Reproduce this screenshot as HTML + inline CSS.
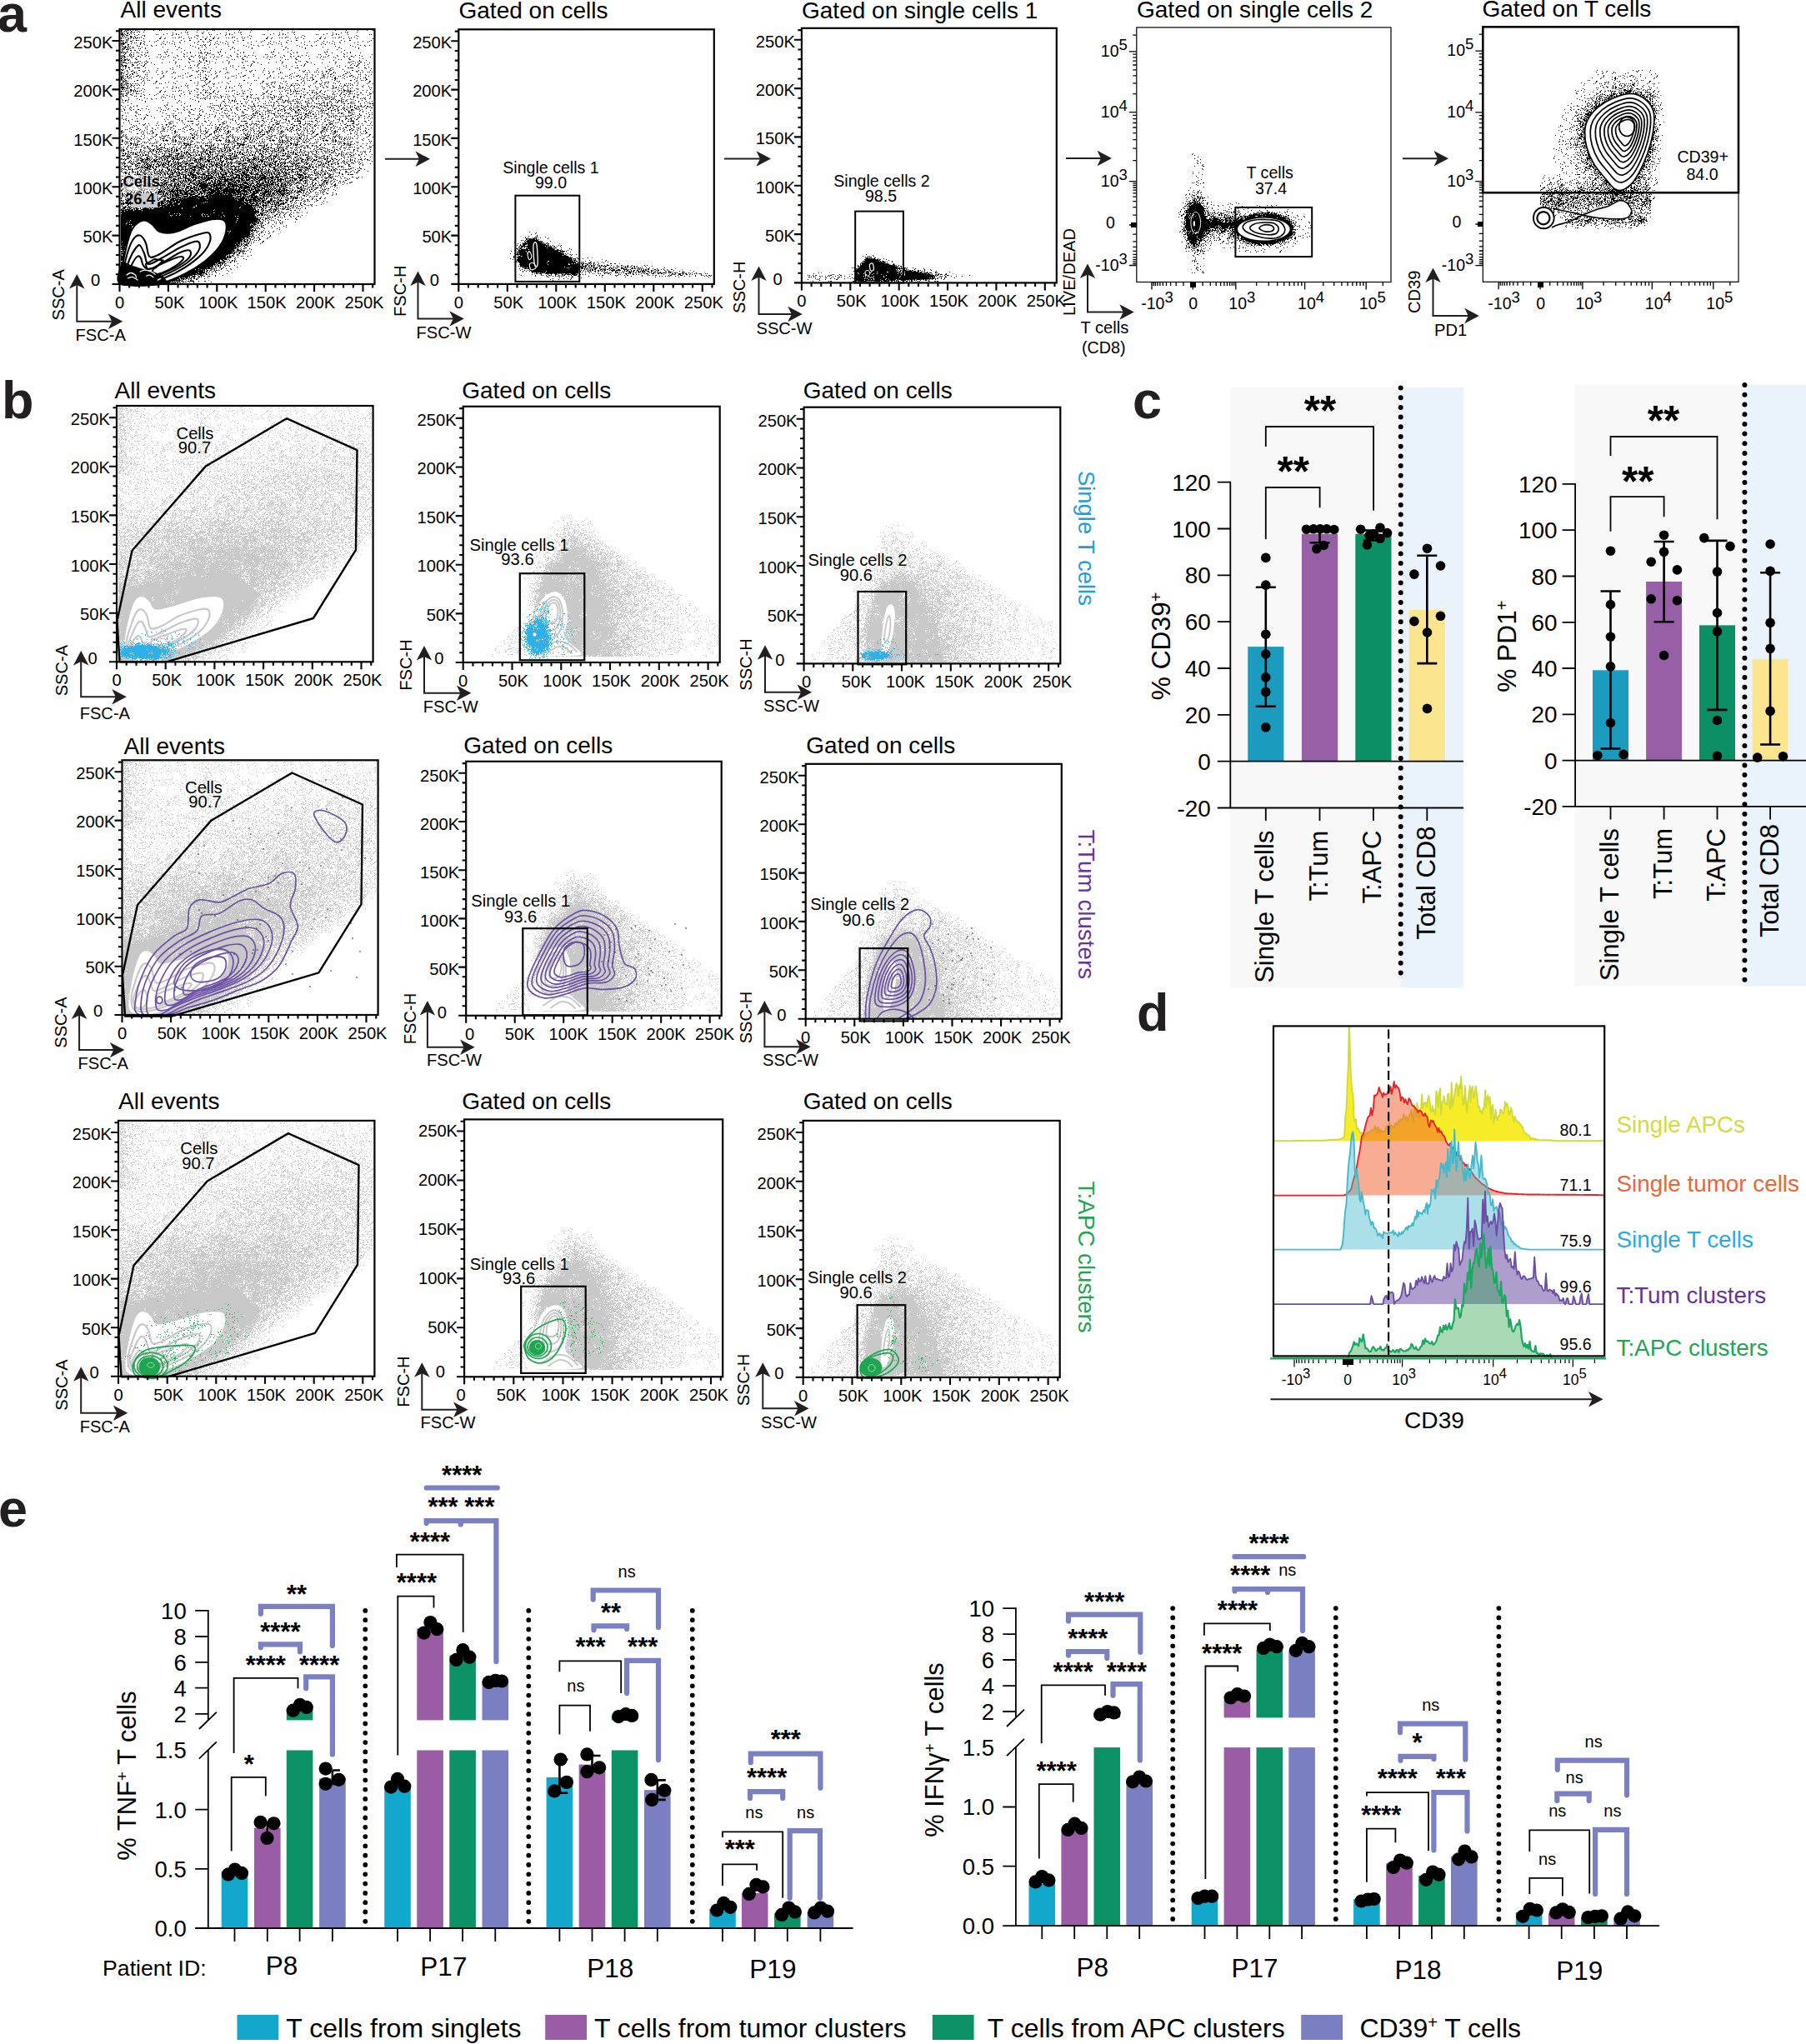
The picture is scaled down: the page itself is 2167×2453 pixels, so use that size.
<!DOCTYPE html><html><head><meta charset="utf-8"><title>Figure</title><style>html,body{margin:0;padding:0;background:#fff}svg{display:block}text{font-family:"Liberation Sans",sans-serif}</style></head><body><svg width="2167" height="2453" viewBox="0 0 2167 2453"><rect width="2167" height="2453" fill="#fff"/><defs><path id="t0" d="M28 0h1m-29 1h1m6 0h1m21 0h1m32 0h1m-53 1h1m9 0h1m21 0h1m4 0h1m-47 1h1m7 0h1m11 0h1m6 0h1m3 0h1m4 0h2m11 0h1m-47 1h1m1 0h1m9 0h1m12 0h1m10 0h1m19 0h1m-61 1h1m17 0h1m16 0h1m-2 1h1m16 0h1m-49 1h1m18 0h1m2 0h1m9 0h2m-21 1h1m21 1h1m1 0h1m6 0h1m-37 1h1m6 0h2m14 0h1m13 0h2m-48 1h1m32 0h1m17 0h1m-36 1h1m27 0h1m-2 1h1m11 0h1m-35 1h1m12 0h1m4 0h1m3 0h1m-26 1h1m9 0h1m13 0h1m-22 1h1m-9 1h1m18 0h1m1 0h2m-26 1h1m48 0h1m-47 1h1m11 0h1m11 1h1m6 0h1m3 0h1m9 0h1m-59 1h1m5 0h1m34 0h1m1 0h1m-39 1h1m8 0h1m27 0h1m14 0h1m-57 1h1m12 0h1m1 0h1m14 0h1m-32 1h1m11 0h1m15 0h1m17 1h1m12 0h1m-58 1h1m22 0h1m9 0h2m-35 1h1m17 0h1m1 0h1m10 0h2m11 0h1m-46 1h1m10 0h1m17 0h1m-32 1h1m16 0h1m8 0h1m14 0h1m11 0h1m-55 1h1m16 0h1m18 2h2m11 0h1m1 0h1m-32 1h1m38 0h2m-51 1h1m48 0h1m-54 1h1m9 0h1m24 0h1m16 0h1m-58 1h1m16 0h1m12 0h1m13 0h1m10 0h1m6 0h1m-34 2h1m2 0h1m10 0h1m-30 1h1m9 0h1m6 0h1m-25 1h1m10 0h1m-16 1h1m10 0h1m3 0h1m2 0h1m10 0h1m25 0h1m1 0h1m-48 1h1m28 0h1m1 1h1m-45 1h1m21 0h1m1 0h1m8 0h1m6 0h1m-42 1h1m5 0h1m8 0h1m2 0h1m3 0h1m14 0h1m-38 1h1m4 0h1m22 0h1m6 0h1m8 0h1m18 0h1m-39 2h1m9 0h2m24 0h1m-58 1h1m10 0h1m13 0h1m21 0h1m7 0h1m-52 1h1m14 0h1m21 0h1m11 0h1m-56 1h1m8 0h1m5 0h1m6 0h1m16 0h1m-38 1h1m9 0h1m-14 1h1m4 0h1m10 0h1m27 0h1m-10 1h1m11 0h1m4 0h1m5 0h1m-42 1h1m20 0h1m14 0h1m-52 1h1m19 0h1m18 0h1m-21 1h1m23 0h1m-22 1h1m20 0h1m-38 1h1m10 0h1m8 1h1m-22 1h1m-4 1h1m2 0h1m16 0h1m10 0h1m-31 1h1m7 0h1m17 0h1m3 0h1m11 0h1" stroke-width="1" fill="none" transform="translate(0 .5)"/><path id="t1" d="M22 0h1m27 0h1m6 0h1m1 0h1m-49 1h1m15 0h1m13 0h1m3 0h1m15 0h1m-53 1h1m5 0h1m11 0h1m-27 1h1m44 0h1m-34 1h2m6 0h1m26 0h1m-2 1h1m3 0h1m-42 1h1m2 1h1m-7 1h1m6 0h1m11 0h1m20 0h1m7 0h1m-28 1h1m30 0h1m2 0h1m-61 1h1m6 0h1m5 0h1m20 0h2m7 0h1m-30 1h1m6 0h1m2 0h1m3 0h1m2 0h1m8 0h1m16 0h1m-59 1h1m9 0h1m4 0h1m22 0h1m7 0h1m-41 1h1m22 0h2m5 0h1m-20 1h1m34 0h1m-49 1h1m3 0h1m12 0h1m20 0h1m-18 1h1m31 0h1m-53 1h1m6 0h1m12 0h1m6 0h1m4 0h2m6 0h1m6 0h2m0 1h1m-46 1h2m3 0h1m4 0h1m-9 1h2m24 0h1m7 0h1m-40 1h1m3 0h1m17 0h1m2 1h1m2 0h1m15 0h1m5 0h1m4 0h1m-53 1h1m22 0h1m14 0h1m-40 1h1m21 0h1m4 0h1m-33 1h1m1 0h1m5 0h2m14 0h1m17 0h1m7 0h1m6 0h1m-60 1h1m13 0h1m38 0h1m-51 1h1m3 0h1m2 0h1m16 0h1m10 0h1m17 0h1m-41 1h1m20 0h1m5 0h1m8 0h1m-52 1h1m1 0h1m2 0h1m8 0h1m9 0h1m24 0h1m-35 1h1m1 0h1m8 0h1m14 0h1m3 0h1m6 0h1m-42 1h1m3 0h1m22 0h1m13 0h2m-56 1h1m15 0h1m19 0h1m6 0h1m9 0h1m-32 1h1m19 0h1m-42 1h1m4 0h1m1 0h1m12 0h1m22 0h1m-41 1h1m-5 1h1m7 0h1m14 0h1m9 0h1m1 0h1m-37 1h1m4 0h1m23 0h1m8 0h1m-37 1h1m12 0h1m7 0h1m5 0h1m6 0h1m2 0h1m12 0h1m-53 1h1m6 0h1m20 0h1m21 0h1m7 0h1m-56 1h1m5 0h1m6 0h1m34 0h1m-34 1h1m8 0h1m10 0h1m-23 1h1m8 0h1m10 0h1m8 0h1m-25 1h1m6 0h1m4 0h1m26 0h1m-52 1h1m18 0h1m22 0h1m4 0h1m-28 1h1m2 0h1m1 0h1m1 0h1m2 0h1m-8 1h1m22 0h1m-40 1h1m8 0h1m22 0h2m9 0h1m-58 1h1m28 0h1m6 0h1m2 0h1m18 0h1m-56 1h1m11 0h1m10 0h1m15 0h1m1 0h1m-47 2h1m8 0h1m9 0h1m13 0h1m1 0h1m4 0h1m19 0h1m-57 1h1m4 0h1m30 0h1m3 0h1m-40 1h1m1 0h1m1 0h1m16 0h1m13 0h1m11 0h1m1 0h1m5 0h1m-11 1h1m-38 1h1m12 0h1m10 0h1m-19 1h1m2 0h1m2 0h1m24 0h1m-40 1h2m9 0h1m2 0h1m1 0h1m4 0h1m22 0h1m6 0h1m-58 1h1m7 0h1m4 0h1m19 0h1m1 0h1m-39 1h1m50 0h1m-40 1h1m13 0h1m4 0h2m4 0h1m8 0h1m11 0h1m1 0h1m-62 2h1m1 0h1m9 0h1m1 0h1m1 0h1m24 0h1m6 0h1m4 0h1m8 0h1m-56 1h1m10 0h1m18 0h1m7 0h1m2 0h1m3 0h1m2 0h2m2 0h1" stroke-width="1" fill="none" transform="translate(0 .5)"/><path id="t2" d="M2 0h1m9 0h1m3 0h1m11 0h1m7 0h1m1 0h1m2 0h1m4 0h1m5 0h1m-41 1h1m2 0h1m5 0h1m10 0h1m1 0h1m1 0h1m4 0h1m1 0h1m11 0h1m-53 1h1m25 0h1m13 0h1m3 0h1m7 0h1m7 0h1m-54 1h1m6 0h2m2 0h1m3 0h1m5 0h1m7 0h1m4 0h1m-44 1h1m1 0h1m3 0h1m8 0h1m4 0h2m10 0h1m3 0h2m6 0h1m7 0h1m-52 1h1m10 0h1m7 0h1m8 0h1m3 0h1m20 0h1m6 0h1m-61 1h1m2 0h1m31 0h1m1 0h1m13 0h1m-31 1h1m3 0h1m6 0h1m6 0h1m2 0h1m5 0h1m1 0h1m5 0h1m3 0h1m-62 1h1m3 0h1m2 0h2m6 0h1m4 0h1m3 0h1m12 0h1m7 0h1m1 0h1m1 0h1m1 0h1m-44 1h1m31 0h1m4 0h1m8 0h2m2 0h1m-42 1h1m26 0h1m4 0h1m-49 1h1m10 0h1m6 0h1m7 0h1m2 0h1m14 0h1m10 0h3m-50 1h2m1 0h1m10 0h1m16 0h1m7 0h1m-19 1h1m9 0h1m20 0h1m-57 1h1m24 0h2m4 0h1m2 0h1m18 0h2m-60 1h1m21 0h1m10 0h1m2 0h1m-29 1h1m1 0h1m4 0h1m20 0h1m1 0h1m19 0h1m-55 1h1m21 0h1m6 0h1m5 0h1m10 0h1m8 0h1m2 0h1m-42 1h1m17 0h1m-38 1h1m14 0h1m21 0h1m5 0h1m-33 1h1m9 0h1m6 0h1m8 0h1m7 0h1m2 0h1m-40 1h1m1 0h1m15 0h1m12 0h1m5 0h1m2 0h1m1 0h1m3 0h1m-52 1h1m17 0h1m7 0h1m2 0h1m2 0h1m19 0h1m-20 1h1m11 0h1m4 0h2m-54 1h2m13 0h1m19 0h2m13 0h1m-52 1h2m7 0h1m3 0h1m5 0h2m6 0h1m12 0h1m1 0h1m7 0h1m-47 1h1m37 0h1m4 0h1m-45 1h1m21 0h1m14 0h1m-43 1h1m4 0h1m20 0h1m6 0h1m2 0h1m9 0h1m-36 1h1m6 0h1m28 0h1m7 0h1m-57 1h1m1 0h1m12 0h1m19 0h1m18 0h2m-56 1h1m4 0h1m5 1h1m3 0h1m23 0h1m20 0h1m-57 1h1m9 0h1m17 0h1m4 0h1m2 0h1m11 0h1m7 0h1m-43 1h1m18 0h2m3 0h1m4 0h1m-46 1h1m14 0h1m1 0h1m2 0h1m24 0h1m5 0h1m2 0h1m-54 1h1m10 0h1m1 0h1m4 0h1m3 0h1m1 0h1m10 0h1m1 0h1m-37 1h1m5 0h1m5 0h1m5 0h1m15 0h2m7 0h1m6 0h1m-54 1h3m7 0h1m12 0h1m14 0h1m12 0h1m-39 1h1m2 0h1m6 0h1m9 0h1m5 0h1m19 0h1m-58 1h1m1 0h2m6 0h1m3 0h1m10 0h1m7 0h1m-30 1h1m30 0h1m-22 1h1m4 0h2m12 0h1m11 0h1m-21 1h1m17 0h1m4 0h1m4 0h1m1 0h1m-55 1h1m6 0h1m15 0h3m1 0h1m3 0h1m17 0h1m-49 1h1m3 0h1m6 0h1m8 1h1m7 0h1m1 0h1m5 0h1m1 0h1m9 0h1m4 0h1m-18 1h1m11 0h1m2 0h1m1 0h1m-45 1h1m4 0h1m24 0h1m3 0h1m-50 1h1m1 0h1m2 0h1m11 0h1m6 0h1m9 0h1m14 0h1m-44 1h1m23 0h1m21 0h1m4 0h1m5 0h1m-63 1h1m18 0h1m35 0h1m5 0h1m-50 1h1m3 0h1m3 0h1m7 0h1m-19 1h1m4 0h1m29 0h1m9 0h1m2 0h1m-58 1h1m8 0h1m3 0h1m9 0h1m15 0h2m16 0h1m2 0h1m-57 1h2m1 0h1m4 0h1m1 0h1m11 0h1m3 0h1m1 0h1m9 0h1m14 0h1m-29 1h1m23 0h1m-31 1h1m4 0h1m4 0h2m3 0h1m2 0h1m5 0h1m-46 1h1m15 0h2m6 0h1m8 0h1m5 0h1m2 0h2m11 0h1m-56 1h1m3 0h1m2 0h1m14 0h1m9 0h1m12 0h2m6 0h1m-57 1h1m3 0h1m2 0h1m25 0h1m2 0h1m3 0h1m9 0h1m7 0h2m2 0h1m-64 1h1m12 0h1m34 0h1m-40 1h1m8 0h1m10 0h1m11 0h1m-37 1h1m14 0h1m2 0h1m20 0h1m15 0h1" stroke-width="1" fill="none" transform="translate(0 .5)"/><path id="t3" d="M8 0h1m33 0h1m5 0h1m7 0h1m1 0h1m-51 1h1m1 0h1m10 0h1m10 0h1m12 0h1m2 0h1m5 0h1m2 0h1m-57 1h1m24 0h1m8 0h1m5 0h1m12 0h1m2 0h2m2 0h1m-56 1h2m10 0h1m1 0h1m16 0h1m9 0h2m-35 1h1m4 0h1m2 0h1m6 0h2m5 0h1m12 0h1m7 0h1m-54 1h1m4 0h2m2 0h2m6 0h1m9 0h1m2 0h1m10 0h1m2 0h1m4 0h1m5 0h1m-60 1h1m19 0h1m3 0h1m9 0h1m1 0h2m5 0h1m18 0h2m-60 1h1m6 0h1m1 0h1m2 0h1m1 0h1m2 0h1m6 0h2m4 0h1m6 0h2m8 0h1m3 0h1m3 0h1m-57 1h1m5 0h1m4 0h2m6 0h1m15 0h2m2 0h1m4 0h2m5 0h1m5 0h1m-44 1h1m8 0h1m8 0h1m1 0h1m4 0h1m5 0h1m2 0h1m7 0h1m2 0h1m-42 1h1m4 0h1m3 0h1m20 0h1m-50 1h1m10 0h1m3 0h1m4 0h1m4 0h1m12 0h1m8 0h1m2 0h2m-52 1h1m3 0h1m6 0h2m15 0h1m18 0h1m6 0h1m1 0h1m-57 1h1m1 0h1m7 0h1m4 0h1m32 0h1m-51 1h1m2 0h1m11 0h1m5 0h2m4 0h1m6 0h1m8 0h1m2 0h1m8 0h1m1 0h1m-50 1h1m16 0h1m1 0h1m29 0h1m3 0h1m-61 1h1m3 0h2m4 0h1m10 0h1m13 0h1m20 0h1m1 0h1m1 0h2m-63 1h1m2 0h1m6 0h1m1 0h1m2 0h1m26 0h1m6 0h1m10 0h1m-61 1h1m2 0h1m7 0h1m16 0h1m6 0h1m2 0h1m2 0h1m1 0h1m8 0h1m5 0h2m-43 1h1m22 0h1m1 0h1m1 0h1m5 0h1m-50 1h1m4 0h1m3 0h1m19 0h2m7 0h1m3 0h1m7 0h1m9 0h2m-58 1h1m3 0h1m6 0h1m7 0h1m3 0h1m2 0h1m1 0h1m6 0h1m1 0h1m9 0h2m4 0h1m1 0h1m-55 1h1m6 0h1m3 0h1m3 0h1m4 0h1m4 0h1m10 0h2m13 0h2m-44 1h1m3 0h1m8 0h1m1 0h1m2 0h2m6 0h2m5 0h1m4 0h1m1 0h1m-55 1h2m3 0h2m9 0h1m7 0h1m2 0h1m7 0h1m9 0h1m9 0h1m2 0h1m-51 1h1m4 0h1m9 0h1m15 0h1m2 0h1m17 0h1m-55 1h1m2 0h1m9 0h1m10 0h1m4 0h1m18 0h1m-52 1h1m3 0h1m8 0h1m7 0h1m4 0h1m23 0h2m6 0h1m-56 1h1m9 0h1m1 0h1m5 0h1m15 0h1m4 0h1m11 0h2m-59 1h1m10 0h2m10 0h1m2 0h1m1 0h1m12 0h1m20 0h1m-54 1h1m2 0h1m8 0h1m3 0h1m9 0h2m6 0h1m13 0h1m2 0h1m1 0h1m-60 1h1m12 0h1m3 0h1m6 0h1m12 0h1m2 0h1m1 0h2m4 0h1m-38 1h2m5 0h2m7 0h1m5 0h1m2 0h2m2 0h1m-45 1h1m3 0h1m5 0h1m10 0h1m3 0h1m14 0h2m8 0h1m2 0h1m2 0h1m1 0h2m-53 1h1m7 0h1m29 0h2m7 0h1m-32 1h2m6 0h1m8 0h1m1 0h1m8 0h1m1 0h1m-52 1h1m1 0h1m6 0h1m10 0h1m2 0h1m5 0h1m2 0h1m1 0h1m5 0h1m1 0h2m5 0h1m-38 1h1m6 0h1m5 0h1m5 0h1m3 0h1m6 0h1m7 0h1m-49 1h1m9 0h3m1 0h1m1 0h1m4 0h1m12 0h1m2 0h1m6 0h1m10 0h1m-58 1h1m1 0h1m32 0h1m6 0h1m2 0h1m14 0h1m-51 1h1m4 0h1m3 0h1m2 0h2m17 0h1m2 0h1m13 0h1m-57 1h1m1 0h1m19 0h1m20 0h1m1 0h1m5 0h1m2 0h1m4 0h1m-50 1h1m5 0h1m15 0h1m6 0h2m10 0h1m-41 1h2m1 0h2m8 0h1m4 0h1m2 0h1m24 0h1m-34 1h1m2 0h1m-20 1h1m1 0h2m17 0h1m1 0h1m25 0h1m-57 1h1m7 0h1m3 0h1m7 0h1m4 0h3m3 0h1m10 0h1m1 0h1m6 0h2m3 0h1m-49 1h1m2 0h1m6 0h1m7 0h1m8 0h1m20 0h1m1 0h1m-59 1h1m7 0h1m1 0h1m2 0h1m4 0h1m6 0h1m4 0h1m-36 1h2m9 0h1m1 0h1m2 0h1m2 0h1m4 0h1m9 0h1m4 0h1m3 0h1m14 0h1m1 0h1m-52 1h1m3 0h2m4 0h1m2 0h1m5 0h1m7 0h1m13 0h1m6 0h1m2 0h1m1 0h1m-49 1h1m9 0h1m15 0h1m10 0h1m1 0h1m1 0h1m4 0h2m-55 1h1m11 0h2m13 0h1m1 0h1m7 0h1m7 0h1m2 0h2m1 0h1m4 0h1m-54 1h1m2 0h1m3 0h1m1 0h2m4 0h1m6 0h1m18 0h1m11 0h1m-64 1h1m14 0h1m13 0h1m1 0h2m6 0h1m-34 1h1m15 0h1m6 0h1m1 0h1m2 0h1m10 0h1m4 0h1m11 0h1m-61 1h1m2 0h1m5 0h1m8 0h1m13 0h2m24 0h1m-56 1h1m5 0h1m2 0h1m7 0h1m7 0h1m1 0h1m1 0h1m12 0h1m9 0h2m4 0h1m-57 1h1m1 0h1m1 0h1m4 0h1m1 0h2m24 0h1m4 0h1m-47 1h1m4 0h1m1 0h1m2 0h1m4 0h1m1 0h1m2 0h3m1 0h1m30 0h1m1 0h1m-58 1h1m4 0h1m1 0h2m3 0h1m9 0h1m1 0h2m6 0h1m24 0h1m-57 1h1m5 0h1m13 0h1m1 0h1m13 0h1m6 0h1m1 0h1m2 0h1m1 0h1m4 0h1m-59 1h1m3 0h2m8 0h1m5 0h1m2 0h1m1 0h1m9 0h1m1 0h1m1 0h1m9 0h2m10 0h1m-48 1h1m1 0h1m4 0h1m19 0h2m5 0h1m9 0h1" stroke-width="1" fill="none" transform="translate(0 .5)"/><path id="t4" d="M3 0h1m1 0h1m3 0h1m23 0h1m1 0h1m4 0h1m2 0h1m2 0h1m10 0h1m-58 1h1m10 0h1m4 0h1m10 0h1m3 0h1m14 0h1m4 0h1m2 0h1m3 0h2m-55 1h1m4 0h2m6 0h1m3 0h1m4 0h1m2 0h1m13 0h1m2 0h1m5 0h1m5 0h1m-56 1h1m11 0h3m3 0h1m1 0h1m7 0h2m3 0h1m7 0h1m6 0h1m8 0h1m1 0h1m-63 1h1m8 0h1m16 0h1m2 0h3m2 0h1m3 0h1m21 0h1m-59 1h1m1 0h1m2 0h1m1 0h1m6 0h2m24 0h1m3 0h1m2 0h1m4 0h2m4 0h1m-59 1h1m2 0h1m3 0h1m1 0h2m2 0h2m14 0h1m13 0h1m1 0h2m2 0h1m3 0h1m5 0h2m-54 1h1m10 0h1m2 0h1m2 0h1m1 0h3m6 0h1m5 0h2m3 0h2m2 0h1m7 0h1m1 0h1m-63 1h1m2 0h1m2 0h1m10 0h1m1 0h1m4 0h1m4 0h1m11 0h1m2 0h1m2 0h2m9 0h1m-54 1h1m1 0h1m4 0h1m20 0h2m7 0h2m2 0h1m1 0h1m1 0h2m-45 1h1m2 0h1m6 0h1m1 0h3m14 0h1m18 0h1m1 0h1m-56 1h1m5 0h3m1 0h1m11 0h1m2 0h1m2 0h2m2 0h1m2 0h2m1 0h1m5 0h1m3 0h1m1 0h1m9 0h1m-53 1h1m2 0h1m7 0h1m2 0h1m3 0h1m10 0h1m3 0h1m18 0h1m-63 1h2m6 0h2m2 0h1m4 0h1m2 0h1m13 0h1m3 0h1m1 0h1m9 0h1m9 0h1m1 0h1m-56 1h1m5 0h2m3 0h1m6 0h1m2 0h1m1 0h2m3 0h2m19 0h1m-58 1h3m1 0h1m7 0h4m1 0h1m1 0h1m10 0h1m6 0h1m5 0h1m4 0h1m1 0h1m1 0h1m10 0h1m-56 1h1m11 0h1m3 0h1m19 0h4m5 0h1m3 0h1m3 0h1m-53 1h2m3 0h1m4 0h1m17 0h1m3 0h1m3 0h1m8 0h1m-52 1h1m2 0h1m8 0h1m7 0h1m6 0h2m3 0h1m3 0h2m1 0h1m7 0h1m4 0h1m1 0h1m3 0h1m-49 1h1m10 0h1m6 0h1m5 0h1m2 0h1m6 0h1m5 0h1m2 0h1m5 0h1m-59 1h1m6 0h2m5 0h2m1 0h1m6 0h1m8 0h1m3 0h1m2 0h1m2 0h3m3 0h1m2 0h2m-58 1h2m6 0h1m7 0h1m5 0h3m2 0h1m10 0h2m2 0h1m3 0h1m7 0h1m2 0h1m1 0h3m-52 1h1m13 0h2m8 0h1m11 0h2m3 0h1m5 0h2m1 0h3m-63 1h1m3 0h1m7 0h1m4 0h1m2 0h1m1 0h1m5 0h1m6 0h1m12 0h1m3 0h1m6 0h1m-59 1h2m10 0h2m7 0h1m2 0h1m1 0h1m2 0h2m1 0h2m4 0h1m2 0h1m2 0h1m1 0h1m1 0h1m5 0h1m6 0h1m-49 1h1m1 0h1m6 0h1m4 0h2m10 0h1m3 0h1m-27 1h1m2 0h1m5 0h1m4 0h2m5 0h1m7 0h1m2 0h1m-51 1h3m3 0h1m12 0h1m9 0h1m7 0h1m8 0h1m1 0h1m3 0h1m7 0h1m1 0h1m-61 1h1m2 0h2m12 0h1m1 0h2m4 0h1m6 0h1m10 0h1m6 0h2m3 0h3m-56 1h1m2 0h1m2 0h3m5 0h1m2 0h2m7 0h1m2 0h1m8 0h1m8 0h2m3 0h1m-55 1h1m2 0h1m1 0h1m6 0h1m1 0h1m11 0h1m8 0h1m5 0h1m7 0h2m2 0h3m-58 1h1m2 0h1m4 0h2m3 0h1m3 0h1m4 0h1m12 0h1m12 0h1m4 0h2m1 0h1m4 0h1m-61 1h1m1 0h1m1 0h1m6 0h1m6 0h1m4 0h1m2 0h1m23 0h2m8 0h1m-60 1h1m2 0h1m2 0h4m3 0h1m3 0h1m16 0h2m17 0h1m2 0h1m2 0h1m-62 1h1m5 0h1m9 0h1m2 0h1m1 0h1m5 0h2m1 0h1m6 0h1m3 0h1m18 0h2m-54 1h1m3 0h1m8 0h1m1 0h1m21 0h1m1 0h1m5 0h1m1 0h1m2 0h1m3 0h2m-60 1h1m2 0h1m1 0h2m10 0h1m1 0h1m6 0h1m12 0h2m11 0h2m5 0h1m-55 1h1m2 0h1m1 0h1m4 0h1m3 0h1m9 0h2m13 0h1m-47 1h1m8 0h1m5 0h1m5 0h1m3 0h1m1 0h1m3 0h1m2 0h2m1 0h1m9 0h1m12 0h1m-56 1h1m2 0h1m1 0h1m3 0h1m5 0h1m1 0h1m1 0h1m1 0h1m1 0h1m22 0h1m-46 1h1m11 0h1m2 0h2m2 0h1m9 0h1m1 0h1m9 0h2m10 0h1m-62 1h2m12 0h1m2 0h1m2 0h1m5 0h1m-24 1h1m2 0h1m5 0h1m19 0h1m18 0h1m-51 1h1m3 0h3m8 0h1m13 0h1m7 0h1m2 0h2m7 0h1m-43 1h1m4 0h1m10 0h1m12 0h1m5 0h1m2 0h1m12 0h1m-58 1h1m3 0h1m1 0h1m1 0h1m9 0h1m8 0h1m5 0h2m3 0h1m5 0h1m5 0h1m3 0h1m6 0h1m-60 1h1m1 0h1m2 0h1m1 0h1m12 0h1m1 0h1m17 0h2m1 0h2m-45 1h3m7 0h1m7 0h1m4 0h1m3 0h2m6 0h1m3 0h1m6 0h1m2 0h3m-50 1h1m1 0h1m1 0h1m5 0h2m5 0h3m9 0h1m8 0h1m11 0h1m5 0h1m-59 1h1m3 0h1m7 0h1m36 0h1m2 0h1m2 0h1m-59 1h2m3 0h1m5 0h1m6 0h1m7 0h1m3 0h1m1 0h1m3 0h2m12 0h1m11 0h1m-62 1h1m3 0h1m5 0h2m8 0h2m1 0h1m5 0h1m6 0h1m1 0h1m14 0h2m2 0h1m-59 1h1m7 0h1m1 0h1m4 0h1m1 0h1m7 0h1m5 0h1m5 0h1m8 0h1m1 0h1m3 0h1m8 0h1m-62 1h1m13 0h1m12 0h2m15 0h1m4 0h1m3 0h1m-45 1h1m2 0h2m3 0h1m5 0h1m8 0h1m15 0h1m4 0h1m4 0h3m1 0h1m-59 1h1m3 0h2m4 0h1m13 0h1m1 0h1m7 0h1m12 0h1m3 0h1m3 0h1m2 0h1m-64 1h1m1 0h1m7 0h1m5 0h1m4 0h2m6 0h1m1 0h1m3 0h1m13 0h1m6 0h2m2 0h1m-48 1h1m7 0h1m8 0h1m21 0h1m7 0h1m-43 1h1m1 0h1m6 0h1m4 0h1m3 0h1m9 0h1m11 0h1m3 0h1m-57 1h1m2 0h1m2 0h1m12 0h1m1 0h1m3 0h1m1 0h1m8 0h1m11 0h1m2 0h1m-52 1h2m2 0h1m3 0h1m1 0h1m1 0h1m1 0h2m11 0h1m23 0h1m-57 1h1m13 0h2m2 0h2m1 0h2m6 0h1m3 0h1m2 0h1m12 0h1m2 0h2m3 0h1m-50 1h1m6 0h1m1 0h1m1 0h1m6 0h1m4 0h1m12 0h1m2 0h2m8 0h1m-57 1h1m18 0h1m25 0h1m3 0h1m2 0h1m6 0h1m1 0h1" stroke-width="1" fill="none" transform="translate(0 .5)"/><path id="t5" d="M11 0h1m4 0h1m1 0h2m2 0h1m2 0h2m3 0h1m1 0h1m1 0h1m4 0h1m5 0h2m9 0h1m1 0h1m3 0h1m-59 1h1m13 0h1m3 0h2m7 0h1m1 0h1m9 0h2m6 0h1m7 0h1m1 0h1m-62 1h2m5 0h1m2 0h1m6 0h1m24 0h1m9 0h1m1 0h1m5 0h1m-56 1h1m1 0h2m2 0h1m2 0h1m3 0h1m1 0h1m2 0h1m3 0h1m2 0h1m1 0h1m7 0h1m2 0h2m10 0h1m5 0h1m-62 1h1m4 0h1m2 0h1m1 0h4m1 0h1m1 0h1m6 0h1m1 0h3m11 0h1m2 0h2m11 0h1m2 0h1m3 0h1m-63 1h1m1 0h1m4 0h1m2 0h1m5 0h1m1 0h1m2 0h1m2 0h2m2 0h2m6 0h2m4 0h1m5 0h1m13 0h1m-62 1h1m4 0h1m1 0h1m4 0h1m3 0h1m4 0h1m1 0h1m18 0h1m4 0h2m-48 1h1m4 0h1m15 0h1m5 0h2m1 0h1m1 0h1m1 0h1m2 0h1m2 0h1m1 0h1m2 0h1m3 0h1m1 0h2m1 0h1m3 0h1m-61 1h1m9 0h1m5 0h1m4 0h1m2 0h1m7 0h1m1 0h1m4 0h2m3 0h1m1 0h1m6 0h1m2 0h1m1 0h1m2 0h1m-55 1h1m1 0h1m5 0h1m1 0h1m2 0h1m5 0h1m2 0h1m5 0h2m8 0h1m1 0h1m1 0h1m1 0h1m6 0h1m-57 1h1m7 0h1m1 0h1m2 0h1m1 0h1m1 0h1m4 0h1m6 0h1m5 0h1m2 0h1m7 0h1m4 0h1m1 0h1m1 0h1m3 0h1m-61 1h2m4 0h1m2 0h1m3 0h1m5 0h1m5 0h2m1 0h2m3 0h1m15 0h1m2 0h1m2 0h1m3 0h1m-60 1h1m1 0h1m1 0h1m11 0h1m3 0h1m2 0h1m2 0h1m4 0h1m1 0h1m1 0h1m4 0h1m7 0h1m2 0h2m-53 1h1m10 0h1m8 0h1m3 0h1m1 0h1m2 0h2m2 0h1m3 0h1m9 0h1m4 0h1m1 0h1m1 0h1m2 0h2m-61 1h1m8 0h1m3 0h1m1 0h3m1 0h1m4 0h3m5 0h1m2 0h2m8 0h1m11 0h1m-59 1h1m17 0h1m15 0h2m2 0h2m3 0h2m4 0h1m3 0h1m2 0h2m3 0h1m-60 1h1m7 0h1m2 0h2m15 0h1m1 0h1m4 0h1m6 0h1m5 0h2m8 0h2m-60 1h1m2 0h1m2 0h2m10 0h1m1 0h1m1 0h1m2 0h3m17 0h1m1 0h1m1 0h1m5 0h1m-57 1h1m3 0h1m13 0h2m11 0h2m1 0h1m21 0h3m-55 1h3m7 0h3m1 0h1m1 0h1m4 0h2m1 0h2m3 0h1m3 0h2m1 0h1m1 0h1m10 0h1m2 0h1m2 0h1m1 0h1m-58 1h2m5 0h1m4 0h1m5 0h1m10 0h1m3 0h1m2 0h1m1 0h1m5 0h1m5 0h1m1 0h1m3 0h2m-63 1h2m1 0h1m2 0h2m4 0h1m8 0h1m1 0h1m18 0h1m1 0h1m4 0h1m8 0h2m1 0h1m-61 1h1m3 0h1m11 0h1m3 0h1m2 0h1m4 0h1m8 0h1m10 0h1m2 0h1m6 0h1m1 0h2m-62 1h1m3 0h1m1 0h2m3 0h3m1 0h1m4 0h1m14 0h1m3 0h1m9 0h1m3 0h2m-41 1h2m12 0h1m2 0h1m1 0h1m1 0h1m3 0h1m3 0h1m1 0h1m2 0h1m5 0h2m3 0h1m-61 1h2m4 0h1m4 0h1m2 0h1m1 0h1m4 0h1m3 0h1m3 0h1m3 0h1m1 0h1m1 0h1m7 0h1m5 0h1m2 0h1m6 0h2m-63 1h1m8 0h1m1 0h1m11 0h1m1 0h1m15 0h1m3 0h1m11 0h1m1 0h1m1 0h1m-58 1h1m4 0h1m3 0h1m2 0h1m4 0h1m3 0h1m2 0h1m7 0h1m3 0h1m1 0h2m7 0h1m1 0h1m4 0h2m2 0h1m-64 1h1m1 0h1m2 0h1m4 0h1m2 0h1m3 0h1m9 0h1m10 0h3m2 0h1m3 0h2m-49 1h2m4 0h1m10 0h1m4 0h1m1 0h1m2 0h1m6 0h2m4 0h2m2 0h2m5 0h1m2 0h1m4 0h1m1 0h1m-57 1h1m4 0h1m1 0h1m10 0h2m17 0h1m2 0h1m2 0h1m1 0h1m1 0h1m2 0h1m1 0h1m2 0h1m2 0h1m-60 1h1m1 0h1m1 0h1m2 0h1m2 0h1m2 0h4m5 0h1m5 0h1m4 0h1m2 0h1m8 0h1m2 0h1m2 0h1m1 0h1m3 0h2m-62 1h1m6 0h1m3 0h1m4 0h1m5 0h1m5 0h1m3 0h2m2 0h1m3 0h1m2 0h1m6 0h3m4 0h1m3 0h1m-61 1h1m2 0h1m2 0h1m8 0h1m1 0h1m3 0h1m7 0h2m5 0h2m2 0h1m3 0h1m4 0h1m5 0h1m1 0h1m-60 1h1m3 0h1m8 0h1m2 0h1m3 0h1m1 0h1m3 0h1m4 0h1m6 0h1m9 0h1m9 0h1m-59 1h1m5 0h1m4 0h1m2 0h2m7 0h1m2 0h1m9 0h1m5 0h1m3 0h1m3 0h1m3 0h2m5 0h2m-50 1h2m4 0h2m1 0h1m2 0h1m1 0h1m5 0h2m1 0h3m3 0h1m1 0h1m1 0h1m3 0h2m1 0h1m1 0h2m3 0h1m-60 1h2m1 0h1m7 0h6m1 0h2m3 0h2m2 0h1m2 0h1m2 0h1m12 0h1m6 0h2m3 0h1m1 0h3m-64 1h2m3 0h1m1 0h1m1 0h1m3 0h1m4 0h1m2 0h1m1 0h2m4 0h1m6 0h1m1 0h1m2 0h1m3 0h1m15 0h1m1 0h1m-56 1h1m3 0h1m2 0h1m4 0h2m2 0h1m1 0h1m1 0h2m1 0h1m16 0h2m9 0h1m2 0h2m-63 1h1m11 0h1m2 0h2m3 0h1m5 0h1m8 0h2m19 0h1m1 0h1m2 0h1m-60 1h1m5 0h1m1 0h1m2 0h2m5 0h2m6 0h2m5 0h1m2 0h1m6 0h1m12 0h1m-57 1h1m1 0h1m2 0h1m1 0h1m8 0h1m3 0h1m4 0h1m15 0h1m10 0h2m-56 1h4m2 0h1m4 0h1m1 0h1m3 0h3m10 0h2m2 0h1m4 0h1m2 0h1m3 0h1m2 0h2m1 0h1m7 0h1m-49 1h1m1 0h1m9 0h1m2 0h1m6 0h1m2 0h1m2 0h1m7 0h1m1 0h1m3 0h2m-49 1h2m2 0h1m3 0h2m2 0h2m2 0h1m2 0h1m1 0h1m3 0h2m4 0h1m8 0h2m6 0h2m-53 1h1m4 0h1m3 0h4m8 0h1m9 0h1m8 0h1m2 0h3m1 0h1m4 0h1m5 0h1m-51 1h1m1 0h1m4 0h1m4 0h1m6 0h1m6 0h1m6 0h1m1 0h1m2 0h1m1 0h1m3 0h1m-56 1h1m1 0h1m1 0h1m2 0h1m9 0h2m2 0h1m3 0h1m3 0h1m1 0h1m6 0h3m4 0h1m1 0h1m5 0h1m2 0h2m2 0h1m-63 1h1m2 0h1m3 0h1m9 0h1m6 0h2m9 0h1m12 0h1m5 0h3m-54 1h1m5 0h2m4 0h1m6 0h1m2 0h2m4 0h1m5 0h1m10 0h1m1 0h1m2 0h1m4 0h2m3 0h1m-61 1h2m4 0h1m11 0h2m2 0h1m5 0h1m2 0h1m2 0h1m1 0h1m6 0h1m12 0h2m-59 1h1m4 0h1m1 0h1m20 0h2m3 0h2m2 0h1m6 0h1m1 0h1m2 0h1m1 0h1m1 0h1m6 0h1m-51 1h1m1 0h1m2 0h1m1 0h1m40 0h1m1 0h2m-63 1h1m1 0h1m1 0h1m2 0h2m1 0h2m1 0h1m3 0h1m3 0h1m1 0h1m15 0h2m10 0h1m5 0h1m-57 1h2m12 0h1m4 0h1m1 0h1m7 0h1m3 0h1m12 0h1m3 0h1m6 0h2m-56 1h1m1 0h1m4 0h1m4 0h1m2 0h1m4 0h3m2 0h1m2 0h1m3 0h1m6 0h2m6 0h1m1 0h1m-50 1h2m6 0h1m6 0h1m1 0h1m5 0h2m13 0h1m2 0h1m2 0h1m2 0h1m5 0h2m-54 1h1m1 0h2m1 0h1m1 0h3m4 0h2m6 0h1m3 0h2m1 0h3m7 0h1m2 0h1m11 0h2m-55 1h1m3 0h2m4 0h1m2 0h1m1 0h1m2 0h1m10 0h1m4 0h1m3 0h1m1 0h1m1 0h1m3 0h1m6 0h1m2 0h1m-61 1h1m1 0h1m3 0h2m6 0h1m4 0h2m1 0h1m2 0h3m4 0h1m2 0h1m1 0h2m1 0h1m1 0h1m1 0h1m2 0h1m2 0h1m2 0h1m5 0h1m-62 1h1m3 0h1m5 0h2m11 0h1m2 0h2m1 0h1m1 0h1m18 0h1m1 0h1m5 0h1m-53 1h1m3 0h2m3 0h1m4 0h1m2 0h1m1 0h1m2 0h1m10 0h1m5 0h2m2 0h4m5 0h1m-54 1h1m2 0h1m3 0h1m2 0h1m2 0h1m3 0h2m1 0h2m3 0h1m11 0h1m1 0h1m3 0h3m1 0h1m5 0h1m2 0h1" stroke-width="1" fill="none" transform="translate(0 .5)"/><path id="t6" d="M0 0h1m7 0h1m4 0h1m5 0h1m4 0h1m6 0h1m1 0h2m3 0h1m2 0h1m4 0h1m2 0h2m1 0h1m1 0h1m3 0h1m4 0h1m-60 1h1m2 0h1m6 0h2m1 0h3m3 0h1m3 0h1m4 0h1m2 0h1m1 0h3m3 0h1m11 0h1m1 0h1m1 0h1m-60 1h1m1 0h1m6 0h1m1 0h1m1 0h1m4 0h1m1 0h2m4 0h4m3 0h1m1 0h1m5 0h1m3 0h1m2 0h1m6 0h2m1 0h1m3 0h1m-56 1h1m2 0h1m4 0h1m3 0h1m1 0h1m1 0h3m12 0h3m2 0h1m3 0h1m12 0h1m-53 1h1m8 0h1m1 0h1m1 0h1m3 0h1m3 0h1m3 0h1m1 0h1m5 0h1m1 0h3m1 0h4m2 0h1m5 0h1m-59 1h1m1 0h1m2 0h1m2 0h1m1 0h1m2 0h1m6 0h2m1 0h1m2 0h3m2 0h3m7 0h1m2 0h1m3 0h1m3 0h1m4 0h1m-55 1h2m2 0h1m1 0h2m4 0h1m7 0h1m2 0h1m3 0h2m3 0h1m1 0h2m3 0h1m3 0h2m6 0h1m3 0h1m2 0h1m-62 1h1m4 0h1m3 0h3m2 0h1m1 0h2m3 0h1m12 0h2m2 0h1m1 0h2m4 0h2m1 0h2m1 0h1m1 0h1m1 0h1m1 0h1m1 0h1m-62 1h1m3 0h1m2 0h1m1 0h1m1 0h1m1 0h1m3 0h1m1 0h1m6 0h2m1 0h2m5 0h1m2 0h1m2 0h1m1 0h2m1 0h1m8 0h1m2 0h1m3 0h1m-64 1h2m1 0h4m4 0h3m6 0h1m4 0h6m1 0h1m5 0h2m6 0h2m4 0h2m1 0h1m3 0h1m2 0h1m-57 1h2m3 0h2m5 0h1m1 0h1m2 0h1m1 0h2m1 0h4m1 0h1m1 0h1m4 0h1m5 0h1m1 0h4m1 0h1m1 0h1m6 0h1m-63 1h1m12 0h1m5 0h1m2 0h1m4 0h3m2 0h1m1 0h1m9 0h2m9 0h1m4 0h1m1 0h1m-63 1h1m3 0h1m1 0h3m4 0h1m4 0h1m3 0h1m2 0h2m1 0h2m1 0h1m6 0h2m1 0h1m2 0h1m3 0h1m5 0h1m8 0h1m-64 1h1m3 0h1m1 0h1m2 0h1m1 0h1m6 0h1m7 0h1m3 0h2m1 0h1m4 0h1m9 0h3m-49 1h2m1 0h3m1 0h2m1 0h1m1 0h1m5 0h3m2 0h2m2 0h1m4 0h2m1 0h1m5 0h1m2 0h2m1 0h1m2 0h2m1 0h1m1 0h1m2 0h1m-55 1h1m2 0h1m4 0h2m1 0h1m5 0h1m3 0h2m7 0h1m2 0h3m2 0h2m1 0h1m2 0h1m1 0h1m2 0h1m1 0h1m2 0h1m1 0h1m-58 1h1m2 0h1m5 0h1m4 0h1m1 0h1m1 0h1m1 0h2m2 0h1m2 0h1m2 0h1m5 0h2m1 0h1m1 0h1m2 0h1m6 0h1m1 0h3m1 0h1m-62 1h1m2 0h2m1 0h2m1 0h5m2 0h1m7 0h1m7 0h2m3 0h1m2 0h1m2 0h1m2 0h2m1 0h1m3 0h3m2 0h1m1 0h3m-62 1h1m1 0h1m5 0h1m7 0h1m1 0h1m1 0h1m1 0h1m2 0h1m1 0h1m3 0h2m2 0h1m5 0h1m5 0h1m1 0h1m2 0h1m1 0h1m5 0h1m-57 1h2m14 0h2m4 0h1m1 0h2m2 0h4m8 0h1m3 0h2m3 0h2m3 0h2m1 0h1m-64 1h1m1 0h1m2 0h1m3 0h2m1 0h1m1 0h1m4 0h1m1 0h1m1 0h1m2 0h2m5 0h5m4 0h1m2 0h2m1 0h1m1 0h1m2 0h1m1 0h1m3 0h1m3 0h1m-64 1h1m2 0h1m1 0h3m1 0h4m3 0h1m1 0h2m1 0h1m1 0h5m3 0h1m3 0h1m3 0h1m1 0h2m3 0h1m1 0h1m1 0h1m3 0h2m-56 1h1m1 0h1m2 0h2m1 0h1m1 0h1m2 0h2m1 0h2m2 0h2m9 0h1m3 0h1m6 0h1m5 0h1m5 0h1m1 0h1m2 0h2m2 0h1m-60 1h1m6 0h1m1 0h1m6 0h2m1 0h1m1 0h1m2 0h1m1 0h1m3 0h1m4 0h2m2 0h1m4 0h2m9 0h1m1 0h2m-61 1h2m1 0h1m1 0h1m5 0h1m1 0h2m2 0h1m1 0h2m1 0h1m2 0h4m2 0h3m1 0h1m2 0h1m1 0h2m10 0h1m4 0h1m1 0h2m-59 1h2m2 0h1m1 0h1m1 0h1m3 0h3m21 0h1m1 0h1m1 0h1m1 0h2m3 0h1m1 0h2m4 0h1m-52 1h1m4 0h2m1 0h1m2 0h1m2 0h1m2 0h1m4 0h1m3 0h1m2 0h1m2 0h2m1 0h2m4 0h1m2 0h1m2 0h1m6 0h2m-63 1h2m5 0h2m8 0h1m1 0h1m1 0h1m2 0h3m1 0h1m5 0h1m2 0h3m1 0h1m1 0h1m1 0h2m1 0h2m1 0h3m5 0h1m-60 1h1m5 0h4m1 0h1m4 0h1m1 0h2m1 0h2m11 0h1m1 0h1m7 0h1m4 0h1m1 0h1m3 0h2m2 0h1m-55 1h1m1 0h1m2 0h1m3 0h1m1 0h5m1 0h1m1 0h3m1 0h4m3 0h1m3 0h1m2 0h2m1 0h1m1 0h1m1 0h2m1 0h3m1 0h1m4 0h1m-63 1h1m2 0h2m1 0h1m1 0h2m1 0h1m1 0h2m2 0h2m3 0h3m2 0h1m3 0h1m3 0h1m1 0h1m1 0h1m2 0h1m4 0h1m2 0h1m2 0h1m5 0h2m2 0h1m-56 1h1m2 0h1m10 0h1m1 0h1m4 0h1m3 0h3m1 0h6m10 0h1m3 0h1m2 0h1m1 0h1m-63 1h1m6 0h2m2 0h1m6 0h2m3 0h1m8 0h2m2 0h2m1 0h1m2 0h3m2 0h2m1 0h1m1 0h1m2 0h1m7 0h1m-64 1h1m2 0h2m1 0h2m1 0h1m1 0h1m5 0h3m4 0h1m2 0h1m12 0h1m1 0h2m1 0h1m3 0h2m2 0h1m3 0h1m2 0h1m-55 1h1m5 0h1m2 0h1m8 0h1m5 0h1m2 0h2m1 0h1m2 0h1m8 0h3m1 0h2m6 0h1m-61 1h1m1 0h2m5 0h1m2 0h1m1 0h2m1 0h1m4 0h1m7 0h1m4 0h1m6 0h2m6 0h1m4 0h1m5 0h1m-58 1h1m1 0h1m5 0h1m1 0h1m2 0h1m5 0h1m2 0h1m4 0h1m3 0h1m5 0h4m7 0h1m3 0h1m1 0h1m1 0h1m1 0h1m-63 1h3m5 0h1m2 0h1m1 0h2m2 0h1m4 0h2m1 0h1m2 0h1m4 0h2m4 0h1m3 0h1m3 0h1m1 0h1m1 0h1m2 0h2m1 0h1m1 0h1m-56 1h2m1 0h1m1 0h1m1 0h1m1 0h2m5 0h1m1 0h2m3 0h1m3 0h1m4 0h1m1 0h2m1 0h2m2 0h1m5 0h1m9 0h1m-57 1h1m1 0h1m1 0h2m10 0h2m2 0h2m8 0h1m3 0h1m4 0h2m7 0h2m1 0h3m1 0h2m-61 1h3m1 0h1m8 0h1m5 0h1m4 0h2m3 0h1m1 0h2m3 0h1m1 0h2m1 0h1m4 0h1m8 0h1m-57 1h1m1 0h1m1 0h1m5 0h3m1 0h1m2 0h1m2 0h1m6 0h2m1 0h1m1 0h2m2 0h6m3 0h1m9 0h1m2 0h4m-61 1h1m4 0h2m1 0h2m4 0h1m2 0h2m1 0h2m3 0h1m5 0h1m5 0h1m18 0h2m1 0h2m1 0h1m-64 1h1m5 0h2m1 0h1m4 0h1m2 0h2m9 0h1m1 0h1m2 0h1m2 0h1m1 0h2m3 0h1m1 0h1m4 0h1m10 0h3m-58 1h1m4 0h3m1 0h1m3 0h2m4 0h1m5 0h2m2 0h1m2 0h1m4 0h2m5 0h3m6 0h2m-60 1h3m1 0h1m12 0h1m3 0h1m3 0h1m9 0h1m4 0h2m3 0h2m2 0h2m1 0h1m3 0h1m1 0h2m-55 1h2m1 0h1m3 0h1m8 0h1m6 0h1m3 0h3m3 0h1m8 0h2m3 0h1m2 0h1m1 0h1m2 0h1m1 0h1m-63 1h1m5 0h4m1 0h1m2 0h1m2 0h4m1 0h1m5 0h2m1 0h1m1 0h3m3 0h1m1 0h1m2 0h1m1 0h1m6 0h1m6 0h3m-64 1h1m4 0h1m1 0h1m1 0h1m2 0h1m1 0h1m5 0h2m3 0h1m2 0h1m7 0h1m3 0h1m2 0h1m3 0h1m2 0h4m3 0h2m-57 1h1m1 0h1m4 0h2m1 0h1m6 0h1m1 0h2m2 0h2m3 0h4m1 0h1m4 0h2m5 0h2m1 0h1m3 0h2m-54 1h1m7 0h6m1 0h1m2 0h1m2 0h1m1 0h3m1 0h1m2 0h1m4 0h1m5 0h1m8 0h1m10 0h1m-64 1h1m3 0h2m5 0h1m4 0h1m2 0h1m2 0h2m2 0h1m5 0h1m2 0h1m3 0h1m7 0h1m3 0h1m2 0h1m1 0h2m1 0h2m2 0h1m-61 1h1m4 0h1m3 0h2m2 0h3m1 0h2m3 0h2m4 0h1m1 0h4m4 0h1m3 0h1m10 0h3m2 0h2m-61 1h1m2 0h2m3 0h1m2 0h1m2 0h3m4 0h1m3 0h1m2 0h2m18 0h1m1 0h1m1 0h2m3 0h1m1 0h3m-64 1h1m1 0h2m1 0h1m9 0h1m3 0h1m1 0h2m7 0h2m5 0h1m8 0h1m1 0h4m4 0h2m3 0h2m-57 1h1m4 0h1m2 0h3m1 0h2m7 0h1m3 0h3m1 0h2m3 0h1m1 0h1m3 0h1m7 0h2m2 0h1m1 0h1m-58 1h1m6 0h1m2 0h2m2 0h3m1 0h1m2 0h1m2 0h2m14 0h1m1 0h2m1 0h1m1 0h3m9 0h1m-58 1h3m3 0h1m4 0h1m2 0h1m1 0h1m6 0h1m1 0h1m12 0h1m1 0h1m1 0h1m3 0h1m3 0h1m-55 1h1m1 0h2m7 0h1m2 0h3m26 0h1m1 0h1m3 0h1m1 0h1m3 0h2m2 0h1m2 0h1m-62 1h2m2 0h5m7 0h1m5 0h1m1 0h1m2 0h2m4 0h3m3 0h1m7 0h2m3 0h1m2 0h1m4 0h1m-62 1h1m5 0h1m7 0h1m2 0h2m3 0h1m6 0h2m3 0h2m7 0h1m2 0h1m7 0h2m-55 1h1m3 0h1m4 0h1m1 0h1m4 0h2m2 0h1m2 0h5m2 0h1m4 0h1m1 0h1m1 0h1m2 0h1m4 0h1m1 0h1m2 0h1m2 0h1m1 0h1m2 0h2m-62 1h2m2 0h1m4 0h1m4 0h1m3 0h1m2 0h1m10 0h2m3 0h1m5 0h1m2 0h1m2 0h1m2 0h1m4 0h1m1 0h2m-60 1h1m1 0h2m7 0h2m3 0h3m8 0h1m2 0h1m2 0h1m1 0h2m1 0h1m6 0h1m2 0h2m2 0h2m5 0h1" stroke-width="1" fill="none" transform="translate(0 .5)"/><path id="t7" d="M1 0h3m3 0h10m2 0h1m1 0h1m2 0h2m3 0h3m3 0h1m2 0h1m1 0h3m4 0h1m1 0h2m1 0h4m1 0h1m2 0h4m-62 1h1m3 0h4m1 0h4m1 0h1m3 0h1m2 0h1m2 0h1m1 0h1m1 0h4m1 0h5m1 0h1m1 0h1m2 0h2m1 0h1m2 0h1m1 0h1m4 0h1m-60 1h1m3 0h1m2 0h2m1 0h2m1 0h1m1 0h2m7 0h2m2 0h1m2 0h2m1 0h1m1 0h5m2 0h1m1 0h1m1 0h3m1 0h1m4 0h1m4 0h1m1 0h1m-64 1h2m2 0h1m1 0h3m2 0h2m1 0h1m1 0h1m2 0h2m1 0h1m2 0h1m1 0h2m3 0h1m6 0h1m1 0h1m2 0h2m1 0h2m4 0h1m2 0h1m2 0h2m1 0h2m-62 1h2m1 0h1m1 0h1m2 0h3m1 0h2m1 0h1m4 0h1m1 0h1m2 0h1m1 0h1m1 0h1m1 0h1m1 0h1m3 0h1m2 0h3m6 0h2m1 0h2m1 0h3m1 0h3m-63 1h2m1 0h1m1 0h4m2 0h1m1 0h1m1 0h2m2 0h1m2 0h4m2 0h5m2 0h1m2 0h3m3 0h4m1 0h3m3 0h4m1 0h1m-61 1h1m1 0h2m1 0h3m1 0h1m1 0h1m2 0h1m1 0h1m2 0h1m1 0h2m2 0h2m2 0h2m2 0h2m6 0h2m1 0h1m1 0h4m1 0h3m1 0h2m1 0h1m2 0h1m-63 1h5m1 0h1m2 0h2m1 0h1m2 0h1m3 0h1m6 0h2m2 0h2m1 0h1m1 0h1m2 0h1m1 0h1m1 0h3m1 0h2m3 0h1m1 0h1m2 0h2m3 0h3m-64 1h1m1 0h2m5 0h3m1 0h4m1 0h4m1 0h1m3 0h1m2 0h5m1 0h5m1 0h1m2 0h1m2 0h1m1 0h3m2 0h3m1 0h2m-61 1h2m2 0h1m4 0h2m1 0h2m9 0h3m2 0h1m2 0h1m4 0h4m1 0h1m1 0h2m1 0h4m4 0h3m1 0h1m4 0h1m-62 1h3m1 0h2m1 0h1m3 0h1m1 0h1m1 0h1m5 0h2m1 0h1m3 0h1m2 0h1m3 0h2m3 0h2m2 0h2m1 0h4m2 0h3m4 0h2m-63 1h1m1 0h1m1 0h2m1 0h1m4 0h1m2 0h1m3 0h2m1 0h1m2 0h1m1 0h5m1 0h2m1 0h5m1 0h5m2 0h1m2 0h3m4 0h3m-63 1h2m2 0h1m1 0h1m5 0h2m1 0h1m2 0h1m1 0h1m1 0h1m3 0h2m1 0h1m2 0h4m1 0h4m1 0h2m5 0h1m1 0h2m1 0h1m2 0h2m2 0h1m1 0h1m-63 1h1m4 0h2m2 0h3m2 0h3m1 0h1m1 0h1m2 0h2m5 0h2m1 0h1m1 0h1m1 0h4m1 0h1m3 0h1m1 0h1m2 0h3m1 0h2m2 0h4m-61 1h1m2 0h2m2 0h1m4 0h1m1 0h1m3 0h2m3 0h2m2 0h1m2 0h6m3 0h2m3 0h5m3 0h2m1 0h1m1 0h4m-64 1h2m3 0h2m1 0h1m1 0h4m2 0h2m1 0h2m1 0h2m2 0h1m1 0h2m3 0h1m1 0h2m1 0h1m4 0h8m1 0h1m1 0h1m4 0h2m1 0h1m-63 1h2m2 0h1m2 0h3m2 0h1m3 0h4m2 0h2m1 0h1m1 0h3m1 0h1m4 0h1m2 0h4m3 0h4m1 0h1m5 0h1m1 0h1m3 0h1m-61 1h1m1 0h2m1 0h1m1 0h1m1 0h3m2 0h1m3 0h1m3 0h4m1 0h2m2 0h1m4 0h2m1 0h2m3 0h3m1 0h1m1 0h2m1 0h2m3 0h3m-64 1h1m2 0h4m2 0h3m5 0h3m1 0h1m2 0h3m1 0h2m1 0h1m1 0h6m2 0h2m2 0h3m3 0h5m1 0h3m1 0h2m-61 1h3m2 0h1m1 0h1m1 0h1m2 0h2m2 0h4m1 0h7m2 0h3m4 0h1m1 0h1m3 0h2m1 0h1m2 0h1m1 0h4m1 0h4m-62 1h3m4 0h1m1 0h3m4 0h2m6 0h1m3 0h1m1 0h1m1 0h1m1 0h1m1 0h1m2 0h4m1 0h1m1 0h2m2 0h1m1 0h1m2 0h1m1 0h4m1 0h1m-63 1h2m1 0h1m1 0h2m1 0h1m1 0h1m2 0h2m1 0h1m4 0h1m2 0h1m2 0h1m2 0h1m2 0h4m1 0h3m7 0h1m2 0h1m2 0h1m1 0h1m2 0h1m1 0h3m-64 1h4m1 0h1m1 0h1m1 0h8m5 0h1m1 0h3m1 0h1m1 0h1m1 0h3m1 0h4m2 0h3m8 0h1m3 0h6m-61 1h1m1 0h4m1 0h1m1 0h1m1 0h1m1 0h4m1 0h2m2 0h1m9 0h2m1 0h1m1 0h2m1 0h2m1 0h6m1 0h8m-59 1h4m1 0h1m1 0h2m2 0h1m1 0h1m2 0h1m1 0h1m2 0h1m1 0h1m2 0h2m1 0h3m1 0h1m1 0h1m1 0h4m1 0h1m1 0h1m5 0h1m1 0h1m2 0h2m1 0h1m1 0h1m-62 1h1m3 0h1m1 0h1m1 0h2m4 0h1m1 0h1m2 0h1m1 0h2m2 0h3m1 0h3m1 0h1m2 0h4m1 0h1m3 0h1m3 0h1m1 0h1m2 0h3m1 0h6m-63 1h1m9 0h2m1 0h1m1 0h3m1 0h2m1 0h1m4 0h2m1 0h1m2 0h3m2 0h2m2 0h3m2 0h3m1 0h1m4 0h1m1 0h2m-61 1h1m6 0h1m1 0h5m1 0h1m1 0h2m1 0h2m4 0h1m2 0h2m8 0h3m1 0h1m3 0h1m2 0h1m2 0h1m1 0h7m1 0h1m-62 1h1m2 0h2m2 0h1m4 0h1m1 0h3m2 0h1m4 0h5m1 0h1m2 0h1m1 0h2m1 0h1m1 0h4m1 0h3m1 0h1m2 0h1m2 0h1m3 0h1m-62 1h3m1 0h1m2 0h1m2 0h3m1 0h1m1 0h6m3 0h1m1 0h1m2 0h1m1 0h5m10 0h2m1 0h1m1 0h1m2 0h2m4 0h1m1 0h1m-64 1h1m3 0h1m2 0h5m4 0h1m2 0h4m1 0h2m3 0h1m1 0h3m1 0h2m1 0h1m1 0h1m1 0h3m1 0h1m2 0h6m1 0h1m1 0h4m-61 1h4m4 0h3m1 0h1m2 0h2m2 0h4m1 0h1m1 0h4m1 0h2m1 0h1m1 0h1m1 0h1m2 0h1m1 0h2m2 0h1m1 0h4m3 0h5m-58 1h1m2 0h3m1 0h1m1 0h1m1 0h2m1 0h1m2 0h1m8 0h1m1 0h1m1 0h1m1 0h1m1 0h1m2 0h1m1 0h3m2 0h1m3 0h2m1 0h2m3 0h2m1 0h1m-61 1h3m1 0h5m2 0h1m1 0h1m2 0h1m5 0h1m5 0h5m3 0h2m1 0h3m1 0h1m2 0h2m1 0h1m1 0h1m3 0h1m1 0h2m-62 1h7m1 0h3m1 0h6m1 0h1m3 0h1m2 0h3m1 0h1m2 0h2m1 0h1m2 0h1m2 0h2m5 0h4m1 0h1m1 0h1m2 0h1m1 0h1m-62 1h1m1 0h1m1 0h1m1 0h1m1 0h2m2 0h3m1 0h4m3 0h1m1 0h1m1 0h1m1 0h1m2 0h1m2 0h3m1 0h3m1 0h2m3 0h1m1 0h1m3 0h2m3 0h2m1 0h2m-64 1h4m1 0h1m3 0h4m1 0h3m4 0h10m2 0h2m4 0h1m4 0h5m1 0h3m1 0h4m3 0h1m-60 1h1m1 0h1m1 0h3m1 0h3m1 0h1m2 0h3m1 0h1m5 0h1m2 0h4m1 0h2m2 0h2m1 0h1m1 0h1m1 0h3m1 0h6m1 0h1m4 0h1m-62 1h1m4 0h2m1 0h1m2 0h2m3 0h1m1 0h1m1 0h1m4 0h8m2 0h1m3 0h1m1 0h3m1 0h3m4 0h1m3 0h4m2 0h1m-62 1h2m2 0h2m1 0h1m1 0h1m1 0h1m1 0h1m2 0h2m3 0h3m8 0h1m2 0h1m1 0h4m5 0h2m1 0h3m1 0h1m4 0h1m2 0h1m-63 1h3m1 0h2m1 0h1m1 0h1m1 0h1m2 0h2m2 0h1m1 0h1m1 0h1m1 0h1m1 0h1m1 0h1m1 0h1m1 0h3m1 0h1m3 0h1m3 0h2m1 0h2m1 0h1m1 0h1m6 0h4m-61 1h1m1 0h2m4 0h2m1 0h2m2 0h2m4 0h1m1 0h1m2 0h1m1 0h2m2 0h1m1 0h1m1 0h3m4 0h4m3 0h1m1 0h1m1 0h3m1 0h1m-62 1h4m4 0h3m2 0h1m1 0h1m1 0h3m4 0h1m3 0h1m3 0h2m3 0h1m4 0h7m2 0h1m3 0h1m2 0h3m1 0h1m-63 1h2m3 0h4m3 0h1m1 0h4m2 0h3m3 0h1m1 0h1m1 0h2m1 0h1m2 0h1m1 0h1m1 0h2m1 0h2m1 0h1m2 0h1m1 0h1m1 0h4m4 0h3m-63 1h2m1 0h1m2 0h1m2 0h1m2 0h1m6 0h1m1 0h1m1 0h1m2 0h1m1 0h2m1 0h1m1 0h1m1 0h2m1 0h1m1 0h2m1 0h6m1 0h1m3 0h6m1 0h2m-63 1h1m1 0h1m1 0h3m1 0h3m2 0h2m3 0h6m2 0h1m1 0h1m3 0h1m2 0h2m5 0h1m1 0h3m8 0h2m1 0h1m1 0h3m-64 1h1m1 0h1m5 0h3m1 0h2m3 0h2m1 0h1m1 0h1m1 0h1m2 0h2m1 0h2m4 0h4m1 0h1m3 0h1m1 0h2m1 0h2m1 0h1m1 0h1m1 0h6m-63 1h2m1 0h3m3 0h1m2 0h4m5 0h1m1 0h3m1 0h1m1 0h3m1 0h2m1 0h1m1 0h2m2 0h9m1 0h1m1 0h2m2 0h1m2 0h1m-62 1h2m5 0h1m1 0h1m3 0h1m2 0h1m1 0h3m4 0h2m4 0h4m1 0h1m2 0h2m1 0h4m1 0h5m2 0h3m2 0h2m-57 1h1m4 0h1m1 0h1m2 0h2m3 0h5m3 0h1m1 0h1m5 0h2m2 0h1m3 0h3m1 0h2m1 0h1m1 0h1m1 0h1m1 0h2m1 0h3m-61 1h1m2 0h1m3 0h1m1 0h1m1 0h1m1 0h1m1 0h1m3 0h2m1 0h1m1 0h2m1 0h3m3 0h1m1 0h1m3 0h1m3 0h1m4 0h2m1 0h2m1 0h1m2 0h1m1 0h1m1 0h2m-62 1h2m1 0h3m1 0h3m1 0h1m4 0h1m1 0h2m2 0h2m2 0h2m1 0h4m1 0h4m1 0h4m3 0h1m2 0h1m2 0h1m1 0h1m2 0h1m1 0h2m-51 1h1m1 0h5m2 0h1m2 0h3m1 0h2m1 0h1m2 0h3m1 0h1m2 0h1m3 0h2m4 0h2m2 0h3m1 0h5m-64 1h1m1 0h5m3 0h1m1 0h6m1 0h1m1 0h1m2 0h1m1 0h2m2 0h1m1 0h6m1 0h3m1 0h1m1 0h1m3 0h1m1 0h3m1 0h3m1 0h1m2 0h1m-63 1h1m3 0h3m1 0h1m1 0h2m5 0h2m3 0h1m2 0h1m2 0h5m2 0h3m1 0h2m3 0h2m1 0h2m4 0h2m7 0h2m-61 1h2m1 0h2m3 0h1m2 0h4m2 0h1m1 0h1m1 0h3m2 0h3m1 0h1m1 0h3m1 0h1m1 0h1m3 0h1m2 0h1m1 0h1m1 0h1m3 0h2m1 0h1m1 0h2m-62 1h1m1 0h1m2 0h1m4 0h1m2 0h1m2 0h1m1 0h1m1 0h5m2 0h3m2 0h1m4 0h2m5 0h2m2 0h2m1 0h1m2 0h1m1 0h1m1 0h1m2 0h1m-63 1h1m3 0h1m1 0h3m1 0h1m4 0h1m3 0h1m2 0h4m3 0h1m2 0h2m1 0h1m1 0h2m2 0h1m3 0h2m2 0h1m4 0h2m1 0h1m1 0h3m1 0h1m-64 1h4m1 0h2m1 0h1m1 0h1m1 0h1m2 0h6m1 0h1m1 0h2m1 0h1m1 0h7m1 0h1m1 0h2m2 0h4m2 0h1m3 0h1m3 0h4m1 0h1m-63 1h1m3 0h1m1 0h1m2 0h1m4 0h1m2 0h1m2 0h3m1 0h2m1 0h2m4 0h1m1 0h3m2 0h1m2 0h4m1 0h1m1 0h1m3 0h3m1 0h3m2 0h1m-63 1h1m1 0h1m1 0h4m2 0h1m10 0h2m2 0h1m1 0h1m2 0h1m3 0h1m3 0h3m1 0h2m2 0h1m4 0h3m3 0h2m1 0h3m-64 1h2m1 0h3m1 0h3m3 0h1m1 0h2m2 0h1m2 0h2m1 0h1m1 0h1m2 0h1m4 0h6m4 0h2m3 0h1m5 0h1m1 0h3m2 0h1m-64 1h1m1 0h1m1 0h1m3 0h2m1 0h1m4 0h1m2 0h4m1 0h1m2 0h1m1 0h1m2 0h2m2 0h5m2 0h2m3 0h4m4 0h1m1 0h1m1 0h1m1 0h2m-59 1h1m2 0h1m3 0h3m1 0h4m1 0h1m6 0h2m1 0h2m2 0h4m1 0h4m1 0h1m1 0h1m1 0h1m1 0h3m1 0h2m1 0h2m1 0h1m1 0h1" stroke-width="1" fill="none" transform="translate(0 .5)"/><pattern id="pk0" width="64" height="64" patternUnits="userSpaceOnUse"><use href="#t0" stroke="#000"/></pattern><pattern id="pk1" width="64" height="64" patternUnits="userSpaceOnUse"><use href="#t1" stroke="#000"/></pattern><pattern id="pk2" width="64" height="64" patternUnits="userSpaceOnUse"><use href="#t2" stroke="#000"/></pattern><pattern id="pk3" width="64" height="64" patternUnits="userSpaceOnUse"><use href="#t3" stroke="#000"/></pattern><pattern id="pk4" width="64" height="64" patternUnits="userSpaceOnUse"><use href="#t4" stroke="#000"/></pattern><pattern id="pk5" width="64" height="64" patternUnits="userSpaceOnUse"><use href="#t5" stroke="#000"/></pattern><pattern id="pk6" width="64" height="64" patternUnits="userSpaceOnUse"><use href="#t6" stroke="#000"/></pattern><pattern id="pk7" width="64" height="64" patternUnits="userSpaceOnUse"><use href="#t7" stroke="#000"/></pattern><pattern id="pg0" width="64" height="64" patternUnits="userSpaceOnUse"><use href="#t0" stroke="#c8c8c8"/></pattern><pattern id="pg1" width="64" height="64" patternUnits="userSpaceOnUse"><use href="#t1" stroke="#c8c8c8"/></pattern><pattern id="pg2" width="64" height="64" patternUnits="userSpaceOnUse"><use href="#t2" stroke="#c8c8c8"/></pattern><pattern id="pg3" width="64" height="64" patternUnits="userSpaceOnUse"><use href="#t3" stroke="#c8c8c8"/></pattern><pattern id="pg4" width="64" height="64" patternUnits="userSpaceOnUse"><use href="#t4" stroke="#c8c8c8"/></pattern><pattern id="pg5" width="64" height="64" patternUnits="userSpaceOnUse"><use href="#t5" stroke="#c8c8c8"/></pattern><pattern id="pg6" width="64" height="64" patternUnits="userSpaceOnUse"><use href="#t6" stroke="#c8c8c8"/></pattern><pattern id="pg7" width="64" height="64" patternUnits="userSpaceOnUse"><use href="#t7" stroke="#c8c8c8"/></pattern><pattern id="pc0" width="64" height="64" patternUnits="userSpaceOnUse"><use href="#t0" stroke="#2fb0e8"/></pattern><pattern id="pc1" width="64" height="64" patternUnits="userSpaceOnUse"><use href="#t1" stroke="#2fb0e8"/></pattern><pattern id="pc2" width="64" height="64" patternUnits="userSpaceOnUse"><use href="#t2" stroke="#2fb0e8"/></pattern><pattern id="pc3" width="64" height="64" patternUnits="userSpaceOnUse"><use href="#t3" stroke="#2fb0e8"/></pattern><pattern id="pc4" width="64" height="64" patternUnits="userSpaceOnUse"><use href="#t4" stroke="#2fb0e8"/></pattern><pattern id="pc5" width="64" height="64" patternUnits="userSpaceOnUse"><use href="#t5" stroke="#2fb0e8"/></pattern><pattern id="pc6" width="64" height="64" patternUnits="userSpaceOnUse"><use href="#t6" stroke="#2fb0e8"/></pattern><pattern id="pc7" width="64" height="64" patternUnits="userSpaceOnUse"><use href="#t7" stroke="#2fb0e8"/></pattern><pattern id="pn0" width="64" height="64" patternUnits="userSpaceOnUse"><use href="#t0" stroke="#1fa650"/></pattern><pattern id="pn1" width="64" height="64" patternUnits="userSpaceOnUse"><use href="#t1" stroke="#1fa650"/></pattern><pattern id="pn2" width="64" height="64" patternUnits="userSpaceOnUse"><use href="#t2" stroke="#1fa650"/></pattern><pattern id="pn3" width="64" height="64" patternUnits="userSpaceOnUse"><use href="#t3" stroke="#1fa650"/></pattern><pattern id="pn4" width="64" height="64" patternUnits="userSpaceOnUse"><use href="#t4" stroke="#1fa650"/></pattern><pattern id="pn5" width="64" height="64" patternUnits="userSpaceOnUse"><use href="#t5" stroke="#1fa650"/></pattern><pattern id="pn6" width="64" height="64" patternUnits="userSpaceOnUse"><use href="#t6" stroke="#1fa650"/></pattern><pattern id="pn7" width="64" height="64" patternUnits="userSpaceOnUse"><use href="#t7" stroke="#1fa650"/></pattern></defs><g id="panel-a"><text x="-3" y="38" font-size="63" font-weight="bold" fill="#231f20">a</text><g><path d="M145 36l0 304l111 0l4-3l18-9l9-8l5-2l13-14l6-4l14-14l8-4l4-4l6-3l7-6l12-6l7-6l11-6l4-4l10-5l4-4l13-8l7-7l10-5l20-16l0-166l-51 0l-2 2l-4 0l-2-2l-3 1l-6-1l-5 3l-5 1l-4 3l-6-4l-7-1l-2-2l-30 0l0 2l-2 2l-1 0l-3-4l-4 3l-2 0l-2-3zM348 46l2 2l-3 2l-1-2zM327 42l1-1l2 1l-1 1z" fill="url(#pk0)" fill-rule="evenodd"/><path d="M230 129l1 3l2 0l-1-3zM145 36l0 304l99 0l6-3l6-5l6-2l7-6l7-3l7-6l5-2l13-15l4-2l14-15l3-1l8-7l4-1l5-4l21-11l6-6l5-3l4-1l12-9l8-4l7-6l8-4l7-7l13-9l13-12l1-4l4-6l0-111l-5 0l-3-3l-9-3l-4 2l-4 4l-5-1l-2 5l-8 6l-3 0l-6-6l-7 0l-1 1l-8-1l-2 2l0 2l-3 2l-9 1l-2-2l-3 0l-1 3l-6 1l-2 2l-2 0l-5-3l-5 0l-2 2l-1 6l-4 3l-2 0l-4-6l-3 1l-5 7l-2 0l-4-3l-3 1l-3 6l3 4l0 3l-2 2l-9-1l-4 2l-1-1l-12-2l-6 4l-3 0l-5-3l-4 0l-2 2l0 8l1 3l-1 1l-5 0l-6-2l-3-3l1-1l4 0l0-2l6-6l-5-7l0-7l-4-8l1-8l1-1l0-7l-2-4l0-34l-16 0l0 8l1 1l0 11l-1 1l0 3l1 1l0 13l-1 1l0 10l1 1l0 4l-1 1l0 8l-2 4l1 8l-2 3l0 2l2 4l12 0l2 6l-1 4l-1 1l-6 0l-6 2l0 7l-2 2l-23-1l-5-5l-5-1l-3 1l0 6l-3 3l-5 1l-2 5l-14-1l-4 2l-2-1l-3-4l-6-2l-7-7l0-3l4-4l-4-9l1-1l8 0l0-2l-2-2l1-1l14 0l0-6l1-2l-3-2l0-2l6-5l1-2l0-7l2-3l-6-3l0-4l1-1l-1-11l3-6l-4-7l-1-4l3-4l0-5l-4-6z" fill="url(#pk1)" fill-rule="evenodd"/><path d="M427 185l5 2l3-1l-1-3l-4 0zM432 141l1 1l2-1l0-1zM145 127l0 5l1-1zM448 121l-4 0l-5 2l0 1l3 2l4 0l2-1zM448 135l-2 0l-9-10l-8 1l-4-4l-4 0l-4 4l-1-1l0-4l5-3l2-3l0-4l-4-5l-8 3l-6-2l-4 3l-4 0l-2 1l-5 6l-4 0l-2-2l0-2l-2-3l-4-2l-5 0l-1 6l2 4l-2 2l-2-1l-8 5l-3 0l-3-5l-3 0l-3 2l-8-3l-3-4l-3 0l-2 2l-2 5l-5-2l-3 0l-1 3l5 2l3 0l2-4l6 0l1 1l-3 9l-6 5l-7-4l-9 1l-3-2l-4 0l-1-1l0-4l-8-1l0 3l6 5l0 2l-2 2l1 6l-4 5l-4 0l-5-4l-4 6l-5 3l-3 0l-3-2l-2 0l-5 3l-1-1l-13 1l-4 4l-13-1l-7 2l-3 4l-3 0l-3-3l0-2l-2 1l-2 4l-3 0l-1-1l-12 1l-1 1l-1-1l-7 0l-2 3l0 4l-2 3l-4-3l-2-6l-4 0l-5 5l-2 0l-3-2l-15 0l-9-10l0 184l88 0l14-6l9-6l4-1l20-14l6-3l0-1l21-20l4-6l6-6l2-4l4-4l4-2l5-8l2-1l10 1l8-4l7-6l7-2l7-6l6-2l5-5l6-4l7-2l5-7l5-1l6-4l3-5l2-1l4-5l0-6l-1 0l-2-3l1-1l2 1l3 0l1-1l-1-10l-3-5l0-3l3-4l-1-2l-4-3l0-3l2-3l0-2l2-2l9 5l-4-18l-1-1l-4 0l-1-3l3-6l3-3l9 0l3 3l1 5l3 3l3 1zM411 163l2-1l2 3l-2 1zM377 122l3-2l2 0l2 3l-2 2zM402 112l4 3l0 2l-3 3l-2-1l0-6zM245 65l-2 5l1 1l-1 1l0 12l2 3l0 3l-3 4l0 3l1 1l0 10l-1 1l0 3l3 5l0 3l6 0l0-6l-2-7l0-13l-2-3l0-3l3-5l0-6l-1-1l0-8l-1-3zM247 46l-2 0l-2 2l0 6l2 1l3-4zM145 36l0 80l17 0l-1-2l0-8l3-6l-1-1l0-10l-2-5l1-1l0-4l-3-4l0-6l2-3l-1-10l2-4l0-3l-2-3l1-9l-1-1z" fill="url(#pk2)" fill-rule="evenodd"/><path d="M344 156l2 2l3 0l1 1l5 0l1-3l-5-4l-5 1zM375 151l-1 0l-1 2l1 0zM401 191l-1-1l-5 0l-2-2l-10 1l-3-9l-2 0l-5 4l-3-1l-3-3l0-2l4-4l2 0l3-2l-2-1l-5-6l-3 0l-1 2l-3 2l-2 0l-2-2l-3 0l-1 1l1 6l-4 5l-3 0l-2-2l0-3l3-4l0-2l-4-3l-3 1l-5 4l-8 1l-4 5l-2 0l-8-7l1-3l6-6l1-3l4-4l-2-3l-4-1l-10 11l-4 1l-3 5l-2 0l-4-5l-4 1l-2 2l-1 5l-3 3l-2 0l-3-4l-3 0l-13 6l-6 1l-5-5l-7 0l-1 1l-3 0l-10 7l-3 0l-10-8l-1 1l0 3l-4 3l-11 1l-2-2l-10-1l-4 3l-4 0l-3-3l-3-1l-2 1l-2 3l-6 1l-8 4l-10-2l-3-3l-3 0l-1-1l0 32l3 1l0 3l-3 2l0 12l2 0l2 3l-1 3l-3 2l0 105l81 0l6-4l11-3l7-5l10-4l11-7l5-5l8-4l6-7l9-8l6-7l4-8l6-6l3-6l6-4l2-5l2-2l7-3l11 0l9-8l3-5l12-2l1-1l0-4l3-2l6 1l5-2l6-8l9-7l4-10l-5-4l0-4l2-2zM376 194l1-1l2 1l-1 1zM362 177l2 0l2 2l0 2l-2 3l-3 0l-1-1l0-4zM374 139l-3 0l-1 3l-3 3l1 1l5-1l3-3zM359 134l-1-1l-1 2zM145 36l0 80l9 0l0-4l1-1l-1-9l2-4l0-3l-1-1l0-6l-2-4l0-14l-2-4l4-10l-1-19l-1-1z" fill="url(#pk3)" fill-rule="evenodd"/><path d="M369 202l-6-4l-6-2l-2-2l1-1l0-3l-1-1l-3 0l-1 1l0 3l2 3l-3 2l-3 0l-2-3l-4-3l-4 3l-3 0l-6-3l-4-5l-3 0l-3 5l-2-6l-3-3l-2 0l-2 3l-4 3l-6-3l-4 0l-4 2l-4 0l-3-2l-4 0l-6 4l-3-1l-11 1l-3-3l-1-3l-6-4l-3 0l-10 4l-5 0l-6-3l-4 3l-8-2l-3 3l-3 1l-3-2l-4 0l-4 5l-7-1l-6 4l-2 0l-4-2l-1-2l-5-2l-4 1l-1 2l0 9l5 6l1 8l5 4l0 2l-2 2l-5 2l-3 3l2 3l0 4l-6 3l-7 0l-4 2l-3 0l-5 3l0 100l76 0l12-7l9-2l6-4l10-4l4-4l7-3l8-8l5-1l5-5l1-3l14-13l4-8l0-2l7-7l2-4l0-4l3-3l3-1l4-5l7-2l4-4l6 0l3-5l5-5l6-4l3 0l4-2l3-3l0-5l1-2l6-5l0-3l-4-6zM145 36l0 80l4 0l0-9l1-1l-1-2l0-5l-1-1l0-22l1-1l0-5l-2-6l1-1l0-3l3-5l0-4l-1-1l0-6l-3-5l0-3z" fill="url(#pk4)" fill-rule="evenodd"/><path d="M249 195l0 2l2 2l1-3zM348 209l-4-2l-3 0l-4 3l-3-3l0-5l-1-1l-5 1l-4 3l-3 0l-2-3l-3-2l-4 1l-5-2l-4 6l-7-4l-8 0l-5-2l-4 3l-3 5l-2 0l-8-7l0-2l-2-1l-4 1l-5 4l-3 0l-9 5l-2 0l-3-4l0-5l-2-1l-5 2l-2 2l-6 0l-6-5l-5-3l-2 0l1 8l-5 7l3 5l0 2l-5 6l-3 1l-5 5l-6 0l-2 1l-4 5l-8-1l-3 5l-5 3l-3 4l-4-2l-3 0l-7 6l-6 2l0 90l67 0l3-2l8-1l2-2l11-5l6-1l14-7l6-5l6-2l7-8l6-2l4-4l1-3l14-13l5-11l6-6l2-4l-3-6l0-6l4-5l2 0l4-3l4 0l1 1l4-1l3-3l0-1l-3-2l3-4l2 0l3 3l3-1l2-4l-1-3l4-4l0-2l3-3zM218 201l3 2l0 3l-2 2l-2 0l-3-2l0-2zM145 103l0 7l1-3zM145 82l0 9l0-3l1-1zM145 45l0 30l1-2l0-3l-1-1l0-12l1-1z" fill="url(#pk5)" fill-rule="evenodd"/><path d="M328 211l-2 0l-6 3l-6-6l-7 6l-2 0l-2-2l-3 0l-4 3l-4-3l0-2l3-3l0-1l-3-1l-3 1l-4 4l-4 1l-4 3l-3 0l-3-4l-4-3l-6 10l-7 3l-3 0l-2-2l0-3l2-5l-4 0l-2 1l-3 4l-4 0l-2 3l0 5l-3 4l-3 0l-4-5l-4 0l-3 5l-4 4l-11 1l-1 1l0 7l-2 2l-2-1l-8 0l-1-1l-8 1l-4 2l-3 0l-3 5l-3 2l-4 0l-5-2l-8 3l-7 1l0 88l64 0l6-4l6 0l9-5l13-4l12-6l7-6l6-2l6-7l6-2l6-9l5-3l0-1l8-7l4-10l7-8l1-3l-4-6l0-9l3-6l3-3l5 0l9-10l0-1l-4-1l-2-2l-1-8l1-1l6 1zM296 217l1-1l9 1l4 5l-1 1l-10-1l-3-3z" fill="url(#pk6)" fill-rule="evenodd"/><path d="M312 229l-1-1l-5 0l-2 1l-4 9l-2 2l-2 0l-3-4l0-6l4-5l-5-6l-2 0l-3 3l-6 0l-4 3l-7 0l-2 5l-3 0l-1-1l3-4l-1-2l-8 0l-4 2l-4 0l-5-5l-5 0l0 4l5 7l-4 5l-2 0l-6-4l-3 0l-2-2l-4-1l-4 4l-12 4l1 7l-2 2l-9-1l-4 2l-3-1l-5 3l-9-1l-7 4l-12-1l-1 1l-5 0l-7 3l0 39l3 2l0 1l-3 2l0 41l61 0l3-1l5-4l4 0l5-3l1 1l15-7l3 0l12-6l6-5l7-3l6-7l5-1l8-11l4-2l0-1l8-7l3-6l-1-1l2-1l-1-1l2-1l-1-1l2-1l-1-1l5-4l1-3l-4-7l0-15l2-5zM286 230l2 2l-1 2l-3-1z" fill="url(#pk7)" fill-rule="evenodd"/><path d="M303 247l-4-2l-3 0l-1 1l-2-1l-3-4l-3 1l-4-2l-5-6l0-5l-3-1l-1 1l0 4l-2 2l-12-2l-3 3l-6 1l-1 1l1 3l-3 3l-5 0l-4-5l-6-3l-4 0l-1 1l-9 1l-3 8l-5 0l-5 3l-6-2l-4 2l-7 0l-5 3l-1-1l-1 1l-1-1l-5 0l-7 3l-1-1l-1 1l-1-1l-2 1l-1-1l-13 1l-3 3l-2 0l0 33l6 1l3 4l-7 11l5-2l4 0l1 1l0 3l-2 6l0 11l-2 2l-3 0l-5-5l0 18l16 0l0-3l-4 2l-2-2l0-2l10-9l5-3l2 1l0 5l-4 4l0 3l2 4l9 0l1-2l5-3l1 1l0 4l15 0l1-1l1 1l2-1l1-2l2 1l3-2l-1-9l2-2l10 3l2 2l0 2l9-5l2 0l7-4l1 1l14-7l2-3l1 1l1-2l5-2l5-6l2 0l6-3l3-4l-3-4l1-3l8 0l2-5l3 0l4-3l4-9l-1-5l3-3l2 2l3-4l-5-10l1-1l-1-1l1-1zM183 325l3 4l-2 2l-3 0l-1-1l0-3zM217 322l1-2l2 1l-2 2zM239 311l2 4l1 7l-2 2l-6 2l-2-2l0-4l3-3l1-4zM202 310l1 1l0 4l-2 5l8 0l2 3l-2 2l-2 0l-5 5l-9 0l-7 6l-1-1l1-5l5-4l0-6l5-4l0-3l3-3zM206 306l1-1l3 1l-1 1zM255 305l1-1l2 1l-1 1zM224 300l2 2l0 3l-4 3l-1-3zM190 297l2 0l2 2l-1 2l0 5l3 3l0 3l-1 1l-4 0l-3-3l-2-6l0-3zM265 295l1-1l1 2l-1 1zM219 292l-3 4l-5 2l-4 0l-5-3l0-2l2-2l5 0l3-3l4 0zM182 277l4 0l2 2l1 9l-3 3l-8-11zM273 277l3-1l2 3l-3 2l-2-2zM222 281l1-1l3 2l4-5l2-1l4 4l1 4l4 5l-1 1l-3 0l-2-2l-7 1l-2-3l-4-3zM157 271l1-1l2 1l6-1l2 4l-1 4l-3 2l-3-1l-3-3zM254 270l1-1l1 2l-1 1zM240 269l3-1l4 2l1 2l-2 2l-3 0l-3-3zM155 263l3 1l0 6l-1 1l-3 0l-3-2l1-4zM284 257l4 3l0 4l-3 4l-2 0l-2-2l0-6zM230 257l1 2l-2 2l-1-2zM267 255l2 2l2 5l-3 3l-4 1l-3-3l1-4zM240 255l1-1l3 0l3 2l7 2l-3 3l-7 0l-4-4zM217 255l0 4l-1 1l-7 0l-1-1l-4 1l-2-2l1-3l4 2l8-4zM257 251l1 1l0 3l-4 3l-1-3l1-2zM217 250l2-1l1 2l-2 1zM236 246l1 1l-5 4l-1-3l2-2zM284 247l3-2l3 1l2 3l-3 2l-2 0zM270 242l2 3l-3 2l-1-3z" fill="#000" fill-rule="evenodd"/><path d="M146.5 325.9C146.8 319.4 149 307.5 151 299C153 290.5 155 280.8 158.5 275.1C162 269.4 167.9 265.6 171.9 264.6C175.9 263.6 179.2 266.9 182.4 269.1C185.6 271.3 186.9 276.5 191.4 278.1C195.8 279.7 202.3 280.2 209.3 278.7C216.3 277.2 225.8 271.7 233.2 269.1C240.7 266.5 248.2 263.9 254.2 263.1C260.1 262.4 266.3 262.1 269.1 264.6C271.9 267.1 272.2 272.8 271.2 278.1C270.2 283.3 267.5 290 263.1 296C258.8 302 252.2 308.5 245.2 314C238.2 319.4 229.7 324.7 221.3 328.9C212.8 333.1 203.3 337.3 194.4 339.4C185.4 341.5 174.9 341.7 167.4 341.5C160 341.2 153 340.5 149.5 337.9C146 335.3 146.3 332.4 146.5 325.9Z" fill="#fff" stroke="#000" stroke-width="2.1"/><path d="M148.6 327.4C148.4 322 150.6 311.7 152.5 305C154.4 298.3 157.4 290.8 160 287C162.6 283.3 165.6 281.8 168 282.6C170.5 283.3 173 287.3 174.9 291.5C176.8 295.8 176.7 305.7 179.4 308C182.1 310.2 185.4 308 191.4 305C197.3 302 207.3 294 215.3 290C223.3 286.1 233.3 282.8 239.2 281.1C245.1 279.3 248.5 278.1 250.6 279.6C252.7 281.1 253.2 285.8 251.8 290C250.4 294.3 247.3 299.8 242.2 305C237.1 310.2 228.7 316.7 221.3 321.4C213.8 326.2 205.3 330.4 197.3 333.4C189.4 336.4 180.7 338.7 173.4 339.4C166.2 340 158.1 339.3 154 337.3C149.9 335.3 148.9 332.8 148.6 327.4Z" fill="none" stroke="#000" stroke-width="2.1"/><path d="M151 328.9C150.5 324.7 153.5 316.2 155.5 311C157.5 305.7 160.9 300.3 163 297.5C165.1 294.8 166.3 293.3 168 294.5C169.8 295.8 171.8 301.2 173.4 305C175.1 308.7 174.4 316.2 177.9 316.9C181.4 317.7 188.1 312.7 194.4 309.5C200.6 306.2 208.8 300.8 215.3 297.5C221.8 294.3 229.2 291 233.2 290C237.2 289 238.5 289.5 239.2 291.5C240 293.5 240.2 298 237.7 302C235.2 306 230 311.2 224.3 315.5C218.5 319.7 210.8 323.9 203.3 327.4C195.8 330.9 186.9 334.9 179.4 336.4C171.9 337.9 163.2 337.6 158.5 336.4C153.7 335.1 151.5 333.1 151 328.9Z" fill="none" stroke="#000" stroke-width="2.1"/><path d="M153.1 330.4C152.6 327.4 156.6 320.7 158.5 316.9C160.4 313.2 162.7 309.2 164.5 308C166.2 306.7 167.7 307.7 168.9 309.5C170.2 311.2 170.2 316.2 171.9 318.4C173.7 320.7 175.2 323.7 179.4 322.9C183.6 322.2 191.4 317.2 197.3 314C203.3 310.7 210.3 305.7 215.3 303.5C220.3 301.2 225.2 299.8 227.2 300.5C229.3 301.2 229.8 305 227.8 308C225.9 311 220.4 315.2 215.3 318.4C210.2 321.7 203.3 324.8 197.3 327.4C191.4 330.1 185.4 333 179.4 334.3C173.4 335.5 165.8 335.5 161.5 334.9C157.1 334.2 153.6 333.4 153.1 330.4Z" fill="none" stroke="#000" stroke-width="2.1"/><path d="M185.4 321.4C188.6 318.7 198.1 314.7 203.3 312.5C208.6 310.2 214 308.2 216.8 308C219.5 307.7 221 309 219.8 311C218.5 313 213.5 317.2 209.3 319.9C205.1 322.7 198.6 325.9 194.4 327.4C190.1 328.9 185.4 329.9 183.9 328.9C182.4 327.9 182.1 324.2 185.4 321.4Z" fill="none" stroke="#000" stroke-width="2.1"/><path d="M151 331.9C151.4 330.3 153.5 328.2 155.5 327.4C157.5 326.7 161.4 326.6 163 327.4C164.6 328.3 165.6 330.9 165.1 332.5C164.6 334.1 162 336.5 160 337.3C158 338.1 154.6 338.2 153.1 337.3C151.6 336.4 150.6 333.5 151 331.9Z" fill="none" stroke="#000" stroke-width="2.1"/><path d="M171.9 330.4C173 328.8 177.1 326.8 179.4 326.5C181.7 326.3 185 327.5 186 328.9C187 330.3 186.6 333.3 185.4 334.9C184.2 336.5 180.9 338.2 178.8 338.5C176.7 338.7 174 337.7 172.8 336.4C171.7 335 170.8 332 171.9 330.4Z" fill="none" stroke="#000" stroke-width="2.1"/><path d="M144.4 341.8C136 338 143.7 323 144.7 318.6C145.6 314.2 147.8 315.3 150 315.3C152.1 315.3 154.6 317.5 157.7 318.6C160.9 319.7 164.4 320.6 168.8 321.9C173.2 323.2 179.5 324.4 184.3 326.3C189.1 328.3 195.7 331 197.6 333.5C199.4 336.1 204.2 340.5 195.4 341.8C186.5 343.2 152.9 345.7 144.4 341.8Z" fill="#000"/><path d="M151.6 330.2C152.5 329.8 154.9 327.5 156.6 327.5C158.4 327.4 160.9 328.7 162.1 329.7C163.3 330.7 163.5 332.9 163.8 333.5" fill="none" stroke="#fff" stroke-width="1.3"/><path d="M153.3 334.1C154.2 333.8 156.8 332.1 158.8 332.4C160.9 332.8 164.4 335.7 165.5 336.3" fill="none" stroke="#fff" stroke-width="1.3"/><path d="M167.7 326.3C168.6 326 170.8 324.1 173.2 324.1C175.6 324.1 179.9 325.4 182.1 326.3C184.3 327.3 185.8 329.1 186.5 329.7" fill="none" stroke="#fff" stroke-width="1.3"/><path d="M175.4 331.3C176.2 331.1 178.4 329.9 179.9 330.2C181.3 330.5 183.6 332.5 184.3 333" fill="none" stroke="#fff" stroke-width="1.3"/><path d="M188.7 336.3L193.2 334.1" fill="none" stroke="#fff" stroke-width="1.3"/><path d="M174.9 316.9L185.4 311L195.8 312.5L186.9 321.4L176.4 322.9Z" fill="none" stroke="#000" stroke-width="2" stroke-linejoin="round"/></g><rect x="157" y="232" width="32" height="17" fill="#c9c9c9"/><rect x="148" y="210" width="42" height="20" fill="#fff" opacity=".55"/><text x="147.5" y="224" font-size="18.5" font-weight="bold">Cells</text><text x="150" y="244.5" font-size="18.5" font-weight="bold">26.4</text><path d="M143.5 341h-9M143.5 341v9M143.5 329.3h-4.5M155.2 341v4.5M143.5 317.6h-4.5M166.9 341v4.5M143.5 306h-4.5M178.5 341v4.5M143.5 294.3h-4.5M190.2 341v4.5M143.5 282.6h-9M201.9 341v9M143.5 270.9h-4.5M213.6 341v4.5M143.5 259.2h-4.5M225.3 341v4.5M143.5 247.6h-4.5M236.9 341v4.5M143.5 235.9h-4.5M248.6 341v4.5M143.5 224.2h-9M260.3 341v9M143.5 212.5h-4.5M272 341v4.5M143.5 200.8h-4.5M283.7 341v4.5M143.5 189.2h-4.5M295.3 341v4.5M143.5 177.5h-4.5M307 341v4.5M143.5 165.8h-9M318.7 341v9M143.5 154.1h-4.5M330.4 341v4.5M143.5 142.5h-4.5M342 341v4.5M143.5 130.8h-4.5M353.7 341v4.5M143.5 119.1h-4.5M365.4 341v4.5M143.5 107.4h-9M377.1 341v9M143.5 95.7h-4.5M388.8 341v4.5M143.5 84.1h-4.5M400.4 341v4.5M143.5 72.4h-4.5M412.1 341v4.5M143.5 60.7h-4.5M423.8 341v4.5M143.5 49h-9M435.5 341v9M143.5 37.3h-4.5M447.2 341v4.5" stroke="#000" stroke-width="2.1" fill="none"/><rect x="143.5" y="35" width="306" height="306" fill="none" stroke="#000" stroke-width="2.2"/><g font-size="20.2"><text x="120.3" y="343.2" text-anchor="end">0</text><text x="143.5" y="370" text-anchor="middle">0</text><text x="135.5" y="291.3" text-anchor="end">50K</text><text x="203.4" y="370" text-anchor="middle">50K</text><text x="135.5" y="232.9" text-anchor="end">100K</text><text x="261.8" y="370" text-anchor="middle">100K</text><text x="135.5" y="174.5" text-anchor="end">150K</text><text x="320.2" y="370" text-anchor="middle">150K</text><text x="135.5" y="116.1" text-anchor="end">200K</text><text x="378.6" y="370" text-anchor="middle">200K</text><text x="135.5" y="57.7" text-anchor="end">250K</text><text x="437" y="370" text-anchor="middle">250K</text></g><text x="144.5" y="21.3" font-size="28">All events</text><path d="M92.3 340.5L92.3 385.7L136.5 385.7" stroke="#231f20" stroke-width="2" fill="none"/><path d="M92.3 329l-9.2 17.5l9.2 -4.5l9.2 4.5z" fill="#231f20"/><path d="M147.3 385.7l-17.5 -9.2l4.5 9.2l-4.5 9.2z" fill="#231f20"/><text font-size="20.1" transform="translate(77 384.5) rotate(-90)">SSC-A</text><text x="90.5" y="408.5" font-size="20.1">FSC-A</text><path d="M462 190.8L506 190.8" stroke="#231f20" stroke-width="2"/><path d="M516 190.8l-17.5 -9.2l4.5 9.2l-4.5 9.2z" fill="#231f20"/><path d="M612 298l0 16l5 5l4 9l5 3l3 0l16 6l11 0l1 1l25-1l6 2l1-1l5 0l0-2l2-2l3 0l1-1l134 0l1 1l20-1l0-5l-3 0l-1-1l-16-1l-1-1l-23-2l-1-1l-9 0l-7-2l-16-1l-1-1l-12-1l-1-1l-19-1l-1-1l-5 0l-7-2l-17-1l-1-1l-19-3l-2-5l-17-8l-2 0l-9-6l-6-2l-2-2l-11-5l-6 0l-1-1l-7 0l-12 9z" fill="url(#pk0)" fill-rule="evenodd"/><path d="M616 300l1 3l-1 1l0 10l3 2l5 9l14 5l3 2l1-1l1 1l11 0l1 1l6 0l1 1l1-1l1 1l5 0l1-1l1 1l2-1l21 1l1-2l4-2l16 0l1 1l25 0l1-1l3 0l1 1l40 0l1 1l68 0l0-3l-3 0l-1-1l-17-1l-1-1l-7 0l-1-1l-10 0l-1-1l-35-3l-1-1l-12-1l-1-1l-12 0l-1-1l-8 0l-1-1l-6 0l-7-2l-14 0l-5-2l-6 0l-1-1l-7-1l-2-1l-1-2l-2 0l-40-20l-4-3l-8-1l-1-1l-1 1l-4-1l-9 6z" fill="url(#pk1)" fill-rule="evenodd"/><path d="M618 299l0 8l-1 1l1 2l-1 3l5 5l2 4l6 4l8 2l2 2l5 0l1 1l12 0l1 1l1-1l1 1l14 0l1-1l1 1l2-1l2 1l1-1l1 1l6 0l2 1l3-1l5-4l14 0l1 1l39 0l1 1l13 0l3-1l1 1l17 0l1 1l25-1l1 1l18 0l1 1l21 0l0-2l-2-1l-18-1l-1-1l-8 0l-1-1l-11 0l-1-1l-8 0l-1-1l-8 0l-1-1l-14 0l-4-2l-5 0l-1-1l-23-1l-1-1l-7 0l-7-2l-17 0l-4-2l-11-1l-6-2l-2-2l-21-10l-2-2l-2 0l-4-3l-5-1l-15-9l-11 0l0 1l-5 3l-6 6l-2 4z" fill="url(#pk2)" fill-rule="evenodd"/><path d="M618 308l1 2l-1 3l3 2l5 8l12 4l2 2l6 0l1 1l1-1l1 1l9 0l1 1l1-1l1 1l14 0l1-1l1 1l2-1l1 1l2-1l2 1l1-1l1 1l8 0l5-5l7 0l1 1l17 0l1 1l22-1l1 1l29 0l1 1l18 0l1 1l18-1l1 1l16 0l1 1l22 0l-1-1l-9 0l-1-1l-6 0l-1-1l-25-1l-1-1l-16-1l-1-1l-15 0l-3-2l-17-1l-1-1l-14 0l-1-1l-6 0l-1-1l-6 0l-1-1l-13 1l-7-3l-11-1l-9-6l-4-1l-2-2l-8-4l-2 0l-7-5l-7-2l-2-2l-4-1l-1-2l-4-1l-5-3l-2 1l-1-1l-3 1l-3-1l-6 4l-9 11l0 7z" fill="url(#pk3)" fill-rule="evenodd"/><path d="M820 328l0 1l3 0zM619 301l1 2l-1 2l1 1l-1 2l1 2l-1 3l3 1l-1 1l3 2l0 2l2 1l0 2l2 0l2 2l2-1l1 2l2 0l2 2l2-1l1 2l3 0l1 1l1-1l1 1l11 0l1 1l6 0l1 1l1-1l9 0l1-1l1 1l2-1l2 1l1-1l1 1l6 0l1 1l1-1l3 0l5-6l22 1l1 1l24-1l1 1l6 0l1 1l10 0l1-1l13 1l2-1l6 2l17 0l1-1l-15-1l-1-1l-2 1l-7 0l-6-3l-19-1l-1-1l-15 0l-6-2l-16 1l-6-3l-11-1l-5-4l-4-1l-1-2l-2 0l-10-6l-1 1l-1-2l-2 0l-5-4l-1 1l-1-2l-2 0l-2-2l-1 1l-2-2l-1 1l-1-2l-2 1l-3-4l-2 0l-2-2l-5-2l-2 1l-3-1l-1 1l-2-2l-2 3l-2 0l-1 2l-2 0l-2 4l-3 2l1 1z" fill="url(#pk4)" fill-rule="evenodd"/><path d="M752 324l9 1l0-1zM726 322l0 1l7 0l0-1zM620 301l1 2l-1 1l1 3l-1 2l1 1l-2 2l6 5l-1 1l3 2l0 2l2-1l1 2l2-1l2 3l2-1l1 2l2 0l2 2l1-1l1 1l6 0l1 1l1-1l2 1l1-1l2 1l1-1l5 2l1-1l1 1l2-1l2 1l2-1l1 1l2-2l1 2l2-2l1 1l2-1l2 1l1-1l5 2l1-1l2 1l2-1l1 1l3-6l3-2l8 0l1 1l5-1l0-1l-3-2l-12-1l-4-3l0-2l-2 0l-1-2l-2 1l-3-4l-2 1l-1-2l-2 0l-1-2l-2 1l-1-2l-2 0l-1-2l-2 1l-1-2l-5-3l-2 0l-1-2l-3-1l-2 1l-1-2l-2 0l-1-2l-2 1l-1-3l-1 1l-1-2l-6-2l-2 1l-2-2l-2 1l-2-1l-2 3l-1-1l-2 3l-1-1l-1 1l1 1l-3 1l0 2l-2 1l0 1l-2 1l0 2z" fill="url(#pk5)" fill-rule="evenodd"/><path d="M621 301l0 3l-1 1l1 1l-1 2l1 3l-1 1l2 3l3 2l2 4l2 0l2 2l1-1l2 2l2 0l2 2l6 2l1-1l2 1l1-1l2 1l2-1l7 2l1-1l2 1l1-1l1 1l2-1l2 1l1-1l2 1l2-1l1 1l2-1l1 1l2-1l2 1l1-1l2 1l1-1l2 1l4 0l1-1l2 1l-1-2l2-2l-1-2l3-2l-3-2l1-2l-2-2l0-2l-4-1l-1-2l-1 1l-7-5l-2 0l-1-2l-1 1l-2-2l-2 0l-1-2l-1 1l-2-3l-2 1l-1-2l-5-1l-1-2l-1 1l-2-2l-4-1l-1-2l-2 0l-1-2l-1 1l-1-2l-3-1l-2 1l-6-2l-2 3l-4 2z" fill="url(#pk6)" fill-rule="evenodd"/><path d="M621 302l0 9l-1 1l5 5l2 4l5 1l9 5l8 0l1 1l2-1l1 1l8 0l1 1l1-1l2 1l1-1l2 1l1-1l2 1l1-1l2 1l1-1l11 0l1 1l1-1l2 1l2-1l1 1l0-3l2-4l-2-8l-2 0l-1-2l-14-7l-2-2l-2 0l-4-3l-2 0l-1-2l-1 1l-2-2l-2 0l-8-4l-1-2l-2 0l-5-3l-9-1l-6 4z" fill="url(#pk7)" fill-rule="evenodd"/><path d="M620 312l8 9l3 1l0-2l3-1l3 3l-1 2l5 3l11 0l3-4l2 0l1 1l0 4l6 0l1 1l1-1l2 1l1-1l11 0l1-1l2 1l10 0l2-6l-1-4l-7-1l-5 7l-6-1l-1-3l2-3l8-3l1-4l-8-4l-3 4l-2 0l-2-2l0-4l1-1l-13-7l-2 2l-2 0l-2-2l0-3l-9-5l-3 0l-1-1l-5 0l-3 2l2 9l2 2l0 3l-1 1l-3 0l-2-4l-3-1l-1 2l1 6l-3 2l-3-1l0 3zM657 311l2 1l0 6l-1 1l-3-5z" fill="#000" fill-rule="evenodd"/><path d="M640 294.5C640.4 290.4 643 289.3 643.9 293C644.7 296.8 645.5 312.9 645.1 316.9C644.7 321 642.3 321.3 641.5 317.5C640.6 313.8 639.6 298.6 640 294.5Z" fill="none" stroke="#fff" stroke-width="1.3"/><path d="M633.1 305C633.2 303.4 634.7 301.5 635.5 302C636.3 302.5 638 306.4 637.9 308C637.8 309.6 635.7 312.1 634.9 311.6C634.1 311.1 633 306.6 633.1 305Z" fill="none" stroke="#fff" stroke-width="1.1"/><path d="M635.5 316.9C636 315.6 638.7 314.7 640 315.5C641.2 316.2 643.5 320.1 643 321.4C642.5 322.8 638.2 324.3 637 323.5C635.7 322.8 635 318.3 635.5 316.9Z" fill="none" stroke="#fff" stroke-width="1.1"/><rect x="618.4" y="234.7" width="76.9" height="103.2" fill="none" stroke="#000" stroke-width="2"/><text x="661" y="207.8" font-size="19.6" text-anchor="middle">Single cells 1</text><text x="661" y="225.8" font-size="19.6" text-anchor="middle">99.0</text><path d="M550.3 340.9h-9M550.3 340.9v9M550.3 329.2h-4.5M562 340.9v4.5M550.3 317.6h-4.5M573.7 340.9v4.5M550.3 305.9h-4.5M585.4 340.9v4.5M550.3 294.2h-4.5M597.1 340.9v4.5M550.3 282.6h-9M608.8 340.9v9M550.3 270.9h-4.5M620.5 340.9v4.5M550.3 259.3h-4.5M632.2 340.9v4.5M550.3 247.6h-4.5M643.9 340.9v4.5M550.3 235.9h-4.5M655.6 340.9v4.5M550.3 224.3h-9M667.3 340.9v9M550.3 212.6h-4.5M679 340.9v4.5M550.3 200.9h-4.5M690.7 340.9v4.5M550.3 189.3h-4.5M702.4 340.9v4.5M550.3 177.6h-4.5M714.1 340.9v4.5M550.3 165.9h-9M725.8 340.9v9M550.3 154.3h-4.5M737.5 340.9v4.5M550.3 142.6h-4.5M749.2 340.9v4.5M550.3 130.9h-4.5M760.9 340.9v4.5M550.3 119.3h-4.5M772.6 340.9v4.5M550.3 107.6h-9M784.3 340.9v9M550.3 96h-4.5M796 340.9v4.5M550.3 84.3h-4.5M807.7 340.9v4.5M550.3 72.6h-4.5M819.4 340.9v4.5M550.3 61h-4.5M831.1 340.9v4.5M550.3 49.3h-9M842.8 340.9v9M550.3 37.6h-4.5M854.5 340.9v4.5" stroke="#000" stroke-width="2.1" fill="none"/><rect x="550.3" y="35.3" width="306.5" height="305.6" fill="none" stroke="#000" stroke-width="2.2"/><g font-size="20.2"><text x="527.1" y="343.1" text-anchor="end">0</text><text x="550.3" y="369.9" text-anchor="middle">0</text><text x="542.3" y="291.3" text-anchor="end">50K</text><text x="610.3" y="369.9" text-anchor="middle">50K</text><text x="542.3" y="233" text-anchor="end">100K</text><text x="668.8" y="369.9" text-anchor="middle">100K</text><text x="542.3" y="174.6" text-anchor="end">150K</text><text x="727.3" y="369.9" text-anchor="middle">150K</text><text x="542.3" y="116.3" text-anchor="end">200K</text><text x="785.8" y="369.9" text-anchor="middle">200K</text><text x="542.3" y="58" text-anchor="end">250K</text><text x="844.3" y="369.9" text-anchor="middle">250K</text></g><text x="550.5" y="22.3" font-size="28">Gated on cells</text><path d="M501.5 337L501.5 382.5L546 382.5" stroke="#231f20" stroke-width="2" fill="none"/><path d="M501.5 325.5l-9.2 17.5l9.2 -4.5l9.2 4.5z" fill="#231f20"/><path d="M556.8 382.5l-17.5 -9.2l4.5 9.2l-4.5 9.2z" fill="#231f20"/><text font-size="20.1" transform="translate(486.8 380) rotate(-90)">FSC-H</text><text x="499.5" y="406" font-size="20.1">FSC-W</text><path d="M869 190.5L915 190.5" stroke="#231f20" stroke-width="2"/><path d="M925 190.5l-17.5 -9.2l4.5 9.2l-4.5 9.2z" fill="#231f20"/><path d="M969 338l158 0l5-2l35-3l3-2l-9-3l-8 0l-1-1l-24-2l-1-1l-9 0l-1-1l-5 0l-7-2l-14-1l-3-2l-3 0l-9-4l-18-5l-3-2l-2 0l-2-2l-8-1l-1 1l-5 0l-3 3l-1 3l-11 10l-1 4l-2 2l-15 0l-1 1l-7 0l-1-1l-9 0l-1 1l-3-1l-9 0l-3 1l-1-1z" fill="url(#pk0)" fill-rule="evenodd"/><path d="M969 336l24 0l3-1l1 1l22 0l3 2l101 0l4-3l5 0l7-2l7 0l2-1l1-2l-7-2l-5 0l-1-1l-7 0l-1-1l-7 0l-1-1l-7 0l-1-1l-21-2l-36-12l-7-4l-3 0l-1 1l-2-1l-1 1l-4 0l-3 6l-11 10l0 4l-4 3l-50 0z" fill="url(#pk1)" fill-rule="evenodd"/><path d="M983 334l5 1l5-2l-1-1l-8 0zM969 335l9-2l-1-1l-8 0zM1009 333l2 1l2-1l7 1l3 4l91 0l1-1l1 1l1-1l6 0l3-3l9-1l5-2l-7-3l-5 0l-1-1l-6 0l-1-1l-6 0l-1-1l-8 0l-1-1l-6 0l-1-1l-1 1l-1-1l-5 0l-15-5l-3-2l-9-2l-16-7l-3 1l-2-1l-1 1l-3 0l-3 4l0 2l-10 8l-1 2l1 1l-1 1l0 3l-4 3l-11 0z" fill="url(#pk2)" fill-rule="evenodd"/><path d="M1023 334l1 1l0 3l33 0l1-1l1 1l2-1l1 1l27 0l1-1l1 1l2-1l1 1l2-1l1 1l2-1l10 0l1 1l1-1l12-1l3-3l7-2l-3-2l-9-1l-1-1l-6 0l-1-1l-6 0l-1-1l-1 1l-5-2l-1 1l-1-1l-6 0l-1-1l-1 1l-2-2l-1 1l-2-2l-1 1l-6-2l-2-2l-1 1l-2-2l-6-2l-1 1l-5-3l-1 1l-4-3l-9-3l-3 1l-1-1l-2 1l-2-1l-1 3l-2 1l0 2l-4 3l-5 6l-2 0l0 6z" fill="url(#pk3)" fill-rule="evenodd"/><path d="M1025 338l2-1l1 1l3-1l1 1l25 0l1-1l1 1l2-1l1 1l2-1l2 1l2-1l1 1l2-1l1 1l2-1l1 1l2-1l6 1l1-1l1 1l5-2l1 1l2-1l1 1l2-1l1 1l2-1l1 1l2-1l1 1l2-1l1 1l2-1l1 1l3-1l1 1l5-2l1 1l2-1l1 1l1-3l4-2l0-1l-10-2l-1-1l-5 0l-1-1l-3 1l-1-1l-11-1l-1-1l-2 1l-7-3l-2 1l-1-2l-2 1l-1-2l-1 1l-4-3l-23-7l-2-2l-1 1l-2-2l-2 2l-1-1l-2 1l-2-1l-1 1l1 1l-2 1l0 3l-2 1l-1 2l-2 0l-3 2l-1 3l-2 0z" fill="url(#pk4)" fill-rule="evenodd"/><path d="M1025 337l2-1l2 2l2-1l1 1l2-1l1 1l21 0l1-1l8 0l1 1l2-1l1 1l1-1l6 0l1-1l1 1l5 0l1-1l1 1l2-1l1 1l1-1l2 1l2-1l1 1l2-1l2 1l1-2l1 1l2-1l1 1l2-1l1 1l7 0l1-1l2 1l1-1l5 0l0-2l2-3l-3 0l-9-3l-1 1l-1-1l-12-1l-1-1l-1 1l-2-1l-2 1l-15-5l-1-2l-2 1l-1-2l-1 1l-2-2l-2 1l-1-2l-2 1l-1-2l-2 1l-1-2l-1 1l-2-2l-1 1l-2-2l-2 1l-1-2l-1 1l-2-2l-3-1l-2 1l-1-1l-1 1l-3 0l0 2l-2 1l0 2l-2 1l-1 2l-2 0l0 2l-3 1l0 1l-3 2l1 1l-1 2l1 1l-1 2l1 2l-2 1l1 2z" fill="url(#pk5)" fill-rule="evenodd"/><path d="M1026 327l1 1l-1 2l1 1l-1 6l1-1l6 2l1-1l1 1l21 0l1-1l17 0l1-1l1 1l1-1l2 1l1-1l2 1l2-1l1 1l1-1l12 0l1-1l1 1l2-1l1 1l2-1l2 1l1-1l1 1l3-1l1 1l1-1l7 0l1-1l0-3l-9-3l-3 0l-1-1l-1 1l-2-1l-2 1l-1-2l-1 1l-2-1l-2 1l-4-2l-2 1l-39-13l-1-2l-1 1l-5-3l-1 1l-6 0l0 2l-2 1l0 2l-10 9z" fill="url(#pk6)" fill-rule="evenodd"/><path d="M1026 336l7 2l1-1l1 1l21 0l4-4l2 0l3 3l9 0l1-1l3 0l1 1l2-1l1 1l1-1l14 0l1-1l5 0l1 1l1-1l2 1l2-1l1 1l1-1l10 0l-2-3l1-1l2 1l0-1l-3 0l-7-3l-2 1l-4-2l-2 1l-4-2l-1 1l-2-1l-5 0l-8-3l1 2l-2 2l-5 2l-2-2l0-2l3-4l-26-8l-7-4l-1 1l-5 0l-3 5l-10 9z" fill="url(#pk7)" fill-rule="evenodd"/><path d="M1077 336l38-1l1-5l-7-2l-17-2l-1 2l-4 3l-5-1zM1027 324l2 0l2 2l0 3l-5 4l0 3l2 1l9 1l0-5l-3-4l3-3l6 0l2-2l5 0l5 4l-5 3l-1 2l1 5l5 0l3-5l-1-5l2-2l5-2l3 1l-2 9l3 3l6 0l-2-3l2-3l0-7l2-4l-23-7l-5-3l-1 1l-7-1l-3 5z" fill="#000" fill-rule="evenodd"/><path d="M1043.5 317.5C1043.9 316.2 1046.3 315.4 1047.1 316.3C1047.9 317.3 1048.7 322.1 1048.3 323.5C1047.9 324.9 1045.5 325.7 1044.7 324.7C1043.9 323.7 1043.1 318.9 1043.5 317.5Z" fill="none" stroke="#fff" stroke-width="1.2"/><path d="M1038.1 325.9C1038.6 324.9 1041.4 324.1 1042.3 324.7C1043.2 325.3 1044 328.5 1043.5 329.5C1043 330.5 1040.2 331.3 1039.3 330.7C1038.4 330.1 1037.6 326.9 1038.1 325.9Z" fill="none" stroke="#fff" stroke-width="1"/><rect x="1026.2" y="253.6" width="57.7" height="85.8" fill="none" stroke="#000" stroke-width="2"/><text x="1058" y="224.3" font-size="19.6" text-anchor="middle">Single cells 2</text><text x="1057" y="242.2" font-size="19.6" text-anchor="middle">98.5</text><path d="M961.9 339.4h-9M961.9 339.4v9M961.9 327.7h-4.5M973.6 339.4v4.5M961.9 316.1h-4.5M985.3 339.4v4.5M961.9 304.4h-4.5M996.9 339.4v4.5M961.9 292.7h-4.5M1008.6 339.4v4.5M961.9 281.1h-9M1020.3 339.4v9M961.9 269.4h-4.5M1032 339.4v4.5M961.9 257.8h-4.5M1043.6 339.4v4.5M961.9 246.1h-4.5M1055.3 339.4v4.5M961.9 234.4h-4.5M1067 339.4v4.5M961.9 222.8h-9M1078.7 339.4v9M961.9 211.1h-4.5M1090.3 339.4v4.5M961.9 199.4h-4.5M1102 339.4v4.5M961.9 187.8h-4.5M1113.7 339.4v4.5M961.9 176.1h-4.5M1125.4 339.4v4.5M961.9 164.4h-9M1137 339.4v9M961.9 152.8h-4.5M1148.7 339.4v4.5M961.9 141.1h-4.5M1160.4 339.4v4.5M961.9 129.4h-4.5M1172.1 339.4v4.5M961.9 117.8h-4.5M1183.7 339.4v4.5M961.9 106.1h-9M1195.4 339.4v9M961.9 94.5h-4.5M1207.1 339.4v4.5M961.9 82.8h-4.5M1218.8 339.4v4.5M961.9 71.1h-4.5M1230.4 339.4v4.5M961.9 59.5h-4.5M1242.1 339.4v4.5M961.9 47.8h-9M1253.8 339.4v9M961.9 36.1h-4.5M1265.5 339.4v4.5" stroke="#000" stroke-width="2.1" fill="none"/><rect x="961.9" y="33.8" width="305.9" height="305.6" fill="none" stroke="#000" stroke-width="2.2"/><g font-size="20.2"><text x="938.7" y="341.6" text-anchor="end">0</text><text x="961.9" y="368.4" text-anchor="middle">0</text><text x="953.9" y="289.8" text-anchor="end">50K</text><text x="1021.8" y="368.4" text-anchor="middle">50K</text><text x="953.9" y="231.5" text-anchor="end">100K</text><text x="1080.2" y="368.4" text-anchor="middle">100K</text><text x="953.9" y="173.1" text-anchor="end">150K</text><text x="1138.5" y="368.4" text-anchor="middle">150K</text><text x="953.9" y="114.8" text-anchor="end">200K</text><text x="1196.9" y="368.4" text-anchor="middle">200K</text><text x="953.9" y="56.5" text-anchor="end">250K</text><text x="1255.3" y="368.4" text-anchor="middle">250K</text></g><text x="962" y="21.5" font-size="28">Gated on single cells 1</text><path d="M910.5 331L910.5 377L952 377" stroke="#231f20" stroke-width="2" fill="none"/><path d="M910.5 319.5l-9.2 17.5l9.2 -4.5l9.2 4.5z" fill="#231f20"/><path d="M962.8 377l-17.5 -9.2l4.5 9.2l-4.5 9.2z" fill="#231f20"/><text font-size="20.1" transform="translate(894 376) rotate(-90)">SSC-H</text><text x="907.5" y="400.5" font-size="20.1">SSC-W</text><path d="M1279 190L1324 190" stroke="#231f20" stroke-width="2"/><path d="M1334 190l-17.5 -9.2l4.5 9.2l-4.5 9.2z" fill="#231f20"/></g>
<g id="panel-a2"><path d="M1430 183l1 16l-2 6l0 15l-1 1l0 4l-9 15l0 3l-5 11l0 24l1 1l0 7l7 16l5 7l2 6l1 15l5 0l2 2l1-2l6 0l1-1l0-5l-1-1l1-13l5-10l4-3l19 1l1 1l9 1l5 2l3-1l10 3l24 0l1-1l11 1l14-7l9-3l2-2l5-2l3-3l3-5l0-6l1-1l-2-9l-8-10l-10-5l-9-3l-4 0l-7-3l-13 0l-1 1l-13-1l-1 1l-6 0l-1 1l-9 0l-1-1l0-4l-2 1l-8 0l-1 1l-3 0l-1-1l-3 0l-1 1l-10 0l-5-2l-6-7l-4-10l0-12l-2-6l2-7l-1-3l0-15l-13 0z" fill="url(#pk0)" fill-rule="evenodd"/><path d="M1436 208l-3 10l0 7l-3 6l-7 9l0 2l-3 5l-3 9l0 22l1 1l0 6l3 7l2 2l0 2l9 13l2 13l2 5l3-6l2-13l4-6l3-8l3-2l10-2l1 1l15 1l7 3l2-1l3 1l0-1l2-1l4 2l4 0l6 2l21 1l5-2l7 0l5-3l8-2l5-5l6-14l-8-9l-7-4l-3-3l-4 0l-6-3l-4 0l-1-1l-21 0l-1 1l-8 0l-9 4l-1-1l0-8l-35 3l-2-2l-12-22l0-7l-2-5l0-5z" fill="url(#pk1)" fill-rule="evenodd"/><path d="M1419 255l-1 12l1 1l1 17l5 10l7 8l4 7l6-9l4-9l3-3l6-3l11-1l4 2l8 1l9 3l4 0l6 3l10 1l1 1l19 0l1-1l4 0l10-3l8-4l4-4l4-9l-1-5l-6-7l-8-5l-12-4l-7 0l-1-1l-20 1l-1 1l-4 0l-8 4l-1-1l0-5l-4 0l-1 1l-5 0l-1-1l-26 1l-2-2l-7-15l-5-7l-3 0l-3 2l-5 6l-6 11z" fill="url(#pk2)" fill-rule="evenodd"/><path d="M1420 257l0 21l1 1l1 7l5 9l8 7l2 0l5-5l3-7l9-8l17 0l23 10l7 2l4 0l1 1l22 0l14-4l6-3l6-6l2-5l0-6l-7-8l-6-4l-17-5l-17 0l-1 1l-6 0l-7 2l-5 3l-1-3l-5 0l-1 1l-4 0l-3-2l-24 1l-3-3l-4-9l-7-11l-4 0l-7 7l-4 7z" fill="url(#pk3)" fill-rule="evenodd"/><path d="M1420 265l1 1l0 11l1 1l2 10l4 6l5 4l5 0l3-3l5-9l7-7l3-1l2 1l16 0l7 6l18 8l13 1l1 1l11 0l1-1l9-1l14-6l4-4l3-7l0-4l-2-4l-5-5l-7-4l-12-4l-8 0l-2-1l-1 1l-18 1l-10 5l-1-2l-4 0l-5 2l-3-2l-9 0l-1 1l-16-1l-3-3l0-2l-4-8l-7-9l-5 1l-6 7l-4 9l-1 10z" fill="url(#pk4)" fill-rule="evenodd"/><path d="M1421 263l0 10l1 1l0 4l2 4l1 6l2 3l5 4l6 0l4-4l4-8l5-5l4-2l21 1l4 5l5 4l2 0l8 5l7 2l4 0l1 1l20 0l14-4l7-4l3-3l3-7l0-4l-2-4l-4-4l-9-5l-14-4l-21 1l-1 1l-7 1l-4 3l-4-1l-5 2l-6 0l-1-1l-6 0l-1 1l-3 0l-1-1l-14 0l-4-4l-3-9l-7-8l-4 0l-5 4l-4 7l-2 6l0 5z" fill="url(#pk5)" fill-rule="evenodd"/><path d="M1422 261l0 14l2 4l2 9l5 5l7 0l5-6l2-5l6-6l2-1l6 0l1-1l17 1l7 9l4 1l3 3l9 4l3 0l1 1l10 0l1 1l8 0l1-1l5 0l10-3l8-4l4-4l2-6l0-4l-2-4l-4-4l-7-4l-12-4l-20 0l-1 1l-6 0l-7 3l-2 2l-7 0l-5 2l-3-1l-16 0l-1-1l-10 1l-3-3l-1-6l-4-7l-7-6l-3 1l-5 5l-3 6l0 3z" fill="url(#pk6)" fill-rule="evenodd"/><path d="M1423 259l0 17l1 1l0 3l3 8l5 4l6-1l5-6l2-5l5-5l5-2l5 0l1-1l4 0l1 1l12 0l6 9l2 0l0-1l5-4l2 2l0 3l-2 4l7 5l8 1l1 1l20 0l1-1l7-1l11-5l4-4l2-5l0-5l-5-7l-9-5l-13-4l-26 2l-7 5l-7 0l-4 2l-6 0l-1-1l-2 1l-9 0l-1-1l-9 0l-3 1l-2-1l-2-3l-2-10l-7-8l-4 0l-5 4l-3 5l0 3zM1534 284l-5 4l-5 0l-1-1l0-3l2-2l6-1z" fill="url(#pk7)" fill-rule="evenodd"/><path d="M1428 280l-2 3l2 5l4 3l5-1l-2-2l-1-4l-4-4zM1423 262l0 13l5 2l2-1l6 0l2 2l0 6l2 3l2-2l3-7l5-5l2-1l7 0l2-2l4 0l1 1l13 0l3 2l2 6l5-6l6 1l6 5l0 2l-6 5l0 2l2 2l7 2l8 0l1-1l4 2l12-1l12-4l5-3l3-3l2-5l-1-7l-4-5l-2 0l-4-3l-7-2l-5-3l-10 0l1 2l-1 3l-7 0l-8-4l-1 1l-3 0l-5 6l-8-1l-9 3l-15 0l-6-2l-4 2l-3 0l-2-1l-2-3l0-7l-2-5l-3-4l-4-3l-5 1l-3 3l-3 7l1-1l5 1l4 5l-2 2l-4 0l-1 1l-2 0l-2-3zM1511 267l2 0l4 4l-1 2l0 8l-3 4l-3 0l-2-2l0-6l1-1l-1-6zM1442 265l2 2l0 4l-3 2l-1-1l0-4zM1541 263l1 2l-2 4l-4 3l0 2l-2 3l0 2l2 3l0 3l-4 4l-9 1l-2-2l-1-4l4-5l5 0l2-5l0-3l-3-5l0-2l3-3l3 0l3 3z" fill="#000" fill-rule="evenodd"/><path d="M1440.6 267.2C1440.6 269.3 1440.3 271.7 1439.8 273.6C1439.3 275.4 1438.5 277.2 1437.6 278.3C1436.8 279.3 1435.7 280 1434.7 280C1433.7 280 1432.6 279.3 1431.8 278.3C1431 277.2 1430.1 275.4 1429.7 273.6C1429.2 271.7 1428.9 269.3 1428.9 267.2C1428.9 265.1 1429.2 262.7 1429.7 260.8C1430.1 259 1431 257.2 1431.8 256.1C1432.6 255.1 1433.7 254.4 1434.7 254.4C1435.7 254.4 1436.8 255.1 1437.6 256.1C1438.5 257.2 1439.3 259 1439.8 260.8C1440.3 262.7 1440.6 265.1 1440.6 267.2Z" fill="none" stroke="#fff" stroke-width="0.9"/><path d="M1434.1 268.4C1434.1 269.2 1434 270.3 1433.8 270.8C1433.5 271.4 1433.2 271.8 1432.9 271.8C1432.6 271.8 1432.2 271.4 1432 270.8C1431.8 270.3 1431.7 269.2 1431.7 268.4C1431.7 267.6 1431.8 266.6 1432 266C1432.2 265.4 1432.6 265 1432.9 265C1433.2 265 1433.5 265.4 1433.8 266C1434 266.6 1434.1 267.6 1434.1 268.4Z" fill="#fff"/><path d="M1548.6 275.1C1548.6 277 1547.7 278.9 1546.2 280.6C1544.6 282.3 1542.1 284 1539.2 285.3C1536.3 286.6 1532.5 287.7 1528.7 288.4C1524.9 289.1 1520.5 289.5 1516.3 289.5C1512.2 289.5 1507.8 289.1 1504 288.4C1500.2 287.7 1496.4 286.6 1493.5 285.3C1490.6 284 1488.1 282.3 1486.5 280.6C1484.9 278.9 1484.1 277 1484.1 275.1C1484.1 273.3 1484.9 271.3 1486.5 269.6C1488.1 267.9 1490.6 266.2 1493.5 265C1496.4 263.7 1500.2 262.5 1504 261.8C1507.8 261.1 1512.2 260.7 1516.3 260.7C1520.5 260.7 1524.9 261.1 1528.7 261.8C1532.5 262.5 1536.3 263.7 1539.2 265C1542.1 266.2 1544.6 267.9 1546.2 269.6C1547.7 271.3 1548.6 273.3 1548.6 275.1Z" fill="#fff" stroke="#000" stroke-width="1.8"/><path d="M1491.4 271.5C1492 269.6 1494.4 267.3 1497.5 266C1500.5 264.7 1505.2 263.9 1509.6 263.5C1514.1 263.2 1520 263.4 1524.3 263.8C1528.5 264.2 1532.4 264.4 1535.2 266C1538.1 267.6 1540.5 270.9 1541.3 273.3C1542.1 275.7 1541.7 278.6 1540.1 280.6C1538.5 282.6 1535.4 284.7 1531.6 285.5C1527.7 286.3 1521.6 286.1 1516.9 285.5C1512.3 284.9 1507.4 283.2 1503.5 281.8C1499.7 280.4 1495.8 278.7 1493.8 276.9C1491.8 275.2 1490.8 273.3 1491.4 271.5Z" fill="none" stroke="#000" stroke-width="1.6"/><path d="M1499.9 272.7C1500.6 271.4 1503.1 269.4 1506 268.4C1508.8 267.5 1513.3 267.1 1516.9 267C1520.6 266.9 1525.1 266.8 1527.9 267.8C1530.8 268.9 1533.4 271.3 1534 273.3C1534.6 275.3 1533.6 278.6 1531.6 280C1529.5 281.4 1525.5 281.8 1521.8 281.8C1518.2 281.8 1513 280.9 1509.6 280C1506.3 279.1 1503.3 277.6 1501.7 276.3C1500.1 275.1 1499.2 274 1499.9 272.7Z" fill="none" stroke="#000" stroke-width="1.6"/><path d="M1511.1 273.3C1511.6 272.4 1513.5 270.8 1515.7 270.2C1517.9 269.7 1522.1 269.6 1524.3 270.2C1526.4 270.9 1528.3 272.7 1528.5 273.9C1528.7 275.1 1527.2 276.9 1525.5 277.6C1523.7 278.2 1520.3 278.2 1518.2 277.9C1516 277.6 1513.9 276.5 1512.7 275.7C1511.5 275 1510.6 274.2 1511.1 273.3Z" fill="none" stroke="#000" stroke-width="1.6"/><rect x="1363.8" y="32.9" width="305.2" height="305.6" fill="none" stroke="#000" stroke-width="1.2"/><path d="M1363.8 318.5h-9M1363.8 270h-9M1363.8 217.7h-9M1363.8 134.6h-9M1363.8 61.9h-9M1363.8 192.7h-4.5M1363.8 178.1h-4.5M1363.8 167.7h-4.5M1363.8 159.6h-4.5M1363.8 153h-4.5M1363.8 147.5h-4.5M1363.8 142.7h-4.5M1363.8 138.4h-4.5M1363.8 112.7h-4.5M1363.8 99.9h-4.5M1363.8 90.8h-4.5M1363.8 83.8h-4.5M1363.8 78h-4.5M1363.8 73.2h-4.5M1363.8 68.9h-4.5M1363.8 65.2h-4.5M1363.8 42.1h-4.5M1363.8 258.1h-4.5M1363.8 281.1h-4.5M1363.8 248.7h-4.5M1363.8 289.8h-4.5M1363.8 241.7h-4.5M1363.8 296.3h-4.5M1363.8 236.2h-4.5M1363.8 301.3h-4.5M1363.8 231.8h-4.5M1363.8 305.4h-4.5M1363.8 228.2h-4.5M1363.8 308.8h-4.5M1363.8 225h-4.5M1363.8 311.7h-4.5M1363.8 222.3h-4.5M1363.8 314.2h-4.5M1363.8 219.9h-4.5M1363.8 316.5h-4.5" stroke="#000" stroke-width="1.3" fill="none"/><path d="M1382 338.5v9M1431.3 338.5v9M1482.8 338.5v9M1565.6 338.5v9M1639.2 338.5v9M1507.7 338.5v4.5M1522.3 338.5v4.5M1532.7 338.5v4.5M1540.7 338.5v4.5M1547.2 338.5v4.5M1552.8 338.5v4.5M1557.6 338.5v4.5M1561.8 338.5v4.5M1587.8 338.5v4.5M1600.7 338.5v4.5M1609.9 338.5v4.5M1617 338.5v4.5M1622.9 338.5v4.5M1627.8 338.5v4.5M1632.1 338.5v4.5M1635.8 338.5v4.5M1659.3 338.5v4.5M1443.1 338.5v4.5M1420 338.5v4.5M1452.3 338.5v4.5M1411.2 338.5v4.5M1459.2 338.5v4.5M1404.6 338.5v4.5M1464.6 338.5v4.5M1399.5 338.5v4.5M1468.9 338.5v4.5M1395.3 338.5v4.5M1472.5 338.5v4.5M1391.9 338.5v4.5M1475.6 338.5v4.5M1388.9 338.5v4.5M1478.3 338.5v4.5M1386.3 338.5v4.5M1480.7 338.5v4.5M1384.1 338.5v4.5" stroke="#000" stroke-width="1.3" fill="none"/><rect x="1357" y="267" width="7" height="6" fill="#000"/><rect x="1428" y="339" width="7" height="6" fill="#000"/><text x="1352.8" y="68.1" font-size="19.5" text-anchor="end">10<tspan dy="-8.2" font-size="18.5">5</tspan></text><text x="1646.7" y="371" font-size="19.5" text-anchor="middle">10<tspan dy="-8.2" font-size="18.5">5</tspan></text><text x="1352.8" y="140.8" font-size="19.5" text-anchor="end">10<tspan dy="-8.2" font-size="18.5">4</tspan></text><text x="1573.1" y="371" font-size="19.5" text-anchor="middle">10<tspan dy="-8.2" font-size="18.5">4</tspan></text><text x="1352.8" y="223.9" font-size="19.5" text-anchor="end">10<tspan dy="-8.2" font-size="18.5">3</tspan></text><text x="1490.3" y="371" font-size="19.5" text-anchor="middle">10<tspan dy="-8.2" font-size="18.5">3</tspan></text><text x="1352.8" y="324.7" font-size="19.5" text-anchor="end">-10<tspan dy="-8.2" font-size="18.5">3</tspan></text><text x="1388.5" y="371" font-size="19.5" text-anchor="middle">-10<tspan dy="-8.2" font-size="18.5">3</tspan></text><text x="1337.8" y="274" font-size="19.5" text-anchor="end">0</text><text x="1431.8" y="371" font-size="19.5" text-anchor="middle">0</text><rect x="1482.4" y="248.9" width="91.8" height="59.2" fill="none" stroke="#000" stroke-width="2"/><text x="1523.7" y="213.8" font-size="19.6" text-anchor="middle">T cells</text><text x="1525" y="233.2" font-size="19.6" text-anchor="middle">37.4</text><text x="1364" y="21" font-size="28">Gated on single cells 2</text><path d="M1305 328L1305 374.5L1350 374.5" stroke="#231f20" stroke-width="2" fill="none"/><path d="M1305 316.5l-9.2 17.5l9.2 -4.5l9.2 4.5z" fill="#231f20"/><path d="M1360.8 374.5l-17.5 -9.2l4.5 9.2l-4.5 9.2z" fill="#231f20"/><text font-size="20.1" transform="translate(1290 379) rotate(-90)">LIVE/DEAD</text><text x="1296.5" y="399.5" font-size="20.1">T cells</text><text x="1298" y="424" font-size="19.7">(CD8)</text><path d="M1683 190.3L1728 190.3" stroke="#231f20" stroke-width="2"/><path d="M1738 190.3l-17.5 -9.2l4.5 9.2l-4.5 9.2z" fill="#231f20"/><path d="M1907 84l-1 6l-2 3l-8 6l-4 8l-6 5l-1 8l-8 12l-1 5l-3 4l-1 10l-5 4l0 4l-2 6l0 3l2 3l-2 3l-4 2l0 3l2 2l0 3l1 1l-1 7l7 7l0 2l-3 4l-5 0l-4 4l-10 3l0 50l6 2l7 0l1-1l15 1l1 1l0 10l99 0l0-7l1-1l3 0l0-14l3-2l1-3l-1-7l4-8l0-5l2-7l0-7l1-1l0-8l1-1l1-24l2-5l1-11l1-1l0-23l-1-1l1-3l0-8l-2-3l0-4l-3-8l-1-14l-1-1l-1-7l-4-7zM1957 251l0 3l-5 7l-3 0l-5 2l-5 0l-1-1l-21 0l-1-1l-14-2l-3-2l14-6l9-2l4-2l3 0l13-7l9 2zM1956 111l15 5l12 14l2 18l-1 1l-3 22l-8 23l-4 8l-2 2l-6 12l-13 11l-4 1l-1-1l-7-1l-11-12l-14-18l0-2l-8-17l-1-12l-1-1l0-10l1-1l2-10l15-17l15-9l21-5z" fill="url(#pk0)" fill-rule="evenodd"/><path d="M1984 100l-2-1l-5 0l-4-3l-5 1l-4-3l-1-3l-7 0l-3-2l-2 0l-7 4l-7-1l-4 3l-7 3l-5 4l-4 1l-5 6l-3 1l-4 4l-6 9l-8 7l-4 8l0 8l-3 4l0 5l-3 10l2 6l0 12l5 8l0 8l6 5l0 3l-2 3l0 4l-5 3l-16-2l-12 5l-5-3l-5 0l-1 1l0 39l10 0l1 1l15-1l4 2l0 13l8 0l1 1l44 0l1 1l3-1l42 0l0-14l1-1l3 0l0-37l3-4l0-3l2-5l1-22l1-1l1-10l2-5l0-13l-1-3l2-6l0-6l-1-1l1-13l-5-15zM1957 251l0 3l-5 7l-3 0l-5 2l-5 0l-1-1l-21 0l-1-1l-14-2l-3-2l14-6l9-2l4-2l3 0l13-7l9 2zM1956 111l15 5l12 14l2 18l-1 1l-3 22l-8 23l-4 8l-2 2l-6 12l-13 11l-4 1l-1-1l-7-1l-11-12l-14-18l0-2l-8-17l-1-12l-1-1l0-10l1-1l2-10l15-17l15-9l21-5z" fill="url(#pk1)" fill-rule="evenodd"/><path d="M1982 107l-4-2l-3 0l-3-2l-6-1l-8-4l-4 0l-3 2l-5 0l-1 1l-9 0l-6 3l-5 5l-9 3l-9 8l-3 6l-7 6l-4 7l0 9l-4 9l0 4l1 1l-1 1l1 20l1 2l4 3l1 5l9 16l1 3l-1 4l-4 3l-4 0l-1 1l-7 0l-1 1l-19-1l-9 4l-3 0l-4-2l-5 0l0 32l6 0l1-1l3 1l14 0l1-1l1 1l3-1l1 1l0 16l12 0l1 1l40 0l1 1l3-1l12 0l1-1l5 0l1 1l23 0l0-16l1-1l3 0l0-38l-1-1l0-5l4-7l0-3l1-1l-1-10l3-9l0-5l2-7l-1-16l1-1l0-13l1-1l-1-10l-2-3l-1-8zM1957 251l0 3l-5 7l-3 0l-5 2l-5 0l-1-1l-21 0l-1-1l-14-2l-3-2l14-6l9-2l4-2l3 0l13-7l9 2zM1956 111l15 5l12 14l2 18l-1 1l-3 22l-8 23l-4 8l-2 2l-6 12l-13 11l-4 1l-1-1l-7-1l-11-12l-14-18l0-2l-8-17l-1-12l-1-1l0-10l1-1l2-10l15-17l15-9l21-5z" fill="url(#pk2)" fill-rule="evenodd"/><path d="M1977 261l-8-3l-13 1l-12 4l-5 0l-1-1l-21 0l-1-1l-4 0l-6-2l-1 1l-11-1l-1 1l-6 0l-1 1l-8-1l0 8l51 1l1 1l15-1l1-1l29 1l2-1zM1979 110l-2-1l-6 0l-13-6l-10 1l-12 5l-4 0l-5 4l-7 1l-10 8l-6 10l-7 7l-1 10l-3 8l1 2l-1 13l2 3l0 3l5 5l0 7l7 15l4 4l1 7l-4 6l-5 2l-13-1l-3 2l-8 0l-2 2l-5-3l-6 0l-5 3l-13-1l0 24l11 0l1 1l11 0l1-1l5 0l1 1l9 0l1-1l11 1l2-1l1 1l9 0l3-2l8 0l4-2l3 0l13-7l9 2l4 7l3 3l16 0l4-2l3 0l0-27l-1 0l-5-6l-1-9l8-10l-1-7l3-6l2-16l1-1l-1-15l1-1l0-8l1-1l0-13l-4-8l0-6zM1956 111l15 5l12 14l2 18l-1 1l-3 22l-8 23l-4 8l-2 2l-6 12l-13 11l-4 1l-1-1l-7-1l-11-12l-14-18l0-2l-8-17l-1-12l-1-1l0-10l1-1l2-10l15-17l15-9l21-5z" fill="url(#pk3)" fill-rule="evenodd"/><path d="M1920 264l2 3l20 0l3-2l-1-2l-11 0l-1-1l-9 0zM1974 263l-7-2l-1 1l-10 2l0 1l3 0l1 1l4 0l1-1l2 1l6 0zM1917 264l-4-3l-3 0l-6 3l-3 0l-1-1l-5 0l-1 1l-6-1l-1 1l-9 0l0 1l13 0l1-1l4 0l9 3l5-2l7 0zM1977 113l-6-1l-5-3l-6-1l-3-2l-8 1l-11 5l-5 0l-5 4l-6 1l-8 5l-4 5l-1 3l-10 12l0 6l-3 8l0 16l2 5l4 5l0 4l2 5l2 2l1 6l6 7l2 5l11 10l0 4l-4 2l-8-3l-3 2l-7 2l-4 0l-4-2l-3 0l-5 4l-7 0l-6 4l-3-2l-3-5l-2 0l-5 3l-13-1l-1 1l0 16l1-1l0-3l2-2l3 1l8 7l21 0l5-3l2 0l3 2l15 0l3-3l3 0l11 4l1-1l3 0l13-7l9 2l4 6l20 0l6-2l0-17l-5-5l-8 1l-2-3l1-3l4-5l1-10l6-8l0-4l2-4l0-3l4-6l0-6l1-1l0-23l1-1l1-14l-3-10zM1956 111l15 5l12 14l2 18l-1 1l-3 22l-8 23l-4 8l-2 2l-6 12l-13 11l-4 1l-1-1l-7-1l-11-12l-14-18l0-2l-8-17l-1-12l-1-1l0-10l1-1l2-10l15-17l15-9l21-5z" fill="url(#pk4)" fill-rule="evenodd"/><path d="M1894 240l0 3l2 0zM1868 240l0 1l4 3l4 1l0-3l-2-3l-4-1zM1849 234l5 3l5 5l2 1l3-1l0-4l-2-4l-6-2l-5 0zM1895 230l-1 3l1 2l2 0l1-2l-1-2zM1974 115l-2 0l-7-4l-9-3l-18 6l-4 0l-5 4l-5 1l-10 6l-3 6l-10 11l0 6l-3 8l0 6l1 1l0 6l-1 2l1 1l0 3l4 5l1 5l4 6l1 7l3 3l4 7l10 9l5 7l0 2l-8 7l-4 0l-4-3l-4 0l-2 2l-5 2l-2 2l2 5l2-1l1-3l4-4l5 0l1 1l0 3l-1 1l1 3l3-1l1-4l3-3l5 0l3 3l1 4l4 2l7-2l11 4l5 0l4-3l-1-4l1-2l3-2l6 0l1 1l0 5l-1 1l0 3l1 1l2 0l5-4l0-7l-5 0l-4-3l-9 0l-4-4l0-4l8-7l2-4l1-8l6-9l2-10l3-5l2-10l1-1l0-19l-3 22l-8 23l-12 22l-15 12l-10-2l-11-12l-14-18l0-2l-8-17l-1-12l-1-1l0-10l1-1l2-10l15-17l15-9l21-5l1-1l15 5l12 14l0 3l1 1l0 11l1 1l0-17z" fill="url(#pk5)" fill-rule="evenodd"/><path d="M1969 201l-8 15l-5 4l-3 4l2-1l4-5l2 0l4-4l3-7zM1909 190l3 9l7 10l5 3l3 5l10 11l4 1l3 3l0 4l1 1l3 0l2-3l-1-6l-1-1l-4 1l-1-1l-7-1l-25-30zM1981 171l-8 23l-3 5l5-7l0-4l4-9l0-3zM1983 157l-1 9l-1 1l1 0l0-3l1-1zM1975 120l8 10l0 3l1 1l0 10l0-14zM1970 116l-7-4l-6-2l-4 0l-8 4l-4 0l-7 2l-7 5l-2 0l-8 4l-3 3l-1 3l-10 11l0 5l-3 8l0 7l1 1l-1 10l1 3l3 3l-2-7l0-7l-1-1l0-10l1-1l2-10l15-17l15-9l21-5l1-1z" fill="url(#pk6)" fill-rule="evenodd"/><path d="M1967 204l-3 7l-3 4l3-3l3-6zM1902 169l0 6l1 0zM1923 124l-5 2l-4 5l5-5z" fill="url(#pk7)" fill-rule="evenodd"/><path d="M1956.4 112.3C1962.5 112.3 1967.8 114.6 1972.3 117.8C1976.7 120.9 1981.2 126.1 1983.2 131.2C1985.3 136.2 1985.1 141.5 1984.7 148.2C1984.3 154.9 1982.9 163.4 1980.8 171.4C1978.7 179.3 1975.7 188 1972.3 195.7C1968.8 203.4 1964.4 212.3 1960.1 217.7C1955.8 223 1950.5 226.6 1946.7 228C1942.8 229.4 1940.4 228.5 1936.9 226.2C1933.5 223.8 1930 218.9 1926 214C1921.9 209.1 1916.2 203 1912.6 196.9C1908.9 190.9 1905.9 184 1904.1 177.5C1902.2 171 1901.4 163.6 1901.6 158C1901.8 152.3 1902.6 148.2 1905.3 143.3C1907.9 138.5 1912.4 133 1917.5 128.7C1922.5 124.5 1929.2 120.5 1935.7 117.8C1942.2 115 1950.3 112.3 1956.4 112.3Z" fill="#fff" stroke="#000" stroke-width="1.7"/><path d="M1955.9 117.8C1961.2 117.8 1965.8 119.9 1969.7 122.6C1973.5 125.3 1977.4 129.8 1979.2 134.3C1981 138.7 1980.8 143.3 1980.5 149.1C1980.1 154.9 1978.9 162.3 1977.1 169.2C1975.3 176.1 1972.7 183.7 1969.7 190.4C1966.7 197.1 1962.8 204.8 1959.1 209.5C1955.4 214.2 1950.8 217.3 1947.4 218.5C1944 219.7 1941.9 218.9 1938.9 216.9C1935.9 214.9 1932.9 210.6 1929.4 206.3C1925.9 202.1 1920.9 196.8 1917.7 191.5C1914.5 186.2 1911.9 180.2 1910.3 174.5C1908.7 168.9 1908 162.5 1908.2 157.6C1908.4 152.6 1909.1 149.1 1911.4 144.8C1913.7 140.6 1917.6 135.8 1922 132.1C1926.4 128.4 1932.2 125 1937.9 122.6C1943.5 120.2 1950.6 117.8 1955.9 117.8Z" fill="none" stroke="#000" stroke-width="1.7"/><path d="M1955.4 122.9C1959.9 122.9 1963.9 124.7 1967.2 127.1C1970.6 129.4 1973.9 133.3 1975.5 137.1C1977 140.9 1976.9 144.9 1976.6 149.9C1976.3 154.9 1975.2 161.3 1973.6 167.3C1972.1 173.2 1969.8 179.7 1967.2 185.5C1964.7 191.3 1961.3 197.9 1958.1 202C1954.9 206 1951 208.7 1948.1 209.7C1945.2 210.8 1943.3 210.1 1940.8 208.4C1938.2 206.6 1935.6 202.9 1932.5 199.2C1929.5 195.6 1925.2 191 1922.5 186.4C1919.7 181.9 1917.5 176.7 1916.1 171.8C1914.7 166.9 1914.1 161.5 1914.3 157.2C1914.4 152.9 1915 149.9 1917 146.2C1919 142.6 1922.3 138.5 1926.1 135.3C1929.9 132.1 1935 129.1 1939.8 127.1C1944.7 125 1950.8 122.9 1955.4 122.9Z" fill="none" stroke="#000" stroke-width="1.7"/><path d="M1954.9 127.6C1958.8 127.6 1962.2 129.1 1965 131.1C1967.9 133.2 1970.7 136.5 1972.1 139.7C1973.4 143 1973.2 146.3 1973 150.6C1972.7 154.9 1971.8 160.4 1970.5 165.4C1969.2 170.5 1967.2 176.1 1965 181C1962.8 186 1960 191.6 1957.2 195.1C1954.5 198.5 1951.1 200.8 1948.7 201.7C1946.2 202.6 1944.6 202 1942.4 200.5C1940.2 199 1938 195.8 1935.4 192.7C1932.8 189.6 1929.2 185.7 1926.8 181.8C1924.5 177.9 1922.5 173.5 1921.4 169.3C1920.2 165.2 1919.7 160.5 1919.8 156.9C1919.9 153.2 1920.5 150.6 1922.2 147.5C1923.8 144.4 1926.7 140.9 1930 138.2C1933.2 135.4 1937.5 132.9 1941.6 131.1C1945.8 129.4 1951 127.6 1954.9 127.6Z" fill="none" stroke="#000" stroke-width="1.7"/><path d="M1954.5 131.9C1957.8 131.9 1960.6 133.2 1963 134.9C1965.4 136.6 1967.8 139.3 1968.9 142.1C1970.1 144.8 1970 147.7 1969.7 151.3C1969.5 154.9 1968.7 159.5 1967.6 163.8C1966.5 168.1 1964.9 172.8 1963 177C1961.2 181.1 1958.8 185.9 1956.4 188.8C1954.1 191.7 1951.3 193.6 1949.2 194.4C1947.1 195.2 1945.8 194.7 1943.9 193.4C1942.1 192.1 1940.2 189.5 1938 186.8C1935.8 184.2 1932.8 180.9 1930.8 177.6C1928.8 174.3 1927.2 170.6 1926.2 167.1C1925.2 163.6 1924.8 159.6 1924.9 156.6C1925 153.5 1925.4 151.3 1926.8 148.7C1928.3 146 1930.7 143.1 1933.4 140.8C1936.2 138.5 1939.8 136.3 1943.3 134.9C1946.8 133.4 1951.2 131.9 1954.5 131.9Z" fill="none" stroke="#000" stroke-width="1.7"/><path d="M1954.1 135.7C1956.8 135.7 1959.2 136.8 1961.2 138.2C1963.2 139.6 1965.2 141.9 1966.2 144.2C1967.1 146.5 1967 148.9 1966.8 151.9C1966.6 154.9 1966 158.8 1965.1 162.3C1964.1 165.9 1962.8 169.8 1961.2 173.3C1959.7 176.8 1957.7 180.7 1955.7 183.1C1953.8 185.6 1951.4 187.2 1949.7 187.8C1948 188.4 1946.9 188 1945.3 187C1943.8 185.9 1942.2 183.7 1940.4 181.5C1938.6 179.3 1936 176.6 1934.4 173.8C1932.7 171.1 1931.3 168 1930.5 165.1C1929.7 162.1 1929.3 158.8 1929.4 156.3C1929.5 153.7 1929.9 151.9 1931.1 149.7C1932.3 147.5 1934.3 145.1 1936.5 143.1C1938.8 141.2 1941.8 139.4 1944.8 138.2C1947.7 137 1951.3 135.7 1954.1 135.7Z" fill="none" stroke="#000" stroke-width="1.7"/><path d="M1953.7 139.6C1955.9 139.6 1957.8 140.4 1959.4 141.5C1961 142.7 1962.6 144.5 1963.4 146.4C1964.1 148.2 1964 150.1 1963.9 152.5C1963.7 154.9 1963.2 158 1962.5 160.8C1961.7 163.7 1960.7 166.8 1959.4 169.6C1958.2 172.4 1956.6 175.6 1955 177.5C1953.5 179.4 1951.6 180.7 1950.2 181.2C1948.8 181.7 1947.9 181.4 1946.7 180.6C1945.4 179.7 1944.2 177.9 1942.7 176.2C1941.3 174.4 1939.2 172.2 1937.9 170C1936.6 167.9 1935.5 165.4 1934.8 163C1934.2 160.7 1933.9 158.1 1934 156C1934 154 1934.3 152.5 1935.3 150.8C1936.2 149 1937.8 147 1939.7 145.5C1941.5 144 1943.9 142.5 1946.3 141.5C1948.6 140.6 1951.5 139.6 1953.7 139.6Z" fill="none" stroke="#000" stroke-width="1.7"/><path d="M1953.3 143.4C1955 143.4 1956.4 144 1957.6 144.9C1958.8 145.7 1960 147.1 1960.6 148.5C1961.1 149.9 1961.1 151.3 1961 153.1C1960.8 154.9 1960.5 157.2 1959.9 159.4C1959.3 161.5 1958.5 163.9 1957.6 165.9C1956.7 168 1955.5 170.4 1954.3 171.9C1953.2 173.3 1951.7 174.3 1950.7 174.7C1949.7 175 1949 174.8 1948.1 174.2C1947.1 173.5 1946.2 172.2 1945.1 170.9C1944 169.6 1942.5 167.9 1941.5 166.3C1940.5 164.6 1939.7 162.8 1939.2 161C1938.7 159.2 1938.5 157.3 1938.5 155.7C1938.6 154.2 1938.8 153.1 1939.5 151.8C1940.2 150.5 1941.4 149 1942.8 147.8C1944.2 146.7 1946 145.6 1947.7 144.9C1949.5 144.1 1951.7 143.4 1953.3 143.4Z" fill="none" stroke="#000" stroke-width="1.7"/><path d="M1961.7 151.9C1961.7 154.1 1961 156.8 1959.9 158.7C1958.8 160.5 1956.9 162.2 1955.1 162.9C1953.3 163.6 1951 163.6 1949.2 162.9C1947.5 162.2 1945.6 160.5 1944.5 158.7C1943.4 156.8 1942.7 154.1 1942.7 151.9C1942.7 149.6 1943.4 146.9 1944.5 145.1C1945.6 143.2 1947.5 141.6 1949.2 140.9C1951 140.2 1953.3 140.2 1955.1 140.9C1956.9 141.6 1958.8 143.2 1959.9 145.1C1961 146.9 1961.7 149.6 1961.7 151.9Z" fill="none" stroke="#000" stroke-width="1.7"/><path d="M1864.7 261.5C1864.7 263.6 1864.1 266.1 1863 267.9C1862 269.7 1860.3 271.5 1858.5 272.6C1856.7 273.7 1854.4 274.3 1852.3 274.3C1850.2 274.3 1847.9 273.7 1846.1 272.6C1844.3 271.5 1842.6 269.7 1841.5 267.9C1840.5 266.1 1839.9 263.6 1839.9 261.5C1839.9 259.4 1840.5 257 1841.5 255.1C1842.6 253.3 1844.3 251.5 1846.1 250.4C1847.9 249.4 1850.2 248.7 1852.3 248.7C1854.4 248.7 1856.7 249.4 1858.5 250.4C1860.3 251.5 1862 253.3 1863 255.1C1864.1 257 1864.7 259.4 1864.7 261.5Z" fill="#fff" stroke="#000" stroke-width="1.9"/><path d="M1859.5 261.8C1859.5 263.2 1858.9 265 1858 266.2C1857.2 267.4 1855.7 268.5 1854.3 268.9C1852.8 269.4 1851 269.4 1849.6 268.9C1848.2 268.5 1846.7 267.4 1845.8 266.2C1844.9 265 1844.4 263.2 1844.4 261.8C1844.4 260.3 1844.9 258.5 1845.8 257.3C1846.7 256.1 1848.2 255 1849.6 254.6C1851 254.1 1852.8 254.1 1854.3 254.6C1855.7 255 1857.2 256.1 1858 257.3C1858.9 258.5 1859.5 260.3 1859.5 261.8Z" fill="none" stroke="#000" stroke-width="2.2"/><path d="M1863.2 249.9C1865.4 250.4 1871.9 252.1 1876 253C1880.2 253.9 1884.4 254.6 1888.2 255.4C1892.1 256.3 1894.3 257.1 1899.2 258.1C1904.1 259.1 1909.9 260.7 1917.5 261.5C1925 262.3 1938.2 262.9 1944.3 262.7C1950.3 262.5 1951.8 261.9 1954 260.3C1956.2 258.7 1958.1 255.8 1957.7 253C1957.2 250.1 1954 245.3 1951.6 243.2C1949.1 241.2 1946.7 240.1 1943 240.8C1939.4 241.5 1934.3 245.7 1929.6 247.5C1925 249.3 1920.1 250 1915 251.8C1909.9 253.5 1904.5 255.8 1899.2 258.1C1893.9 260.4 1888.4 263.8 1883.3 265.8C1878.3 267.8 1872.3 268.8 1868.7 270C1865.2 271.3 1863.1 272.6 1862 273.1" fill="none" stroke="#000" stroke-width="1.6"/><rect x="1779.3" y="32.3" width="306.7" height="306" fill="none" stroke="#000" stroke-width="1.2"/><path d="M1779.3 318.6h-9M1779.3 269h-9M1779.3 217.6h-9M1779.3 134.8h-9M1779.3 61.2h-9M1779.3 192.7h-4.5M1779.3 178.1h-4.5M1779.3 167.7h-4.5M1779.3 159.7h-4.5M1779.3 153.2h-4.5M1779.3 147.6h-4.5M1779.3 142.8h-4.5M1779.3 138.6h-4.5M1779.3 112.6h-4.5M1779.3 99.7h-4.5M1779.3 90.5h-4.5M1779.3 83.4h-4.5M1779.3 77.5h-4.5M1779.3 72.6h-4.5M1779.3 68.3h-4.5M1779.3 64.6h-4.5M1779.3 41.1h-4.5M1779.3 257.3h-4.5M1779.3 280.3h-4.5M1779.3 248h-4.5M1779.3 289.2h-4.5M1779.3 241.1h-4.5M1779.3 295.9h-4.5M1779.3 235.8h-4.5M1779.3 301h-4.5M1779.3 231.5h-4.5M1779.3 305.2h-4.5M1779.3 227.9h-4.5M1779.3 308.7h-4.5M1779.3 224.8h-4.5M1779.3 311.6h-4.5M1779.3 222.1h-4.5M1779.3 314.2h-4.5M1779.3 219.7h-4.5M1779.3 316.5h-4.5" stroke="#000" stroke-width="1.3" fill="none"/><path d="M1798.1 338.3v9M1848.1 338.3v9M1898.9 338.3v9M1982.3 338.3v9M2055.8 338.3v9M1924 338.3v4.5M1938.7 338.3v4.5M1949.1 338.3v4.5M1957.2 338.3v4.5M1963.8 338.3v4.5M1969.4 338.3v4.5M1974.2 338.3v4.5M1978.5 338.3v4.5M2004.4 338.3v4.5M2017.4 338.3v4.5M2026.6 338.3v4.5M2033.7 338.3v4.5M2039.5 338.3v4.5M2044.4 338.3v4.5M2048.7 338.3v4.5M2052.4 338.3v4.5M2075.9 338.3v4.5M1859.7 338.3v4.5M1836.7 338.3v4.5M1868.8 338.3v4.5M1827.7 338.3v4.5M1875.6 338.3v4.5M1821 338.3v4.5M1880.9 338.3v4.5M1815.8 338.3v4.5M1885.2 338.3v4.5M1811.6 338.3v4.5M1888.7 338.3v4.5M1808.1 338.3v4.5M1891.8 338.3v4.5M1805.1 338.3v4.5M1894.4 338.3v4.5M1802.5 338.3v4.5M1896.8 338.3v4.5M1800.2 338.3v4.5" stroke="#000" stroke-width="1.3" fill="none"/><rect x="1773" y="266" width="6" height="6" fill="#000"/><rect x="1845" y="339" width="7" height="6" fill="#000"/><text x="1768.3" y="67.4" font-size="19.5" text-anchor="end">10<tspan dy="-8.2" font-size="18.5">5</tspan></text><text x="2063.3" y="370.8" font-size="19.5" text-anchor="middle">10<tspan dy="-8.2" font-size="18.5">5</tspan></text><text x="1768.3" y="141" font-size="19.5" text-anchor="end">10<tspan dy="-8.2" font-size="18.5">4</tspan></text><text x="1989.8" y="370.8" font-size="19.5" text-anchor="middle">10<tspan dy="-8.2" font-size="18.5">4</tspan></text><text x="1768.3" y="223.8" font-size="19.5" text-anchor="end">10<tspan dy="-8.2" font-size="18.5">3</tspan></text><text x="1906.4" y="370.8" font-size="19.5" text-anchor="middle">10<tspan dy="-8.2" font-size="18.5">3</tspan></text><text x="1768.3" y="324.8" font-size="19.5" text-anchor="end">-10<tspan dy="-8.2" font-size="18.5">3</tspan></text><text x="1804.6" y="370.8" font-size="19.5" text-anchor="middle">-10<tspan dy="-8.2" font-size="18.5">3</tspan></text><text x="1753.3" y="273" font-size="19.5" text-anchor="end">0</text><text x="1848.6" y="370.8" font-size="19.5" text-anchor="middle">0</text><rect x="1779.3" y="32.3" width="306.7" height="198.9" fill="none" stroke="#000" stroke-width="2.6"/><text x="2043.2" y="195" font-size="19.6" text-anchor="middle">CD39+</text><text x="2042.5" y="216.2" font-size="19.6" text-anchor="middle">84.0</text><text x="1778.5" y="19.5" font-size="28">Gated on T cells</text><path d="M1719.5 333L1719.5 379L1764 379" stroke="#231f20" stroke-width="2" fill="none"/><path d="M1719.5 321.5l-9.2 17.5l9.2 -4.5l9.2 4.5z" fill="#231f20"/><path d="M1774.8 379l-17.5 -9.2l4.5 9.2l-4.5 9.2z" fill="#231f20"/><text font-size="20.1" transform="translate(1704 376) rotate(-90)">CD39</text><text x="1721" y="403" font-size="20.1">PD1</text></g>
<g id="panel-b"><defs><g id="gA"><path d="M142 489l0 304l134 0l1-1l8 0l5-7l11-6l10-10l0-2l6-5l9-10l2-7l4-3l8-9l13-9l5-5l5-2l7-7l5-2l15-12l5-2l5-5l11-6l12-11l7-3l16-14l0-166z" fill="url(#pg0)" fill-rule="evenodd"/><path d="M192 489l1 3l3-1l0-2zM142 489l0 304l115 0l3-2l2 0l19-12l4-5l6-2l17-18l4-2l17-18l3-5l10-5l14-11l8-4l14-11l5-2l6-6l7-5l9-5l5-6l4-2l5-5l10-5l17-16l0-143l-2-2l2-2l0-10l-4 0l-3 6l0 2l-3 3l-2 0l-4 3l-9-1l-5-4l-3 0l-5 3l-3 0l-1 1l-6-2l-3 4l-3 1l-4 4l-3 0l-2-2l0-4l-1-1l-8 8l-3 0l-2-2l-4 0l-1 1l-12 0l-6 4l-2 3l0 2l-4 3l-2 0l-8-5l-5 6l-5-1l-3-2l-6 1l-5 3l-2 0l-4-3l-4 0l1 4l-2 2l-5 2l-6 0l-2-1l-2-3l-9-3l-3 1l-12 11l-4-3l0-3l3-4l0-2l-3-4l0-3l2-5l-3-9l0-3l4-8l-22 0l-2 7l3 4l1 4l-4 4l0 7l-2 3l0 2l3 3l2 5l-5 6l1 6l-4 3l0 4l-3 3l-9 2l-4 2l-4-5l-6 1l-2-3l0-4l2-2l3 0l3 2l3-5l4 4l3 1l2-2l0-2l5-3l0-2l-4-2l-5 0l-4 3l-2 0l-3-4l1-3l-1-1l-3 3l-6 1l-3 2l-7-2l-4-3l0-3l1-1l-1-7l3-4l6-2l4 4l4-1l1-4l-2-2l-7 1l-4-3l-4 0l-3-2l0-3l5-2l0-3l-3-3l0-4zM174 510l1 0l4 5l0 3l-3 3l-2 0l-2-2l0-7z" fill="url(#pg1)" fill-rule="evenodd"/><path d="M142 581l0 9l1-3l0-5zM273 556l1 3l3-1l-1-2zM326 539l1 2l4 0l0-2l-2-1zM446 536l-2 0l-2 3l-3 1l-3-3l2-4l0-5l-1-1l-3 0l-7 4l-2 0l-5-4l-5 0l-8 6l-10-1l-2-2l-3 2l-7-1l-5 3l-5 0l-1 1l-3 0l-6-3l-6 0l-2 4l-3 2l-6 0l-2 2l-8 0l-9 10l-8 2l-5-7l-3 0l-5 4l0 6l-1 1l-4-3l-1-4l-1 0l-16 15l-4 1l-4 3l-3 0l-6-3l-5 5l-10 0l-1-1l1-8l-5-4l0-3l2-3l0-2l-1-1l0-11l-2-6l0-10l-4-6l0-2l3-5l0-19l-6 0l-1 13l2 6l-4 7l0 5l4 5l0 2l-3 6l-1 12l-2 3l0 4l-1 1l1 2l0 8l2 2l0 3l-3 4l4 0l1 1l-1 2l3 4l-2 2l-7 0l-3 3l-2 7l-5-4l-4 0l-2 2l-1 6l-3 2l-4-2l-5 0l-4 4l-2 0l-2-3l-5 6l-8 0l-4 3l-9 4l-2 3l-4 2l-5-4l-6 2l-1-1l0-5l-3-5l1-1l0-4l-2-1l-4 1l-1-1l0 198l103 0l4-3l8-2l11-6l7-6l4-2l10-10l6-4l8-8l6-4l11-10l10-12l3-1l7-6l10-5l7-6l12-7l7-7l7-3l14-12l5-2l4-5l7-6l8-4l11-9l3-5l4-4l4-2l3-4zM241 573l1-1l4 0l1 1l-1 1l-4 0zM162 489l-20 0l0 86l2-6l16 0l4-3l0-3l1-1l0-3l-4-5l1-8l-2-3l0-11l-2-3l0-5l3-5l-1-6l3-4l0-5l-4-5l0-6z" fill="url(#pg2)" fill-rule="evenodd"/><path d="M434 584l1 2l5 0l5-4l-4 0l-3-3l-2 0l-2 2zM244 572l-1-2l-3 2zM245 563l-2 0l0 5l3-2zM429 579l-1-1l-3 0l-4 5l-5 1l-3-3l-8 0l-2-2l3-4l4 2l3-1l0-5l-3-5l-11 0l-4-3l-3 0l-1 1l-3 0l-3 4l-4 0l-2-2l0-4l-2-2l-12 0l-5-2l-1 1l-8 0l-1 1l0 6l-3 3l-3 0l-4-4l-5 0l-2 1l-5 10l0 2l-3 2l-3-3l1-7l-1-2l-2-1l0 2l-3 3l-5 0l1 5l-4 3l-9 0l-2 2l0 3l2 2l-2 3l-14-5l-4-4l-2 1l-4 9l-7 2l-4 4l-4 0l-4 2l3 4l-1 5l-2 2l-4 0l-2-2l-4-1l-3-5l-3-1l-3 5l-6 5l-3 0l-3-4l-2 0l-7 7l-10 1l-6 4l-8 1l-5-5l-2 0l-3 3l-4 1l-5 6l-5 0l-4-3l-3 1l-3 5l-6 2l-6-1l-3-2l0 166l97 0l8-6l11-4l5-4l8-4l4-5l4-1l12-12l2 0l3-2l22-23l10-8l3-1l7-8l3 0l6-3l6-6l3-1l13-9l5-6l7-2l18-16l4-2l5-7l5-4l-1-5l9-8l5-3l0-2l-3-2l-5-6l3-2l2 2l4 1l2-1l0-5l-1-2l-5 1l-2-2l-2-9l5-4l3 0l1 1l4-1l3-4l4-3l0-4l-4-10l-2-2l-5 3l-3-2l0-3l4-3zM402 619l1-1l4 0l1 1l0 3l-3 3l-3-3zM400 601l0-4l4-3l5 1l3 3l-1 2l-6 3l-3 0zM393 595l1-1l1 2l-1 1zM372 568l2-2l3 1l-1 3l-2 0zM398 557l-6-3l-7 5l0 2l2 1l3-3l8 0zM142 489l0 80l8 0l2-3l0-8l-1-1l0-6l1-1l-1-18l2-5l0-7l-4-9l0-5l1-1l0-5l-1-1l1-2l3-2l0-4l-1-2z" fill="url(#pg3)" fill-rule="evenodd"/><path d="M388 606l-3 0l-5 4l-4 2l0 5l-1 1l-3 0l-4-5l-2 1l-5 0l-1-1l0-3l4-6l0-4l-2 0l-5 6l-3 1l-1-1l-4 0l-1-1l0-5l-3 0l-3-3l-5 1l-3-2l-2 0l-6 5l-2 0l-3-4l-2 0l-4 2l-3-1l-1 1l2 6l-1 2l-3 2l-2-1l-4-5l-3-1l-1 1l-1 7l-2 2l-7-6l-2 0l-3 4l-8 0l-4-2l0 2l5 4l6 0l2 3l-7 8l-3-3l0-2l-4-3l-13-1l-6 7l-2 0l-3-3l-4-1l-4 4l-3 0l-2-2l-6 0l-1 1l-3 0l-3 3l-3 1l-7 0l-4-2l-6 2l-2-2l-2 0l-1 1l1 6l-2 2l-13 1l-2-2l-4 0l-2 2l-13 0l-7 3l0 2l2 2l-2 2l-9 0l-3-2l0 6l2 0l3 3l0 3l-1 1l-4 0l0 139l85 0l4-3l7 0l6-5l6-2l9-5l19-16l5-1l4-5l5-2l22-23l7-6l7-4l3-3l0-4l2-3l4-1l5-3l5-7l4-2l3 0l3-3l1 1l3-1l8-7l3-5l7 1l3-6l0-4l-1-1l0-4l1-1l4 0l1 1l3 0l2-3l-2-4l-4-4l-7 1l-2-2l3-4l2 0l4 3l2-2l0-5l-1-1l0-3l1-1l-1-8l1-1l2 0l2 2l3 6l0 5l5 4l-1-10l3-5l0-2l-2-4l-6 1l-4-2l4-4l-1-3l-6 1l-2-2l0-5l2-2l2-6zM381 628l2-2l3 0l4 4l-2 2l-3 0l-2-1zM225 626l1-1l1 2l-1 1zM340 611l1-1l3 0l2 3l-1 1l-3 0zM378 592l-3 0l-1 1l0 5l-2 2l0 2l3 0l1-1zM356 587l6 7l4 1l0-4l-3-5l-4-1zM142 489l0 80l4 0l0-8l-3-4l-1-10l5-11l1-14l-4-4l1-3l0-9l1-1l0-5l-1-1l1-10z" fill="url(#pg4)" fill-rule="evenodd"/><path d="M147 670l-5 1l0 10l1 0l2-3l0-3l2-3zM363 631l-2-1l-3 2l0 3l1 1l-1 6l-1 1l-5 0l-2-1l-2-3l0-7l-1-1l-5 0l-3-6l-2 0l-3 3l0 4l-4 3l-2-2l1-11l-4 0l-2 4l-4 3l-4 0l-3-2l-2 0l-1 1l1 6l-2 2l-4 0l-3-4l-7 0l-1 1l-4-2l-3 1l-11-1l-6-5l-7-3l-4 3l-1 2l0 5l-2 2l-5-5l-3-1l-1 1l1 6l-2 2l-5 0l-5 2l-3-3l2-5l0-2l-2-1l-8 5l-7-1l-1 2l2 4l-1 1l-2 0l-6-5l-3 0l-6 2l-2 5l-4 4l-2 0l-5-4l-4 4l-7 2l-2 2l-1 4l-4 4l-5 0l0 4l3 6l3 1l3 4l-1 1l-3 0l-2-2l0-2l-6 2l-3-3l0-2l-2-1l-2 13l3 1l1 2l-5 5l-3 1l-3 3l0 5l-5 2l0 95l79 0l8-5l7-1l8-6l5-1l8-4l5-6l5-2l9-9l6-2l4-4l3-1l3-4l7-6l9-10l5-3l7-8l1-5l3-3l2 0l2-4l4-3l-1-3l1-4l2-2l6-1l2-3l0-2l10-9l6-2l7-9l3 0l2-5l0-4l-2-1l-3 1l-4 5l-5-4l1-2l-1-6l4-3l5 0l1 1l3-7l0-3l-6-7zM348 668l1-1l3 0l2 3l0 2l-2 2l-4-4zM175 660l1 2l-3 3l-1-3zM351 645l2-1l2 3l-2 2l-2-2zM294 619l-3 2l0 2l3-1zM142 562l0 7l1 0zM142 526l0 7l1-2z" fill="url(#pg5)" fill-rule="evenodd"/><path d="M333 642l-3 2l0 3l3 0l1-1l0-3zM279 635l-1 0l-3 4l1 3l2 0l3-2l0-3zM346 659l-1-1l-6 1l-4-4l-8-1l-4-3l-4 0l-3 1l-4 4l-4 0l-4-3l0-2l3-6l-1-3l-5 0l-12-4l-1 2l4 5l0 8l-1 1l-3-2l-2-4l-2-1l-7 0l-1-1l-2 0l-1 3l-3 3l-3 1l-3-2l0-4l-2-4l0-3l3-3l0-6l-2 1l-2 7l-5 4l-2 7l-2 2l-2-1l1-2l-1-4l-4-2l-6 1l-2 4l-2-1l-10 0l-1-1l-3 0l-1 1l1 1l3 0l1 1l0 3l-1 1l-5 0l-1-3l-4 0l-3 2l-3 0l-4-2l1 5l-2 4l-6 6l-7 2l-5 0l-3-2l-4 3l-1 2l2 5l-1 5l4 0l4 3l0 2l-2 2l-3 0l-5-4l-3 2l-1 4l-3 4l-6 0l-2-3l-8 3l-2 4l-4 4l-6 0l0 92l67 0l1-1l7 0l5-4l11-3l4-4l19-7l1-2l4-4l3-1l8-9l8-3l5-5l3-1l4-4l2-4l2-2l2 0l12-13l-1-4l4-8l5-5l-2 0l-4-3l1-3l3-2l3 1l2-1l0-4l4-5l3-1l3 2l2 0l11-12l3-1l1-2l-1-3l-5-3l-3 4l0 5l-3 1l-2-2l0-5l1-2l11-12zM331 686l1-1l2 3l-2 1zM214 656l6 7l-5 3l-4 5l-6 1l-2-2l0-3l1-1l4 0l1-1l0-6z" fill="url(#pg6)" fill-rule="evenodd"/><path d="M326 660l-1-1l-4 0l-1 5l-5 5l-2 0l-4-3l0-3l2-2l-3-2l-6 0l-4 5l-4 0l-3-2l-3-5l-5-1l-3-4l-3 0l-4 3l-5 1l-5 4l-5 1l-1 1l0 4l-6 7l-5-1l-1-2l7-6l0-4l-4 0l-6 2l-3-5l-3 0l-1 1l1 6l-2 3l1 1l0 4l-4 4l-7 1l-2-2l0-4l-1-1l-3 0l-4 4l-2 0l-4 3l2 4l-3 3l-10 2l-3 2l-2-1l-3 2l0 5l1 1l-2 2l-5-6l-6-2l-2 6l-7 6l-4 2l-2-1l-6 0l-2 3l-12-1l0 64l2 0l2 2l0 3l-4 3l0 17l51 0l1-1l1 1l7 0l7-3l7 0l4-4l10-2l6-5l7-3l4-3l1 1l1-1l4 0l8-6l10-11l7-2l3-4l10-9l2-4l4-2l8-8l1-2l0-5l3-3l1-3l-8-9l2-2l6-1l3-4l0-6l-2-2l-4-1l-1-2l4-4l1-5l2-2l6 1l4-3l-1-10l3-2zM163 754l2-1l2 2l-3 1zM289 678l2 0l4 4l-2 4l2 0l3 3l0 7l-2 3l-5-1l-2-3l1-9l-3-6z" fill="url(#pg7)" fill-rule="evenodd"/><path d="M142 711l4-1l1-2l-3 0l-1 1l-1-1zM304 692l-1 1l0 4l2 1l4-2l0-3zM306 715l-1-2l-8-7l-1-4l-5-2l-3-3l-3-6l-7-1l-2-3l-5-4l-3 0l-8 5l-2-2l1-3l0-4l-1-1l-2 0l-6 6l3 5l0 5l-2 2l-2 0l-3-3l-5-1l-2-3l1-3l6-5l1-2l-1-3l-3 0l-5 4l-6 0l-1 1l1 3l4 4l0 2l-3 2l-4-1l-1-1l0-4l-1 0l-1 3l-3 3l-4 1l-3 4l-4 0l-3 2l-9-7l-2 1l-2 3l0 4l1 1l-3 4l-2-1l1-1l-2-2l-8-1l-1-1l-5 0l-5 4l-9 3l-4 3l-6 0l-4 2l-4 4l-3 0l0 19l2 0l4 5l0 2l-3 5l-3 2l0 8l4 0l1 1l-2 3l-3 1l0 3l3 3l7 2l3 3l6 2l4 3l-2 2l-2 0l-2-2l-12-1l-5 3l0 14l29 0l1-3l1 0l2 3l2 0l2-4l1-8l6-7l5 3l-7 8l3 6l2 0l3-2l2 0l3 3l1-1l4 0l3-2l1 1l3-2l1 1l7-2l0-1l2-1l-1-2l2-2l1 0l1 2l8-1l3-4l4-2l1 1l4-3l-2-3l-5-3l3-5l2 0l4 4l6 0l1 3l1-1l1 1l6-3l4-5l2-1l3-6l-2-3l-2 0l-2-2l0-8l3-4l4 0l5 5l1 2l0 7l1 1l3-2l3-5l0-5l-4-5l0-3l3-4l2-1l2 2l1 7l2 3l2-3l3-2l2-4l5-2l3-6l0-6zM234 772l0 3l-2 2l-3 0l-1 1l-3-1l0-3l1-1l6-2zM156 764l1-1l3 4l-2 1l-2-2zM213 762l3-3l5-1l5 4l0 3l-1 2l-3 2l-3-5zM210 757l-3 4l-6 4l-3-2l-2 0l-4 3l-3-2l3-4l8-4l8-2zM158 751l2-2l4 0l4 2l3 3l0 2l-3 3l-7 0l-3-4zM250 739l3 4l-5 4l-1 2l1 1l0 3l-4 3l-4-4l-1-7l5-5zM180 742l0-2l2-2l3 0l4 4l2 0l5-3l3 0l2 2l-4 5l0 2l-3 2l-4-1l-3-3l-3 0zM246 727l1 2l-2 2l-2-2zM205 731l4-4l5 2l4 4l3 0l7-4l3 3l0 3l-3 3l-1 4l-2 2l-3 0l-3-8l-7 0l-3 2l-3 0l-2-2zM160 725l4 5l1 6l5 1l3 2l0 3l-5 6l-4 0l-5-5l3-5l0-2l-5-3l0-4zM290 722l0-3l1-1l3 0l1 1l-3 4zM259 717l2-1l2 3l-2 1zM182 717l1-1l3 0l1 1l0 3l-1 1l-3 0l-1-1zM201 712l5 3l1 4l3 3l-4 4l-6 1l-1-1l0-2l-3-5l0-3zM172 710l1 1l0 4l-1 1l0 3l-2 1l-1-1l1-1l-1-6zM244 705l1-2l2 1l-2 2zM209 701l4 0l3 4l0 8l-2 2l-5 0l-3-2l0-8zM297 671l-2 2l0 3l4 1l2-3l-1-2zM270 671l-5 4l0 1l3 2l2-1zM284 661l-2 2l2 6l2 3l3 0l1-4l-3-5l0-2z" fill="#c8c8c8" fill-rule="evenodd"/><path d="M149.5 768.9C150.5 760.9 153.2 747.2 155.5 739C157.7 730.8 160.2 723.3 163 719.6C165.7 715.8 169.2 716.1 171.9 716.6C174.7 717.1 176.9 720.1 179.4 722.6C181.9 725.1 181.9 730.8 186.9 731.5C191.9 732.3 200.6 729.3 209.3 727C218 724.8 230.7 719.8 239.2 718.1C247.7 716.3 255.4 716.1 260.1 716.6C264.9 717.1 266.6 717.8 267.6 721.1C268.6 724.3 268.4 730.5 266.1 736C263.9 741.5 259.6 748.5 254.2 754C248.7 759.4 240.7 764.4 233.2 768.9C225.8 773.4 217.3 777.4 209.3 780.9C201.3 784.4 193.4 787.8 185.4 789.8C177.4 791.8 167.4 793.3 161.5 792.8C155.5 792.3 151.5 790.8 149.5 786.8C147.5 782.9 148.5 776.9 149.5 768.9Z" fill="#fff"/><path d="M151.6 771.9C151.8 765.9 154.9 757.2 157 751C159 744.7 161.6 737.8 163.9 734.5C166.1 731.3 168.3 730.8 170.4 731.5C172.5 732.3 174.7 735.3 176.4 739C178.2 742.7 177.9 752 180.9 754C183.9 756 188.6 753.5 194.4 751C200.1 748.5 207.8 742.2 215.3 739C222.8 735.8 233.5 732.8 239.2 731.5C244.9 730.3 247.8 729.8 249.7 731.5C251.6 733.3 252.1 737.8 250.6 742C249.1 746.2 245.6 752.2 240.7 756.9C235.8 761.7 228.5 766.4 221.3 770.4C214 774.4 205.3 777.9 197.3 780.9C189.4 783.9 180.4 787.3 173.4 788.3C166.4 789.3 159.1 789.6 155.5 786.8C151.8 784.1 151.3 777.9 151.6 771.9Z" fill="none" stroke="#c8c8c8" stroke-width="2.2"/><path d="M154 774.9C153.8 770.7 157.2 764.4 159.1 759.9C160.9 755.5 163.2 750.2 165.1 748C166.9 745.7 168.8 745.2 170.4 746.5C172.1 747.7 173.4 752.5 174.9 755.5C176.4 758.4 175.7 764.2 179.4 764.4C183.1 764.7 191.4 759.7 197.3 756.9C203.3 754.2 209.3 750.4 215.3 748C221.3 745.6 229.5 743.1 233.2 742.6C237 742.1 237.5 743.1 237.7 745C238 746.9 237.2 750.7 234.7 754C232.2 757.2 228 760.9 222.8 764.4C217.5 767.9 210.6 771.6 203.3 774.9C196.1 778.1 186.6 782.1 179.4 783.9C172.2 785.6 164.2 786.8 160 785.4C155.7 783.9 154.1 779.1 154 774.9Z" fill="none" stroke="#c8c8c8" stroke-width="2.2"/><path d="M182.4 768.9C185.4 765.9 194.6 763.7 200.3 761.4C206.1 759.2 212.9 756.3 216.8 755.5C220.7 754.6 223.9 754.6 223.7 756.3C223.4 758.1 219.7 762.8 215.3 765.9C210.9 769 202.8 772.6 197.3 774.9C191.9 777.1 184.9 780.4 182.4 779.4C179.9 778.4 179.4 771.9 182.4 768.9Z" fill="none" stroke="#c8c8c8" stroke-width="2.2"/><path d="M155.5 779.4C155.7 776.6 158.2 771.6 160 768.9C161.7 766.2 164.3 763.2 165.9 762.9C167.6 762.7 169 765.4 169.8 767.4C170.7 769.4 171.7 772.1 171 774.9C170.4 777.6 168 782.1 165.9 783.9C163.9 785.6 160.2 786.1 158.5 785.4C156.7 784.6 155.2 782.1 155.5 779.4Z" fill="none" stroke="#c8c8c8" stroke-width="2.2"/></g><g id="gF"><path d="M589 781l0 7l273 0l0-40l-13-9l-8-8l-6-3l-27-22l-7-4l-22-17l-10-6l-7-6l-38-26l-5-5l-2-9l-9-10l-14-4l-8 0l-1-2l-8 3l-3 0l-6 3l-9 8l-3 8l-4 4l-1 6l-5 5l-6 14l-3 2l-4 5l0 4l-3 6l0 5l-4 7l0 3l-1 1l0 10l2 4l0 23l1 1l0 7z" fill="url(#pg0)" fill-rule="evenodd"/><path d="M830 752l1 3l3 0l-1-3zM603 780l0 4l2 4l218 0l-2-3l0-2l4-7l0-3l-1-1l0-3l-5-4l0-8l6-5l0-2l-3-4l2-2l3 0l1-1l0-10l-8-10l-13-10l-14-13l-38-29l-4-2l-12-10l-6-3l-21-16l-8-9l-8-4l-5 0l-6-2l-7 2l-7 4l-10 17l-1 5l-4 7l0 2l-6 6l-2 5l-6 5l-3 12l-5 8l0 8l-1 1l0 6l1 1l-1 1l0 22l-1 1l1 1l0 3l-29 26l1 9z" fill="url(#pg1)" fill-rule="evenodd"/><path d="M679 631l-5 4l-3 4l-2 10l-3 7l-4 3l-2 6l-14 16l-1 7l-8 16l0 11l-1 1l0 16l1 1l-1 1l0 5l-11 10l3 5l1 7l2 3l0 5l2 4l0 3l2 3l-1 3l-5 2l0 4l162 0l4-5l0-2l-3-3l-4-1l-2-2l0-3l3-3l3-1l7 3l0-4l3-5l-3-5l0-4l1-1l-1-6l1-1l0-3l-3-4l0-4l5-6l0-3l-3-4l1-7l-6-5l-1-3l-17-15l-8-6l-4-1l-8-9l-7-4l-11-10l-6-3l-13-10l-3-1l-17-14l-2 0l-5-3l-6 0l-1-1z" fill="url(#pg2)" fill-rule="evenodd"/><path d="M676 642l-1 2l0 5l-3 5l0 2l-9 9l-4 7l-9 10l-5 15l-6 10l0 11l-1 1l0 11l1 1l-1 6l-3 3l1 34l3 5l0 7l-1 2l135 0l-1-14l5-8l0-3l2-4l0-2l-4-4l0-7l5-7l0-4l-1-1l0-3l-5-6l2-7l-6-7l4-4l4 3l2 0l2-4l-1-2l-2 0l-4-3l-1-3l1-1l-4-3l-2-4l-5-2l-3 0l-4-4l-2-5l-4-4l-3-1l-13-12l-6-2l-2-3l-7-5l-3-1l-7-6l-6-2l-6-5l-6-3l-5 0z" fill="url(#pg3)" fill-rule="evenodd"/><path d="M685 643l-7 8l-3 5l0 2l-8 7l-13 16l-6 13l-1 5l-5 7l0 6l-2 7l0 16l-3 7l1 9l1 1l0 4l-1 1l1 1l0 17l2 4l0 8l-1 1l119 0l2-6l-1-11l2-6l0-7l5-6l1-16l-3-3l0-3l2-3l-2-8l-4-2l0-12l-3-7l-8-7l0-4l1-1l-1-2l0-5l-12-11l-16-9l-13-11l-6-1l-5-4l-3-1l-1 1l-6 0l-1-1z" fill="url(#pg4)" fill-rule="evenodd"/><path d="M689 649l-5 3l-10 11l-2 0l-16 19l-2 6l-6 11l0 2l-4 6l0 6l-2 4l0 16l-3 9l2 7l-1 1l1 2l-1 2l0 10l1 1l-1 1l1 1l0 4l-1 1l1 1l1 9l1 1l-1 1l1 2l-1 2l106 0l-2-3l-1-6l3-4l5 0l2-2l1-12l-3-4l-9 1l-2-3l1-3l3-3l4 2l2 0l2-2l0-4l-3-5l2-3l5-2l0-5l-4 0l-4 2l-4-2l-2-4l0-4l5-4l0-5l-4 0l-2-2l1-10l-4-5l-1-4l-6-7l0-6l1-1l5 3l4 0l1-1l0-4l-1-1l-5 0l-5 3l-1-1l0-3l2-5l-4-3l-6-2l-4 0l-2 2l-5 0l-3-7l0-6l-2-2l-2 0l-5 3l-7-5z" fill="url(#pg5)" fill-rule="evenodd"/><path d="M690 652l-13 12l-5 2l-3 5l-5 4l-1 3l-7 8l-1 5l-4 5l-1 5l-5 7l1 1l-1 2l1 2l-2 2l0 4l-1 1l1 2l-1 1l1 2l-1 2l2 1l-2 1l1 2l-1 2l1 1l-2 1l1 2l-2 2l1 1l-1 1l1 2l-1 1l1 2l0 10l-1 1l1 1l-1 2l1 2l-1 1l2 5l-1 1l1 2l-1 1l1 2l-1 2l2 1l-1 1l1 2l-1 1l1 2l-1 2l1 2l-1 1l2-1l1 1l10 0l1-1l1 1l2-1l1 1l2-1l1 1l2-1l1 1l72 0l-1-6l3-4l0-5l-2-2l-1-6l2-3l-1-8l1-1l0-6l2-3l-3-7l2-5l-1-3l-6-7l6-3l1-3l-1-2l-7-6l-4-6l-1-3l1-13l-1-1l-3 2l-2 0l-2-3l0-4l2-5l-5-1l-4-4l-5-1l-2-2l0-5l-2-4l-6 0l-5-5z" fill="url(#pg6)" fill-rule="evenodd"/><path d="M688 656l-4 5l-11 7l0 2l-3 2l1 1l-5 3l0 2l-2 1l-2 4l-2 1l0 2l-2 1l1 2l-2 1l-2 3l1 1l-3 1l-2 7l-2 1l1 2l-2 1l-1 2l0 5l-2 4l1 2l-1 1l0 8l-1 1l-1 12l-1 1l1 1l0 10l-1 1l1 1l-1 2l1 1l-1 2l1 2l-1 1l2 7l-1 2l1 2l0 13l4 0l1 1l2-1l1 1l2-1l1 1l2-1l1 1l2-1l1 1l2-1l2 1l1-1l2 1l1-1l1 1l2-1l2 1l1-1l2 1l1-1l2 1l1-1l2 1l1-1l2 1l1-1l1 1l10 0l1-1l1 1l2-1l2 1l1-1l2 1l29 0l-3-6l0-4l-5-4l1-1l-1-2l7-8l1-7l1-1l-1-5l-2-2l-4 0l-1-1l0-2l3-3l0-2l3-5l0-6l-6-8l1-12l-3-6l-6-5l0-2l-4-6l0-4l2-4l-1-1l1-2l-5-5l-7-3l-2-3l-2-1l-2-6l-2-1l-2 1l-3-2l-1-2zM682 779l3-1l1 3l-3 1zM716 758l3 2l-2 3l-3-2zM651 749l3-2l2 3l-3 1zM698 735l2 0l2 2l0 2l-2 2l-4-3zM650 733l2-2l3 0l1 1l0 3l-1 1l-3 0zM688 686l2 0l3 5l0 6l-2 4l-2 0l-2-2l-1-11z" fill="url(#pg7)" fill-rule="evenodd"/><path d="M728 780l-4 7l8 1l-4-5zM643 751l0 17l1 1l0 5l4 5l-1 8l17 0l-1-3l2-2l4 3l0 2l10 0l-1-1l0-9l-1-2l-7-5l0-2l3-4l0-5l-6-7l-2 1l-1 6l-4 5l7 5l-1 4l-3 3l-6 3l-5 0l-2-3l2-2l1-4l-1-1l-7 0l-1-1l1-4l6-9l-4-4zM702 668l-2 1l-5 0l-1 1l0 5l-4 3l0 2l2 2l6-1l1 1l0 5l5 2l2 2l0 3l-6 5l1 4l-4 3l-2-1l-5 0l-1-1l-3 1l1 3l-2 5l1 2l0 3l-1 1l-4-3l-2 3l-2 7l-4 2l-3 0l-2-3l0-5l-6 0l-2-2l-2 0l-3 2l-4 0l-3-3l-1-3l-1 1l0 6l-1 2l1-1l3 1l3 3l3 0l6 6l0 5l-2 2l-8 0l-3 2l0 3l7 0l4 3l4 0l3-4l7 0l4-3l4 0l6 6l0 4l-5 3l0 4l3 4l2 0l2-2l0-4l6-3l2 0l2 2l-4 5l-4 2l0 5l-6 3l1 5l6 5l-6 7l0 1l3 1l1-1l2 1l1-1l10 0l1-1l13 1l0-2l2-3l0-5l3-4l0-4l1-1l3 1l2-1l1-2l-1-1l2-1l1-6l2-3l0-2l-4 0l-1-2l-9 0l-4-4l0-2l2-2l3 0l2-9l3-3l3 2l-1-2l3-1l0-2l-3-5l-2-1l1-1l-2-6l-8 1l-7-2l0-4l1-1l0-8l-1-3l1-1l2 4l6 1l3 3l1 6l2 2l-3-10l-7-16l1-2l0-5l-1 0l-1-2l-3 0l-6-9zM698 772l6 7l-3 4l-3 0l-2-2l0-8zM698 766l1-1l3 0l1 3l-2 2l-2 0l-1-1zM719 756l3 3l-1 6l-3 2l-8 1l-2-3l3-7l5-3zM696 732l5 0l4 5l0 5l-1 1l-6 0l-3-2l-1-2l0-5zM678 727l5 1l2 2l0 5l-3 3l-2 0l-3-3l0-7zM705 725l2-1l1 3l-1 1zM721 722l4 3l-2 3l-3-3zM701 714l1 3l-3 4l-4 3l-1-3l4-3l0-3zM708 678l-3 3l-3 0l-1 1l-1-1l0-2l3-3l3 0zM700 664l-6-2l-2-2l-2 0l-1-2l-3 4l-10 6l-9 11l-2 1l-7 10l3-3l5 0l5 4l3 5l-2 2l-11-1l-3-5l-1 0l-10 17l1 3l3-3l2 0l5 5l5-4l2 0l3 2l6-1l1-1l0-5l4-3l-3-4l0-2l4-5l0-4l2-2l0-5l5-3l0-4l4-5l5-4zM674 670l1 0l2 3l-2 3l-3-2l0-2z" fill="#c8c8c8" fill-rule="evenodd"/><path d="M633.1 783.9C629.2 778.8 633.9 766.4 636.1 756.9C638.2 747.5 642.6 734.3 645.9 727C649.3 719.8 652.7 716.3 656.4 713.6C660.2 710.9 664.8 709.4 668.4 710.6C672 711.8 675.8 715.8 677.9 721.1C680 726.3 681 735 680.9 742C680.8 749 676.4 757.7 677.3 762.9C678.2 768.2 682.9 769.9 686.3 773.4C689.7 776.9 697.2 781.6 697.7 783.9C698.2 786.1 695.7 786.3 689.3 786.8C682.9 787.4 668.8 787.9 659.4 787.4C650 786.9 637 788.9 633.1 783.9Z" fill="#fff"/><path d="M645.9 761.1C644.2 755.6 647.5 739.4 649.5 732.4C651.5 725.5 654.9 721.9 657.9 719.3C660.9 716.7 664.9 715.9 667.5 716.9C670.1 717.9 672.2 721.1 673.5 725.3C674.7 729.4 675.5 736.4 675.1 742C674.7 747.6 673.5 754.8 671.1 758.7C668.6 762.7 664.5 765.5 660.3 765.9C656.1 766.3 647.7 766.7 645.9 761.1Z" fill="none" stroke="#c8c8c8" stroke-width="2"/><path d="M650.4 753.4C649.1 749.2 651.6 737.1 653.1 731.8C654.6 726.6 657.2 723.9 659.4 722C661.6 720 664.6 719.4 666.6 720.2C668.5 720.9 670.1 723.3 671.1 726.4C672 729.6 672.6 734.8 672.3 739C672 743.2 671.1 748.6 669.3 751.6C667.4 754.6 664.3 756.6 661.2 756.9C658.1 757.2 651.8 757.5 650.4 753.4Z" fill="none" stroke="#c8c8c8" stroke-width="2"/><path d="M654.9 745.6C654 742.8 655.7 734.7 656.7 731.2C657.7 727.7 659.4 726 660.9 724.7C662.4 723.4 664.4 723 665.7 723.5C667 724 668 725.6 668.7 727.6C669.3 729.7 669.7 733.2 669.5 736C669.3 738.8 668.7 742.4 667.5 744.4C666.2 746.4 664.2 747.8 662.1 748C660 748.2 655.8 748.4 654.9 745.6Z" fill="none" stroke="#c8c8c8" stroke-width="2"/><path d="M647.4 780.9C650.4 779.1 659.9 771.9 665.4 770.4C670.9 768.9 675.8 769.9 680.3 771.9C684.8 773.9 690.3 780.6 692.3 782.4" fill="none" stroke="#c8c8c8" stroke-width="2"/><path d="M656.4 783.9C658.4 782.6 664.6 777.4 668.4 776.4C672.1 775.4 675.8 776.5 678.8 777.9C681.8 779.2 685.1 783.4 686.3 784.5" fill="none" stroke="#c8c8c8" stroke-width="2"/></g><g id="gS"><path d="M974 786l0 9l296 0l0-42l-3-1l-13-11l-5-2l-4-4l-9-5l-12-9l-3-1l-7-6l-11-6l-22-15l-8-4l-3-3l-47-28l-15-6l-11-10l-2-5l-4-4l-12-6l-6 0l-4 2l-5 0l-5 4l-1 4l-6 7l-2 4l-1 8l-2 2l-2 7l-5 9l-1 6l-8 10l-2 9l-5 9l0 13l1 1l-1 5z" fill="url(#pg0)" fill-rule="evenodd"/><path d="M990 770l0 5l2 1l3 4l-4 6l1 9l229 0l0-5l3-3l4-1l0-3l-4-6l0-5l1-1l0-4l2-4l0-3l-1-1l-1 1l-3-1l-2-3l0-7l-1-1l0-3l1-1l0-10l1-1l3 0l-4-5l-11-7l-4-5l-7-4l-3-3l-3-1l-5-5l-6-3l-17-14l-7-3l-8-6l-26-15l-6-2l-4 0l-1-1l-11 0l-16-18l-9-4l-6 2l-3 4l-7 6l-7 18l0 4l-4 6l-1 6l-4 5l0 2l-4 8l-5 7l-2 11l-42 50l0 3zM1216 781l1-1l4 0l1 1l0 4l-1 1l-3 0l-2-2z" fill="url(#pg1)" fill-rule="evenodd"/><path d="M1009 744l3 5l0 2l-3 4l0 4l1 2l4 2l4 5l-3 1l-3 3l-4 8l0 2l2 0l3-4l5-1l3 3l1 3l-3 3l-8 1l-4 5l-1 3l11 0l2-4l3 0l2 2l0 2l176 0l-1-3l-5-1l-4-3l-3-6l0-2l6-8l-1-13l2-4l-1-1l0-4l-2-2l0-15l-2-4l3-10l-1-2l-5-2l-2-2l-1-6l-7-3l-7-8l-5-4l-8-4l-11-10l-9-3l-13-9l-7 0l0 3l-2 2l-2-2l1-3l-1-2l-4 0l-3 3l-3 1l-7 0l-2-2l-1-4l-4-7l-9-9l-5 0l-8 6l-1 4l-5 8l0 13l-11 16l-4 10l-7 10l-1-2zM1016 741l2-2l3 0l2 3l-2 2l-3 0z" fill="url(#pg2)" fill-rule="evenodd"/><path d="M1171 732l1 3l3 0l1-1l0-2zM1071 656l-3 4l1 7l-3 5l0 5l3 2l0 2l-6 5l-5 2l-7 8l-2 7l-7 11l0 7l-1 1l-2 12l-1 1l-1-1l0-23l-3 6l1 1l-1 16l-2 4l0 2l2 3l0 5l-3 5l1 1l0 5l-1 1l0 20l1 3l-3 7l0 5l144 0l0-4l-1-1l1-1l3 2l0 4l3 0l0-5l-1-1l-1-9l-1-1l0-8l2-3l1-5l-1-2l-4 0l-8-8l3-3l3-6l-6-8l0-6l-5-7l0-10l-1-1l0-3l5-5l0-2l-5-3l-4 0l-3-4l-1-6l-4-2l-5-6l-12-4l-5-5l-5-2l-2 3l0 5l-4 2l-8 0l-7 4l-9-11l-10-10l-1-6l-2-1z" fill="url(#pg3)" fill-rule="evenodd"/><path d="M1079 675l-3 5l-10 10l-7 2l-5 5l-3 8l-5 6l-2 10l-1 1l0 5l-3 8l-1 10l-1 1l-1-1l0-8l0 10l-2 5l0 11l-1 1l1 18l-2 4l-1 9l126 0l1-5l2-3l0-3l-4-2l-2-3l2-4l6-6l-2-6l-5-5l0-10l3-5l-1-4l-2-1l-6 0l-3-3l3-6l0-5l-1-1l-5 0l-5-3l2-3l3-1l1-3l-4-2l-8-10l-5 1l-2-2l0-1l2-1l-1-2l-2 2l-2 0l-5-7l-2-1l-1 2l-2 0l-2-2l0-4l-1-1l-3 1l-3 3l-5 0l-11-6l-7-8z" fill="url(#pg4)" fill-rule="evenodd"/><path d="M1059 695l-3 4l-3 7l-4 4l-2 4l-1 7l-2 5l0 4l-3 8l1 1l-1 1l0 5l-2 4l0 3l-1 1l-1-1l0 5l2 1l-2 1l2 2l-2 1l0 12l2 2l-2 1l1 2l-3 7l0 9l118 0l0-4l-3-1l-3-3l0-2l5-11l-6-2l-2-3l0-8l1-1l-1-8l2-3l-9-5l-2 1l-3-3l0-5l8-9l-5-2l-2-2l-2-7l-3-5l-3-3l-3-1l-4-6l-2 0l-1 2l-3 1l-5 0l-3-2l0-6l-1-2l-6-1l-6-5l-4-1l-5-3l-5 0l-9 7z" fill="url(#pg5)" fill-rule="evenodd"/><path d="M1062 696l-4 4l-10 16l-1 8l-4 13l0 6l-3 7l0 5l-1 1l1 2l-1 1l1 2l-1 1l1 2l-1 1l0 4l1 1l-1 1l1 2l-1 2l1 1l-1 1l0 5l-2 1l0 5l-1 1l2 5l-1 1l110 0l-2-3l-6 2l-4-4l3-4l1-4l-1-1l0-5l-4-3l-3-4l0-8l1-1l7 1l1-2l-1-5l-1-1l-6 1l-4-5l-1-19l-5-6l-6-1l-7-6l1-5l-6-4l-3-4l0-6l-7-2l-4-3l-7-2l-3-2l-3 2l-4 0l-4 3z" fill="url(#pg6)" fill-rule="evenodd"/><path d="M1063 698l-1 2l-4 3l0 2l-3 5l-2 1l0 2l-2 1l-2 3l1 2l-2 4l1 2l-4 10l1 2l-1 1l-2 11l-3 7l1 2l-1 1l1 2l-1 2l1 1l-1 1l0 11l-1 1l0 8l-1 1l1 2l-2 1l1 1l0 5l17 0l1-1l3 1l18 0l3-2l7 1l1 1l47 0l-3-4l2-9l-2-3l-1-5l-4-5l0-3l-2-5l2-5l0-3l-4-8l0-3l-1-1l1-3l-4-10l-2-1l-2 1l-4-5l-2 0l-4-5l0-5l-6-7l-1-3l1-2l-6-4l-3-1l-3 1l-1-2l-1 1l-4-3l-5 0l-1 1l-1-1l-7 4zM1083 721l2 2l-1 2l-3-1zM1080 694l2 1l0 3l-1 1l-2-1l0-3z" fill="url(#pg7)" fill-rule="evenodd"/><path d="M1045 748l1 5l-3 1l-1-2l-1 2l-1 16l5-2l3 0l2 2l-1 6l2 2l0 2l-1 1l-5 0l-3 2l-2 0l-1 1l-1 7l10 0l4-2l1 1l6 0l3-2l3 0l1 3l-3 4l10 0l1-3l3-2l3 0l1 1l3-1l7 1l1-2l-1-7l-2-4l-4-3l2-2l5-1l0-4l-1-1l1-6l-7-3l-5-6l-5-3l-4 3l0 4l3 4l1 4l-1 1l-3 0l-4 4l-9 0l-2-3l7-6l3-7l-5-1l-4-4l-2-4l-5 0zM1070 772l3 2l-2 2l-3-1zM1105 743l-3 4l2 5l-4 8l1 9l-3 4l-3 1l0 7l1 2l8 6l-4 5l-7-1l0 2l20 0l0-6l-1-2l-4-1l-2-2l0-4l3-2l3 1l8 8l0 5l-3 3l14 0l-2-2l0-5l2-4l-5-3l0-7l-1-1l-1-11l-1-1l0-4l1-1l-2-1l1-2l-2-1l1-1l-3-3l0-2l-3 1l-5-3zM1122 777l2 0l2 2l-3 4l-3-2l0-2zM1117 753l3 3l2 8l-3 4l-1 4l-3 2l-3 0l-3-3l0-2l2-2l5 0l0-4l-3-2l-2 0l-3-5l2-2zM1065 699l-6 5l-1 4l-8 10l0 3l-1 1l0 2l3 0l4 4l-1 5l4 3l0 5l5 0l3 2l2 0l1-1l-1-7l1-1l3 0l4 3l0 2l-2 3l1 2l2 0l4-5l5-1l2 2l1 5l3 1l8-9l3 0l1-4l5-8l-7 1l-2-2l0-3l3-6l-4-5l-4-8l-5-4l-1 1l-2-1l-7 9l4 2l3 0l4 3l1 2l0 6l2 3l0 2l-2 2l-4 0l-3 2l-6-1l-5-4l0-2l5-4l-2-7l1-1l0-4l-3-4l-1-7zM1066 700l3 0l3 3l0 4l-4 3l-3 0l-2-3l0-3z" fill="#c8c8c8" fill-rule="evenodd"/><path d="M1057.9 780.9C1057.3 775.4 1058.4 759.4 1059.4 751C1060.4 742.5 1062.1 734.3 1063.9 730C1065.6 725.8 1068.2 724.8 1069.9 725.6C1071.5 726.3 1073.4 729.3 1073.8 734.5C1074.1 739.8 1073 750.2 1072 756.9C1071 763.7 1069.3 770.4 1067.8 774.9C1066.3 779.4 1064.6 782.9 1063 783.9C1061.3 784.9 1058.5 786.4 1057.9 780.9Z" fill="#fff"/><path d="M1061.2 768.9C1060.7 766.4 1062.1 756 1063 751C1063.9 746 1065.7 739.5 1066.6 739C1067.5 738.5 1068.5 743.5 1068.4 748C1068.3 752.5 1067.2 762.4 1066 765.9C1064.8 769.4 1061.7 771.4 1061.2 768.9Z" fill="none" stroke="#c8c8c8" stroke-width="1.9"/></g></defs><text x="2" y="502" font-size="63" font-weight="bold" fill="#231f20">b</text><use href="#gA" transform="translate(0 0)"/><use href="#gF" transform="translate(0 0)"/><use href="#gS" transform="translate(0 0)"/><use href="#gA" transform="translate(6 425)"/><use href="#gF" transform="translate(4 426)"/><use href="#gS" transform="translate(2 428)"/><use href="#gA" transform="translate(2 858)"/><use href="#gF" transform="translate(1 856)"/><use href="#gS" transform="translate(-1 856)"/><path d="M142 793l62 0l1-1l3 0l10-4l6-4l4-5l5 1l1-1l6 0l5-4l-1-1l0-10l1-1l-1-2l-5 1l-1-1l0-3l-2-1l-4 2l-3 0l-5-3l-9 0l-1 1l-1-1l-5 0l-1 1l-2-1l-1 1l-5 0l-4-2l-9 0l-1 1l-6 0l-2 2l-5 0l-5 3l-2 0l-1 1l1 2l-1 2l-3-2l-2 0l-7 5l-3 0l-7 3z" fill="url(#pc0)" fill-rule="evenodd"/><path d="M225 766l-3-4l-3 0l-5 4l0 3l-3 2l-2-2l0-7l-4 0l-1 1l-5-1l-2 3l-4 0l-2 2l-3 0l-1-3l-4 1l-3 4l-19 1l-7 2l-6 0l-6 3l0 17l2 1l54 0l1-1l3 0l4-3l3 0l5-3l2-4l-2-5l6-5l3-1l2-3z" fill="url(#pc1)" fill-rule="evenodd"/><path d="M212 773l-6-3l-3 0l-3 2l-4 0l-7-2l-1 1l-27 0l-5 2l-10 1l-4 2l0 15l3 1l8 0l1 1l37 0l6-2l5 0l11-8l0-2l-3-3z" fill="url(#pc2)" fill-rule="evenodd"/><path d="M210 774l-3-3l-4 0l-4 3l-3 0l-4-2l-31 0l-5 2l-7 0l-7 3l0 13l11 1l1 1l13 0l1 1l19 0l5-2l9-1l9-7l0-2l-2-2l0-2z" fill="url(#pc3)" fill-rule="evenodd"/><path d="M142 789l13 2l1 1l3-1l29 1l9-3l4 0l4-3l2-3l0-3l-4-1l-2-2l1-1l3 1l4-3l-2-2l-4 0l-2 1l-2 3l-9-3l-26-1l-8 3l-7 0l-5 3l-2 0z" fill="url(#pc4)" fill-rule="evenodd"/><path d="M142 779l0 8l1 1l3 0l3 2l5 0l1 1l9 0l3-1l7 2l11 0l4-2l4 0l4-3l4 0l4-3l0-3l-2 0l-4-4l-10-2l-1-1l-25-1l-8 3l-6 0l-4 3zM202 773l0 2l2 1l4-2l-2-2z" fill="url(#pc5)" fill-rule="evenodd"/><path d="M203 773l1 2l3-1l-1-1zM142 781l1 4l5 4l6 0l1 1l10 0l1-1l3 2l17 0l4-2l3 0l3-3l3 0l4-2l0-2l-6-5l-5 0l-6-3l-2 1l-8 0l-5-2l-5 0l-12 4l-5 0l-2 2z" fill="url(#pc6)" fill-rule="evenodd"/><path d="M144 782l1 3l5 4l15 0l2-1l2 2l4 0l1 1l13-1l3-2l3 0l2-3l4 0l2-2l-2-4l-2-1l-5 0l-5-3l-10 1l-4-2l-9 0l-7 3l-8 1zM157 783l1 0l2 3l-1 2l-3 0l-1-1l0-2zM192 782l2-1l1 3l-2 1z" fill="url(#pc7)" fill-rule="evenodd"/><path d="M196 779l-1 1l1 3l3 1l0-3zM146 782l0 3l3 3l5 0l0-4l3-4l3 1l0 4l2 4l7-4l1 1l0 4l15 0l7-3l-2-4l2-4l-5-3l-7 0l-2 2l0 2l2 0l3 2l0 4l-1 1l-3 0l-2-3l0-2l-2-2l1-3l-4-3l-6 0l-13 5l-4 0z" fill="#2fb0e8" fill-rule="evenodd"/><path d="M650 717l-2 1l-4 5l-2 7l-7 7l-3 1l-6 10l-1 3l0 31l8 11l21 0l2-2l5 2l4-4l3 0l4-4l2 1l-2 5l3 1l2-1l4-5l2 0l4-3l-1-7l3-2l4 0l3-4l0-6l-1-1l1-2l0-7l-2-4l-4-4l-2 0l-2 2l-3-3l2-3l-2-4l-3-2l-5 0l-1-1l-4 1l-5-2l-3-3l0-3l-4-7l-4-4zM673 784l2-2l2 2l-1 1z" fill="url(#pc0)" fill-rule="evenodd"/><path d="M653 722l-4 1l-2 2l-1 4l-3 5l-3 3l-7 4l-5 8l-3 9l0 9l2 3l-1 3l1 7l5 6l1 3l5 4l10 0l12-7l5-10l4-1l3-3l6-2l-1-6l2-1l0-2l-1-1l0-7l-1-2l-7-4l-2 3l-2 1l-6-7l-1-11l-2-6zM668 750l3 0l2 2l0 6l2 2l-1 3l-2-3l-3 0l-1-1l0-5l-1-1z" fill="url(#pc1)" fill-rule="evenodd"/><path d="M652 727l-3 0l-1 1l0 2l-5 8l-9 4l-4 6l-4 13l0 5l2 3l0 9l2 4l4 3l0 2l6 4l6 0l3-3l4 0l5-3l8-17l-2-7l0-4l-4-5l0-4l-3-6l-1-11l-1-2z" fill="url(#pc2)" fill-rule="evenodd"/><path d="M653 730l-3 0l-4 8l-3 2l-2 0l-2 2l-4 1l-4 6l-1 5l-2 3l-1 8l3 6l-1 3l1 5l5 4l2 4l5 3l3 0l4-4l4 0l6-5l4-12l-1-11l-3-4l0-4l-4-9l0-5z" fill="url(#pc3)" fill-rule="evenodd"/><path d="M651 737l-10 6l-6 2l-6 13l0 5l-1 1l3 7l0 6l5 7l7 5l6-4l5-1l4-4l1-5l2-3l0-10l-3-7l0-5z" fill="url(#pc4)" fill-rule="evenodd"/><path d="M651 741l-5 0l-6 4l-3 0l-3 3l-1 5l-3 5l0 5l-1 1l3 7l0 4l3 3l1 4l6 5l3 0l2-2l5-1l5-4l3-8l0-9l-3-7l0-6l-3-6z" fill="url(#pc5)" fill-rule="evenodd"/><path d="M650 743l-5 0l-4 3l-4 1l-3 3l0 3l-3 5l0 11l2 3l0 2l3 4l0 3l7 5l2 0l2-2l6-2l3-3l3-7l0-10l-2-5l-2-2l1-5z" fill="url(#pc6)" fill-rule="evenodd"/><path d="M647 745l-4 0l-4 5l-2-1l-2 2l0 2l-3 5l0 4l1 1l-1 1l0 6l5 8l0 3l6 4l2 0l2-2l7-3l2-2l2-6l0-11l-1-3l-4-4l2-3l-2-3l-3 0zM644 750l2 4l-4 3l-1-1l0-3l1-2z" fill="url(#pc7)" fill-rule="evenodd"/><path d="M646 746l-2 0l0 1l3 3l0 3l1 1l-5 5l-5 0l-2-2l3-2l1-2l-3-1l-4 6l0 2l3 2l0 2l-3 1l-1 2l2 6l4 3l-1 4l6 4l2 0l2-2l4-1l4-4l2-5l0-12l-3-4l-3-1l2-2l0-4l-4 0l-2-1zM641 777l1-1l3 1l1 3l-3 1l-2-2zM650 766l1-1l3 0l2 2l-2 4l-3 0l-1-1zM645 765l2 0l2 2l-3 4l-3-1l0-3z" fill="#2fb0e8" fill-rule="evenodd"/><path d="M643.6 761.4C643.6 761.9 643.3 762.6 642.9 762.9C642.6 763.3 642 763.5 641.5 763.5C641 763.5 640.3 763.3 640 762.9C639.6 762.6 639.4 761.9 639.4 761.4C639.4 760.9 639.6 760.3 640 760C640.3 759.6 641 759.3 641.5 759.3C642 759.3 642.6 759.6 642.9 760C643.3 760.3 643.6 760.9 643.6 761.4Z" fill="#fff"/><path d="M1030 781l0 9l4 3l8 1l1 1l13 0l1-1l9-1l3-2l7 0l1-1l62-2l0-3l-52-2l-4-3l-1-12l-2-2l-6-2l-4 0l-1-1l-8 0l-10 8l-1 4l-4 3l-10 1z" fill="url(#pc0)" fill-rule="evenodd"/><path d="M1030 783l0 6l4 3l8 1l1 1l14 0l1-1l7-1l6-3l14 0l1-1l12 0l1-1l16 0l-1-1l-23-1l-1-1l-19-2l-3-2l3-4l0-4l1-1l-2-2l-7 0l-4 3l0 4l4 2l-1 1l-3 0l-1-1l-15 1l-1 1l-9 1z" fill="url(#pc1)" fill-rule="evenodd"/><path d="M1030 784l0 4l6 4l5 0l1 1l6 0l1 1l5 0l1-1l8-1l8-4l20-1l0-1l-2-1l-16-1l-7-3l-5 0l-5-2l-21 2z" fill="url(#pc2)" fill-rule="evenodd"/><path d="M1030 785l5 6l3 0l5 2l13 0l1-1l7-1l7-4l10 0l1-1l3 0l-12-1l-15-5l-20 1l-6 2z" fill="url(#pc3)" fill-rule="evenodd"/><path d="M1031 785l5 6l5 0l4 2l14-1l12-6l7 0l-5 0l-10-4l-8-1l-1-1l-18 2z" fill="url(#pc4)" fill-rule="evenodd"/><path d="M1032 786l2 3l9 3l14 0l1-1l3 0l8-5l-5-3l-3 0l-4-2l-18 1l-1 1l-3 0z" fill="url(#pc5)" fill-rule="evenodd"/><path d="M1034 788l3 2l4 0l3 2l11 0l7-2l5-4l-2-2l-6-2l-10-1l-1 1l-11 1l-3 2z" fill="url(#pc6)" fill-rule="evenodd"/><path d="M1035 788l12 4l6 0l1-1l7-1l4-2l1-2l-2-2l-7-2l-12 0l-1 1l-8 1l-1 1zM1041 786l2 1l-1 3l-3-2z" fill="url(#pc7)" fill-rule="evenodd"/><path d="M1039 784l-3 1l0 3l2 1zM1043 790l1 1l12 0l8-3l1-2l-2-2l-4 0l-2 3l-3-5l-2 0l-2 3l-2-2l-3 0l-1 3l2 2z" fill="#2fb0e8" fill-rule="evenodd"/><path d="M165.9 1217.3C159.2 1214.1 162.2 1205.6 163 1197.9C163.7 1190.2 166.7 1179.9 170.4 1171C174.2 1162 178.9 1152 185.4 1144.1C191.9 1136.1 202.8 1128.1 209.3 1123.1C215.8 1118.1 221.3 1119.6 224.3 1114.2C227.2 1108.7 224.8 1096 227.2 1090.2C229.7 1084.5 233.2 1081 239.2 1079.8C245.2 1078.5 256.1 1083.5 263.1 1082.8C270.1 1082 275.1 1078 281.1 1075.3C287 1072.5 292 1068.8 299 1066.3C306 1063.8 316.4 1063.3 322.9 1060.3C329.4 1057.3 332.9 1050.4 337.9 1048.4C342.9 1046.4 350.1 1045.4 352.8 1048.4C355.6 1051.4 355.1 1059.8 354.3 1066.3C353.6 1072.8 347.8 1079.8 348.3 1087.2C348.8 1094.7 357.1 1104.2 357.3 1111.2C357.6 1118.1 353.6 1121.1 349.8 1129.1C346.1 1137.1 340.9 1151 334.9 1159C328.9 1167 322.4 1172 314 1176.9C305.5 1181.9 294 1184.9 284.1 1188.9C274.1 1192.9 264.1 1197.4 254.2 1200.9C244.2 1204.4 232.7 1207.1 224.3 1209.8C215.8 1212.6 213 1216.1 203.3 1217.3C193.6 1218.6 172.7 1220.6 165.9 1217.3Z" fill="none" stroke="#6b4ea6" stroke-width="1.7"/><path d="M171.9 1217.3C167.3 1214 169.1 1205.1 169.8 1197.9C170.6 1190.7 172.8 1182.2 176.4 1174C180 1165.7 184.9 1156 191.4 1148.5C197.8 1141.1 207.8 1134.3 215.3 1129.1C222.8 1123.9 231.7 1122.1 236.2 1117.1C240.7 1112.2 237.7 1102.7 242.2 1099.2C246.7 1095.7 255.7 1099.2 263.1 1096.2C270.6 1093.2 280.6 1084 287 1081.3C293.5 1078.5 297 1078.3 302 1079.8C307 1081.3 311.5 1087 316.9 1090.2C322.4 1093.5 330.9 1095.2 334.9 1099.2C338.9 1103.2 340.9 1107.7 340.9 1114.2C340.9 1120.6 338.4 1130.1 334.9 1138.1C331.4 1146.1 325.9 1155.5 319.9 1162C314 1168.5 307.5 1172.5 299 1176.9C290.5 1181.4 279.1 1185.2 269.1 1188.9C259.1 1192.6 248.2 1195.9 239.2 1199.4C230.2 1202.9 222.3 1206.7 215.3 1209.8C208.3 1212.9 204.6 1216.7 197.3 1217.9C190.1 1219.2 176.5 1220.7 171.9 1217.3Z" fill="none" stroke="#6b4ea6" stroke-width="1.7"/><path d="M177.9 1217.3C175.4 1214 175.6 1204.6 176.4 1197.9C177.3 1191.2 179.5 1184.4 183 1176.9C186.5 1169.5 191 1160.3 197.3 1153C203.7 1145.8 212.3 1139.3 221.3 1133.6C230.2 1127.9 240.7 1123.1 251.2 1118.6C261.6 1114.2 274.1 1109.2 284.1 1106.7C294 1104.2 304.2 1102.4 311 1103.7C317.7 1104.9 321.9 1109.4 324.4 1114.2C326.9 1118.9 327.7 1125.1 325.9 1132.1C324.2 1139.1 319.4 1149 314 1156C308.5 1163 301.5 1168.7 293 1174C284.6 1179.2 273.1 1183.4 263.1 1187.4C253.2 1191.4 242.2 1194.4 233.2 1197.9C224.3 1201.4 216.3 1205 209.3 1208.3C202.3 1211.7 196.6 1216.4 191.4 1217.9C186.1 1219.4 180.4 1220.7 177.9 1217.3Z" fill="none" stroke="#6b4ea6" stroke-width="1.7"/><path d="M188.6 1211.2C186.4 1208.4 186.6 1200.3 187.3 1194.5C188 1188.7 190 1183 193 1176.5C196 1170.1 199.8 1162.2 205.3 1156C210.8 1149.7 218.2 1144.2 225.9 1139.2C233.6 1134.3 242.6 1130.2 251.6 1126.4C260.6 1122.5 271.3 1118.2 279.9 1116.1C288.4 1114 297.2 1112.5 303 1113.5C308.8 1114.6 312.4 1118.5 314.6 1122.5C316.7 1126.6 317.4 1132 315.9 1138C314.4 1144 310.3 1152.5 305.6 1158.5C300.9 1164.5 294.9 1169.5 287.6 1174C280.3 1178.5 270.4 1182.1 261.9 1185.5C253.3 1189 243.9 1191.5 236.2 1194.5C228.4 1197.5 221.6 1200.7 215.6 1203.5C209.6 1206.4 204.7 1210.5 200.2 1211.8C195.7 1213 190.7 1214.1 188.6 1211.2Z" fill="none" stroke="#6b4ea6" stroke-width="1.7"/><path d="M199.3 1205.2C197.5 1202.8 197.6 1196 198.2 1191.2C198.8 1186.3 200.4 1181.5 202.9 1176.1C205.4 1170.7 208.7 1164.1 213.3 1158.9C217.8 1153.7 224 1149 230.5 1144.9C236.9 1140.8 244.5 1137.4 252 1134.1C259.5 1130.9 268.5 1127.3 275.7 1125.5C282.9 1123.7 290.2 1122.5 295.1 1123.4C299.9 1124.3 303 1127.5 304.7 1130.9C306.5 1134.3 307.1 1138.8 305.8 1143.8C304.6 1148.8 301.2 1156 297.2 1161C293.3 1166.1 288.2 1170.2 282.1 1174C276 1177.7 267.8 1180.8 260.6 1183.6C253.4 1186.5 245.5 1188.7 239.1 1191.2C232.6 1193.7 226.9 1196.3 221.9 1198.7C216.8 1201.1 212.7 1204.5 208.9 1205.6C205.2 1206.7 201.1 1207.6 199.3 1205.2Z" fill="none" stroke="#6b4ea6" stroke-width="1.7"/><path d="M209.9 1199.1C208.5 1197.2 208.6 1191.7 209.1 1187.8C209.6 1183.9 210.9 1180 212.9 1175.7C214.9 1171.4 217.5 1166 221.2 1161.8C224.9 1157.6 229.9 1153.9 235.1 1150.5C240.3 1147.2 246.4 1144.5 252.4 1141.9C258.5 1139.3 265.7 1136.4 271.5 1134.9C277.3 1133.5 283.2 1132.5 287.1 1133.2C291 1133.9 293.5 1136.5 294.9 1139.3C296.4 1142 296.8 1145.6 295.8 1149.7C294.8 1153.7 292 1159.5 288.8 1163.6C285.7 1167.6 281.6 1170.9 276.7 1174C271.8 1177 265.1 1179.4 259.4 1181.8C253.6 1184.1 247.2 1185.8 242 1187.8C236.8 1189.9 232.2 1192 228.1 1193.9C224.1 1195.8 220.8 1198.6 217.7 1199.5C214.7 1200.3 211.4 1201 209.9 1199.1Z" fill="none" stroke="#6b4ea6" stroke-width="1.7"/><path d="M220.6 1193C219.5 1191.6 219.6 1187.4 219.9 1184.5C220.3 1181.5 221.3 1178.6 222.8 1175.3C224.4 1172 226.4 1167.9 229.2 1164.7C232 1161.6 235.7 1158.7 239.7 1156.2C243.6 1153.7 248.2 1151.6 252.8 1149.6C257.4 1147.6 262.9 1145.5 267.3 1144.4C271.7 1143.3 276.2 1142.5 279.2 1143C282.1 1143.6 284 1145.6 285.1 1147.6C286.2 1149.7 286.5 1152.5 285.7 1155.5C285 1158.6 282.9 1163 280.5 1166.1C278.1 1169.1 275 1171.7 271.3 1174C267.5 1176.3 262.5 1178.1 258.1 1179.9C253.7 1181.6 248.9 1182.9 244.9 1184.5C241 1186 237.5 1187.6 234.4 1189.1C231.4 1190.6 228.8 1192.6 226.5 1193.3C224.2 1194 221.7 1194.5 220.6 1193Z" fill="none" stroke="#6b4ea6" stroke-width="1.7"/><path d="M228.7 1168C229.2 1164.5 232 1159.3 236.2 1156C240.5 1152.8 248.7 1149.5 254.2 1148.5C259.6 1147.5 266.4 1147.8 269.1 1150C271.8 1152.3 271.8 1158 270.6 1162C269.4 1166 265.9 1171.2 261.6 1174C257.4 1176.7 249.9 1177.9 245.2 1178.4C240.5 1178.9 236 1178.7 233.2 1176.9C230.5 1175.2 228.2 1171.5 228.7 1168Z" fill="none" stroke="#6b4ea6" stroke-width="1.7"/><path d="M209.3 1176.9C210.6 1172 215.3 1161.7 221.3 1156C227.2 1150.3 237.2 1145.3 245.2 1142.6C253.2 1139.8 263.4 1138.1 269.1 1139.6C274.8 1141.1 278.6 1146.3 279.6 1151.5C280.6 1156.8 278.8 1165.5 275.1 1171C271.3 1176.4 264.1 1181.4 257.1 1184.4C250.2 1187.4 240.5 1188.7 233.2 1188.9C226 1189.2 217.8 1187.9 213.8 1185.9C209.8 1183.9 208.1 1181.9 209.3 1176.9Z" fill="none" stroke="#6b4ea6" stroke-width="1.7"/><path d="M376.7 976.6C376.7 972.5 382.7 971.5 388.7 973C394.7 974.5 408.2 981 412.6 985.6C417 990.2 416.4 996.3 415 1000.5C413.6 1004.8 408.6 1011.5 404.3 1011C399.9 1010.5 393.3 1003.3 388.7 997.5C384.1 991.8 376.7 980.7 376.7 976.6Z" fill="none" stroke="#6b4ea6" stroke-width="1.7"/><path d="M195 1200.3C195 1201.3 194.5 1202.5 193.9 1203.2C193.3 1203.9 192.2 1204.5 191.4 1204.5C190.5 1204.5 189.4 1203.9 188.8 1203.2C188.2 1202.5 187.8 1201.3 187.8 1200.3C187.8 1199.3 188.2 1198 188.8 1197.3C189.4 1196.6 190.5 1196.1 191.4 1196.1C192.2 1196.1 193.3 1196.6 193.9 1197.3C194.5 1198 195 1199.3 195 1200.3Z" fill="none" stroke="#6b4ea6" stroke-width="1.7"/><path d="M245 24zm-144 10zm164 11zm-61 12zm42 2zm-112 14zm19 9zm35 6zm-33 1zm108 6zm-164 8zm71 4zm94 1zm-172 5zm200 5zm-78 5zm-21 1zm46 3zm-14 3zm-132 6zm91 3zm-8 2zm-31 2zm43 4zm28 2zm-40 4zm-15 5zm-39 4zm54 5zm71 12zm-154 1zm3 4zm16 3zm133 2zm-14 2zm-92 1zm136 4zm-109 1zm-17 3zm13 2zm66 1zm-18 2zm-37 7zm104 2zm-101 3zm-18 11zm5 0zm-80 2zm122 0zm81 0zm-129 2zm-87 1zm65 0zm62 12zm54 8zm-46 4zm77 4zm-56 11zm-154 1zm-8 3z" stroke="#3a2d66" stroke-width="1.3" stroke-linecap="square" fill="none" transform="translate(146 912)"/><path d="M635.5 1188.9C632.2 1184.9 632 1181.4 634 1174C636 1166.5 642.2 1154 647.4 1144.1C652.7 1134.1 658.4 1122.1 665.4 1114.2C672.4 1106.2 682.8 1099.8 689.3 1096.2C695.8 1092.6 698.3 1092.1 704.3 1092.6C710.2 1093.1 719.2 1095.6 725.2 1099.2C731.2 1102.8 737.1 1108.2 740.1 1114.2C743.1 1120.1 741.6 1128.1 743.1 1135.1C744.6 1142.1 746.1 1151.5 749.1 1156C752.1 1160.5 758.8 1159 761.1 1162C763.3 1165 764.6 1170.2 762.6 1174C760.6 1177.7 755.3 1182.2 749.1 1184.4C742.9 1186.7 733.2 1187.2 725.2 1187.4C717.2 1187.7 709.2 1184.9 701.3 1185.9C693.3 1186.9 685.3 1191.4 677.3 1193.4C669.4 1195.4 660.4 1198.6 653.4 1197.9C646.4 1197.1 638.7 1192.9 635.5 1188.9Z" fill="none" stroke="#6b4ea6" stroke-width="1.7"/><path d="M640.6 1185.6C637.7 1182 637.4 1178.9 639.2 1172.2C641 1165.4 646.6 1154.2 651.3 1145.3C656 1136.3 661.2 1125.5 667.5 1118.3C673.8 1111.2 683.2 1105.4 689 1102.2C694.8 1099 697.1 1098.5 702.5 1099C707.8 1099.4 715.9 1101.7 721.3 1104.9C726.7 1108.1 732.1 1113 734.8 1118.3C737.4 1123.7 737.4 1130.5 737.4 1137.2C737.4 1143.9 734.8 1153.3 734.8 1158.7C734.8 1164.1 738.8 1166.1 737.4 1169.5C736.1 1172.8 732.1 1177.1 726.7 1178.9C721.3 1180.7 713.2 1178.4 705.2 1180.2C697.1 1182 686.3 1187.4 678.2 1189.7C670.2 1191.9 663 1194.4 656.7 1193.7C650.4 1193 643.5 1189.2 640.6 1185.6Z" fill="none" stroke="#6b4ea6" stroke-width="1.7"/><path d="M645.7 1182.3C643.1 1179.1 642.9 1176.3 644.5 1170.4C646 1164.4 651 1154.4 655.2 1146.4C659.4 1138.5 664 1128.9 669.6 1122.5C675.2 1116.1 683.5 1111 688.7 1108.2C693.9 1105.3 695.9 1104.9 700.7 1105.3C705.5 1105.7 712.6 1107.7 717.4 1110.6C722.2 1113.4 727 1117.7 729.4 1122.5C731.8 1127.3 731.8 1133.3 731.8 1139.3C731.8 1145.3 729.4 1153.6 729.4 1158.4C729.4 1163.2 733 1165 731.8 1168C730.6 1171 727 1174.8 722.2 1176.3C717.4 1177.9 710.2 1176 703.1 1177.5C695.9 1179.1 686.3 1183.9 679.1 1185.9C672 1187.9 665.6 1190.1 660 1189.5C654.4 1188.9 648.2 1185.5 645.7 1182.3Z" fill="none" stroke="#6b4ea6" stroke-width="1.7"/><path d="M650.7 1179C648.5 1176.3 648.3 1173.8 649.7 1168.6C651.1 1163.3 655.4 1154.6 659.1 1147.6C662.8 1140.7 666.8 1132.3 671.7 1126.7C676.5 1121.1 683.9 1116.7 688.4 1114.2C692.9 1111.6 694.7 1111.3 698.9 1111.6C703.1 1112 709.3 1113.7 713.5 1116.2C717.7 1118.8 721.9 1122.5 724 1126.7C726.1 1130.9 726.1 1136.1 726.1 1141.4C726.1 1146.6 724 1153.9 724 1158.1C724 1162.3 727.1 1163.9 726.1 1166.5C725 1169.1 721.9 1172.4 717.7 1173.8C713.5 1175.2 707.2 1173.5 701 1174.9C694.7 1176.3 686.3 1180.4 680 1182.2C673.8 1183.9 668.2 1185.8 663.3 1185.3C658.4 1184.8 653 1181.8 650.7 1179Z" fill="none" stroke="#6b4ea6" stroke-width="1.7"/><path d="M655.8 1175.8C653.9 1173.4 653.7 1171.3 654.9 1166.8C656.1 1162.3 659.9 1154.8 663 1148.8C666.1 1142.9 669.6 1135.7 673.8 1130.9C677.9 1126.1 684.2 1122.3 688.1 1120.1C692 1118 693.5 1117.7 697.1 1118C700.7 1118.3 706 1119.8 709.6 1121.9C713.2 1124.1 716.8 1127.3 718.6 1130.9C720.4 1134.5 720.4 1139 720.4 1143.5C720.4 1147.9 718.6 1154.2 718.6 1157.8C718.6 1161.4 721.3 1162.7 720.4 1165C719.5 1167.2 716.8 1170.1 713.2 1171.3C709.6 1172.5 704.3 1171 698.9 1172.2C693.5 1173.4 686.3 1176.9 680.9 1178.4C675.6 1179.9 670.8 1181.6 666.6 1181.1C662.4 1180.7 657.8 1178.1 655.8 1175.8Z" fill="none" stroke="#6b4ea6" stroke-width="1.7"/><path d="M660.9 1172.5C659.3 1170.5 659.2 1168.7 660.2 1165C661.1 1161.2 664.3 1155 666.9 1150C669.5 1145.1 672.4 1139.1 675.8 1135.1C679.3 1131.1 684.6 1127.9 687.8 1126.1C691 1124.3 692.3 1124.1 695.3 1124.3C698.3 1124.6 702.8 1125.8 705.8 1127.6C708.7 1129.4 711.7 1132.1 713.2 1135.1C714.7 1138.1 714.7 1141.8 714.7 1145.6C714.7 1149.3 713.2 1154.5 713.2 1157.5C713.2 1160.5 715.5 1161.6 714.7 1163.5C714 1165.4 711.7 1167.7 708.7 1168.7C705.8 1169.7 701.3 1168.5 696.8 1169.5C692.3 1170.5 686.3 1173.5 681.8 1174.7C677.3 1176 673.4 1177.3 669.9 1176.9C666.4 1176.6 662.5 1174.5 660.9 1172.5Z" fill="none" stroke="#6b4ea6" stroke-width="1.7"/><path d="M666 1169.2C664.7 1167.6 664.6 1166.2 665.4 1163.2C666.2 1160.2 668.7 1155.2 670.8 1151.2C672.9 1147.2 675.2 1142.5 677.9 1139.3C680.7 1136.1 684.9 1133.5 687.5 1132.1C690.1 1130.7 691.1 1130.5 693.5 1130.7C695.9 1130.9 699.5 1131.9 701.9 1133.3C704.3 1134.7 706.6 1136.9 707.8 1139.3C709 1141.7 709 1144.7 709 1147.6C709 1150.6 707.8 1154.8 707.8 1157.2C707.8 1159.6 709.6 1160.5 709 1162C708.4 1163.5 706.6 1165.4 704.3 1166.2C701.9 1167 698.3 1166 694.7 1166.8C691.1 1167.6 686.3 1170 682.7 1171C679.1 1172 675.9 1173.1 673.2 1172.8C670.4 1172.5 667.3 1170.8 666 1169.2Z" fill="none" stroke="#6b4ea6" stroke-width="1.7"/><path d="M675.8 1147C675.6 1143.3 676.6 1139.3 678.8 1136.6C681.1 1133.8 685.8 1131.1 689.3 1130.6C692.8 1130.1 697.9 1130.9 699.8 1133.6C701.7 1136.3 701.7 1143.1 700.7 1147C699.7 1151 697.2 1155.5 693.8 1157.5C690.4 1159.5 683.3 1160.8 680.3 1159C677.3 1157.3 676.1 1150.8 675.8 1147Z" fill="none" stroke="#6b4ea6" stroke-width="1.7"/><path d="M183 193zm67 2zm-79 1zm31 1zm-4 3zm65 0zm-84 1zm40 2zm-54 5zm61 5zm-53 4zm-2 6zm49 1zm23 4zm-65 1zm28 2zm52 1zm-55 3zm-33 4zm-8 1zm13 1zm85 3zm-73 3zm60 0zm-29 1zm3 3zm2 2zm-4 2zm-28 2zm46 3zm-20 3zm-13 4zm35 1zm-5 1zm24 3zm-13 3zm-62 10zm9 2zm33 0z" stroke="#3a2d66" stroke-width="1.3" stroke-linecap="square" fill="none" transform="translate(560 914)"/><path d="M1038.5 1221.8C1038.7 1217.8 1038 1208.3 1040 1197.9C1042 1187.4 1046.2 1170.5 1050.4 1159C1054.7 1147.5 1059.9 1138.6 1065.4 1129.1C1070.9 1119.6 1077.3 1108.4 1083.3 1102.2C1089.3 1096 1096 1092.2 1101.3 1091.7C1106.5 1091.2 1112.2 1096 1114.7 1099.2C1117.2 1102.4 1117.2 1107.2 1116.2 1111.2C1115.2 1115.2 1108.7 1118.6 1108.7 1123.1C1108.7 1127.6 1114 1132.1 1116.2 1138.1C1118.5 1144.1 1121 1151.5 1122.2 1159C1123.4 1166.5 1124.7 1175.5 1123.7 1182.9C1122.7 1190.4 1120 1198.4 1116.2 1203.9C1112.5 1209.3 1106.2 1212.7 1101.3 1215.8C1096.3 1219 1088.8 1221.5 1086.3 1222.7" fill="none" stroke="#6b4ea6" stroke-width="1.7"/><path d="M1043 1222.7C1043.2 1218.6 1042.7 1207.5 1044.5 1197.9C1046.2 1188.3 1049.9 1174.5 1053.4 1165C1056.9 1155.5 1060.9 1148 1065.4 1141.1C1069.9 1134.1 1075.6 1126.6 1080.3 1123.1C1085.1 1119.6 1090.1 1118.6 1093.8 1120.1C1097.5 1121.6 1100.3 1126.1 1102.8 1132.1C1105.3 1138.1 1107.5 1148 1108.7 1156C1110 1164 1111 1172.5 1110.2 1179.9C1109.5 1187.4 1107.2 1195.4 1104.3 1200.9C1101.3 1206.4 1096.8 1209.2 1092.3 1212.8C1087.8 1216.5 1079.8 1221.1 1077.3 1222.7" fill="none" stroke="#6b4ea6" stroke-width="1.7"/><path d="M1050.4 1203.9C1048.4 1198.6 1051.4 1184.9 1053.4 1176.9C1055.4 1169 1058.9 1161.7 1062.4 1156C1065.9 1150.3 1070.4 1145.1 1074.4 1142.6C1078.3 1140.1 1083.1 1139.3 1086.3 1141.1C1089.6 1142.8 1091.9 1147.5 1093.8 1153C1095.7 1158.5 1097.7 1167.2 1097.7 1174C1097.7 1180.7 1096.2 1188.4 1093.8 1193.4C1091.4 1198.4 1088.1 1201.4 1083.3 1203.9C1078.6 1206.4 1070.9 1208.3 1065.4 1208.3C1059.9 1208.3 1052.4 1209.1 1050.4 1203.9Z" fill="none" stroke="#6b4ea6" stroke-width="1.7"/><path d="M1054.2 1200C1052.6 1195.6 1055.1 1183.9 1056.8 1177.2C1058.5 1170.4 1061.4 1164.3 1064.4 1159.4C1067.4 1154.5 1071.2 1150.1 1074.6 1147.9C1078 1145.8 1082 1145.2 1084.7 1146.7C1087.5 1148.2 1089.5 1152.2 1091.1 1156.8C1092.7 1161.5 1094.4 1168.9 1094.4 1174.6C1094.4 1180.3 1093.1 1186.9 1091.1 1191.2C1089.1 1195.4 1086.2 1197.9 1082.2 1200C1078.2 1202.2 1071.6 1203.9 1067 1203.9C1062.3 1203.9 1055.9 1204.5 1054.2 1200Z" fill="none" stroke="#6b4ea6" stroke-width="1.7"/><path d="M1058.1 1196.2C1056.7 1192.6 1058.8 1183 1060.2 1177.4C1061.5 1171.8 1064 1166.8 1066.4 1162.7C1068.9 1158.7 1072 1155.1 1074.8 1153.3C1077.6 1151.6 1080.9 1151.1 1083.2 1152.3C1085.4 1153.5 1087.1 1156.8 1088.4 1160.7C1089.7 1164.5 1091.1 1170.6 1091.1 1175.3C1091.1 1180 1090.1 1185.4 1088.4 1188.9C1086.7 1192.4 1084.4 1194.5 1081.1 1196.2C1077.8 1198 1072.4 1199.4 1068.5 1199.4C1064.7 1199.4 1059.5 1199.9 1058.1 1196.2Z" fill="none" stroke="#6b4ea6" stroke-width="1.7"/><path d="M1061.9 1192.4C1060.8 1189.5 1062.4 1182 1063.5 1177.6C1064.6 1173.2 1066.5 1169.3 1068.4 1166.1C1070.4 1163 1072.8 1160.1 1075 1158.7C1077.2 1157.3 1079.8 1156.9 1081.6 1157.9C1083.4 1158.8 1084.7 1161.4 1085.7 1164.5C1086.8 1167.5 1087.9 1172.3 1087.9 1176C1087.9 1179.7 1087 1183.9 1085.7 1186.7C1084.4 1189.4 1082.6 1191.1 1080 1192.4C1077.4 1193.8 1073.1 1194.9 1070.1 1194.9C1067.1 1194.9 1063 1195.3 1061.9 1192.4Z" fill="none" stroke="#6b4ea6" stroke-width="1.7"/><path d="M1065.7 1188.6C1064.9 1186.5 1066.1 1181 1066.9 1177.8C1067.7 1174.7 1069.1 1171.8 1070.5 1169.5C1071.9 1167.2 1073.7 1165.1 1075.3 1164.1C1076.8 1163.1 1078.7 1162.8 1080 1163.5C1081.3 1164.2 1082.3 1166.1 1083 1168.3C1083.8 1170.5 1084.6 1174 1084.6 1176.6C1084.6 1179.3 1084 1182.4 1083 1184.4C1082.1 1186.4 1080.7 1187.6 1078.8 1188.6C1076.9 1189.6 1073.9 1190.4 1071.7 1190.4C1069.5 1190.4 1066.5 1190.7 1065.7 1188.6Z" fill="none" stroke="#6b4ea6" stroke-width="1.7"/><path d="M1069.5 1184.8C1069 1183.5 1069.7 1180.1 1070.2 1178.1C1070.7 1176.1 1071.6 1174.3 1072.5 1172.8C1073.4 1171.4 1074.5 1170.1 1075.5 1169.5C1076.5 1168.8 1077.7 1168.7 1078.5 1169.1C1079.3 1169.5 1079.9 1170.7 1080.3 1172.1C1080.8 1173.5 1081.3 1175.6 1081.3 1177.3C1081.3 1179 1080.9 1180.9 1080.3 1182.2C1079.7 1183.4 1078.9 1184.2 1077.7 1184.8C1076.5 1185.4 1074.6 1185.9 1073.2 1185.9C1071.9 1185.9 1070 1186.1 1069.5 1184.8Z" fill="none" stroke="#6b4ea6" stroke-width="1.7"/><path d="M1051.9 1222.7C1053.2 1221.3 1055.7 1216.2 1059.4 1214.3C1063.1 1212.4 1069.4 1211.1 1074.4 1211.3C1079.3 1211.6 1085.6 1213.9 1089.3 1215.8C1093 1217.7 1095.5 1221.5 1096.8 1222.7" fill="none" stroke="#6b4ea6" stroke-width="1.7"/><path d="M152 192zm47 5zm1 6zm-29 1zm23 3zm-1 2zm8 1zm6 0zm-48 1zm-7 4zm70 5zm-47 4zm-10 3zm33 0zm-15 3zm16 0zm-11 3zm-2 2zm1 0zm-11 1zm35 9zm-43 1zm58 6zm-49 5zm12 1zm24 1zm-38 5zm2 1zm42 0zm-64 1zm15 2zm-23 2zm28 0zm-10 7zm40 3zm22 1zm-55 1zm-24 1zm17 1zm7 3z" stroke="#3a2d66" stroke-width="1.3" stroke-linecap="square" fill="none" transform="translate(967 917)"/><path d="M160 1646.3C159 1643.1 159.2 1637.1 161.5 1632.8C163.7 1628.6 167.9 1623.6 173.4 1620.9C178.9 1618.1 184.9 1617.4 194.4 1616.4C203.8 1615.4 223.9 1613.6 230.2 1614.9C236.6 1616.1 234.1 1620.4 232.6 1623.9C231.1 1627.3 226.1 1632.1 221.3 1635.8C216.4 1639.6 208.3 1643.6 203.3 1646.3C198.3 1648.9 197.3 1650.8 191.4 1651.7C185.4 1652.6 172.7 1652.6 167.4 1651.7C162.2 1650.8 161 1649.4 160 1646.3Z" fill="none" stroke="#1fa650" stroke-width="1.7"/><path d="M201.2 1638.8C201.2 1641.4 200.2 1644.3 198.5 1646.6C196.8 1648.8 194 1651 191.1 1652.3C188.1 1653.6 184.3 1654.4 180.9 1654.4C177.5 1654.4 173.7 1653.6 170.7 1652.3C167.8 1651 165 1648.8 163.3 1646.6C161.6 1644.3 160.6 1641.4 160.6 1638.8C160.6 1636.2 161.6 1633.3 163.3 1631C165 1628.8 167.8 1626.6 170.7 1625.3C173.7 1624 177.5 1623.3 180.9 1623.3C184.3 1623.3 188.1 1624 191.1 1625.3C194 1626.6 196.8 1628.8 198.5 1631C200.2 1633.3 201.2 1636.2 201.2 1638.8Z" fill="none" stroke="#1fa650" stroke-width="1.7"/><path d="M195.8 1639.7C195.8 1641.8 195.1 1644.2 193.8 1646C192.5 1647.8 190.3 1649.5 188.1 1650.6C185.8 1651.6 182.9 1652.3 180.3 1652.3C177.7 1652.3 174.8 1651.6 172.5 1650.6C170.3 1649.5 168.1 1647.8 166.8 1646C165.5 1644.2 164.8 1641.8 164.8 1639.7C164.8 1637.6 165.5 1635.2 166.8 1633.4C168.1 1631.6 170.3 1629.9 172.5 1628.8C174.8 1627.8 177.7 1627.1 180.3 1627.1C182.9 1627.1 185.8 1627.8 188.1 1628.8C190.3 1629.9 192.5 1631.6 193.8 1633.4C195.1 1635.2 195.8 1637.6 195.8 1639.7Z" fill="none" stroke="#1fa650" stroke-width="1.7"/><path d="M191.4 1640.3C191.4 1642.1 190.8 1644.1 189.8 1645.7C188.8 1647.2 187.1 1648.7 185.4 1649.6C183.7 1650.5 181.4 1651.1 179.4 1651.1C177.4 1651.1 175.2 1650.5 173.4 1649.6C171.7 1648.7 170 1647.2 169 1645.7C168 1644.1 167.4 1642.1 167.4 1640.3C167.4 1638.5 168 1636.5 169 1634.9C170 1633.4 171.7 1631.9 173.4 1631C175.2 1630.1 177.4 1629.5 179.4 1629.5C181.4 1629.5 183.7 1630.1 185.4 1631C187.1 1631.9 188.8 1633.4 189.8 1634.9C190.8 1636.5 191.4 1638.5 191.4 1640.3Z" fill="#1fa650" stroke="#1fa650" stroke-width="1.7"/><path d="M185.1 1638.2C185.1 1638.9 184.6 1639.8 183.9 1640.3C183.2 1640.8 181.9 1641.2 180.9 1641.2C179.9 1641.2 178.6 1640.8 177.9 1640.3C177.2 1639.8 176.7 1638.9 176.7 1638.2C176.7 1637.5 177.2 1636.6 177.9 1636.1C178.6 1635.6 179.9 1635.2 180.9 1635.2C181.9 1635.2 183.2 1635.6 183.9 1636.1C184.6 1636.6 185.1 1637.5 185.1 1638.2Z" fill="none" stroke="#9fdcb4" stroke-width="1"/><path d="M301 1602l-1-2l-2-1l-7 3l-13-11l2-2l7-2l5-7l-6-6l-3-7l-6-1l-4-2l-5 1l-2 2l-5 0l-2 1l-2 5l-2 2l-2 0l-7-5l-10-1l-1 1l-4 0l-11 6l-6 1l-1 2l5 4l0 3l-3 3l-4-1l-2-2l-5-1l-6-7l-6 1l0 2l4 3l0 4l-2 2l-3 0l-3-3l0-4l-1-1l-6-1l-5 5l-1 11l-3 5l-1 6l-3 6l-2 2l-7-1l-4 2l-2-1l-3 1l0 22l2 0l3 2l4 0l4-3l4 0l2 4l6 5l3 0l5-2l26 0l3 2l2 0l4-2l8-7l6 0l3 2l3 0l-1-2l0-3l1-1l9 0l5-5l11 0l7-4l6 0l6-9l0-3l2-5l3-3l4-2l6 5l3 1l1-1zM180 1634l3-1l2 3l-3 2l-2-2zM224 1628l1-1l1 2l-1 1zM156 1619l3 2l6 0l2 2l0 9l-1 1l-5-1l-4-5l-4-3l0-2zM186 1607l1 1l0 3l-5 6l-4 0l-4-4l4-5l2-1zM232 1605l2 2l-1 5l-3 3l-4-1l-2-2l1-4l4-3zM267 1575l2 2l0 4l1 1l-2 7l-4 4l-13 3l-3-3l1-6l5-3l3-7zM191 1560l-4 1l-1 3l2 2l3-1zM232 1515l0 2l3 2l0-3z" fill="url(#pn0)" fill-rule="evenodd"/><path d="M171 1624l0 4l2 3l2 1l10-4l-1-3l-7-4l-3 0zM220 1621l-5-2l-3-3l-4 0l-4 4l-8 3l-7 6l0 9l3 2l14 0l4-2l4-6l2-6l4-3zM253 1600l-3 3l-3 6l11 6l4-3l0-3l-5-4l0-3l1-1l-1-2zM267 1598l0 3l3 1l-1-4zM242 1584l-4-1l-7 2l-4 2l-5 5l-10 3l0 3l3 6l5 2l7-4l4-1l6-5l7 0l1-4z" fill="url(#pn1)" fill-rule="evenodd"/><path d="M192 1634l1 2l3 1l1-1l7 0l6-5l1-4l-2-2l-10 0l-6 6zM237 1590l-1-1l-6 1l-1 1l0 4l5-1z" fill="url(#pn2)" fill-rule="evenodd"/><path d="M631 1623.9C630 1620.6 627.8 1616.4 629.5 1611.9C631.2 1607.4 636.5 1601.2 641.5 1596.9C646.4 1592.7 653.9 1588.7 659.4 1586.5C664.9 1584.2 671.1 1582.2 674.4 1583.5C677.6 1584.7 678.8 1589.2 678.8 1594C678.8 1598.7 677.1 1605.9 674.4 1611.9C671.6 1617.9 666.9 1625.9 662.4 1629.8C657.9 1633.8 651.9 1635.6 647.4 1635.8C643 1636.1 638.2 1633.3 635.5 1631.3C632.7 1629.3 632 1627.1 631 1623.9Z" fill="none" stroke="#1fa650" stroke-width="1.7"/><path d="M661.5 1615.5C661.5 1618 660.7 1620.8 659.4 1623C658.1 1625.1 656 1627.2 653.7 1628.4C651.5 1629.7 648.5 1630.4 645.9 1630.4C643.4 1630.4 640.4 1629.7 638.2 1628.4C635.9 1627.2 633.8 1625.1 632.5 1623C631.2 1620.8 630.4 1618 630.4 1615.5C630.4 1613 631.2 1610.2 632.5 1608C633.8 1605.9 635.9 1603.8 638.2 1602.5C640.4 1601.3 643.4 1600.5 645.9 1600.5C648.5 1600.5 651.5 1601.3 653.7 1602.5C656 1603.8 658.1 1605.9 659.4 1608C660.7 1610.2 661.5 1613 661.5 1615.5Z" fill="none" stroke="#1fa650" stroke-width="1.7"/><path d="M657 1616.4C657 1618.3 656.4 1620.4 655.4 1622.1C654.4 1623.7 652.8 1625.3 651 1626.2C649.3 1627.2 647 1627.7 645.1 1627.7C643.1 1627.7 640.8 1627.2 639.1 1626.2C637.3 1625.3 635.7 1623.7 634.7 1622.1C633.7 1620.4 633.1 1618.3 633.1 1616.4C633.1 1614.5 633.7 1612.3 634.7 1610.7C635.7 1609.1 637.3 1607.5 639.1 1606.5C640.8 1605.6 643.1 1605 645.1 1605C647 1605 649.3 1605.6 651 1606.5C652.8 1607.5 654.4 1609.1 655.4 1610.7C656.4 1612.3 657 1614.5 657 1616.4Z" fill="none" stroke="#1fa650" stroke-width="1.7"/><path d="M653.4 1617.3C653.4 1618.7 653 1620.3 652.2 1621.5C651.5 1622.7 650.2 1623.8 648.9 1624.5C647.6 1625.2 645.9 1625.7 644.5 1625.7C643 1625.7 641.3 1625.2 640 1624.5C638.7 1623.8 637.4 1622.7 636.7 1621.5C635.9 1620.3 635.5 1618.7 635.5 1617.3C635.5 1615.9 635.9 1614.3 636.7 1613.1C637.4 1611.9 638.7 1610.7 640 1610C641.3 1609.3 643 1608.9 644.5 1608.9C645.9 1608.9 647.6 1609.3 648.9 1610C650.2 1610.7 651.5 1611.9 652.2 1613.1C653 1614.3 653.4 1615.9 653.4 1617.3Z" fill="#1fa650" stroke="#1fa650" stroke-width="1.7"/><path d="M649.5 1615.5C649.5 1616.3 649.1 1617.4 648.5 1618C647.9 1618.6 646.8 1619.1 645.9 1619.1C645.1 1619.1 644 1618.6 643.4 1618C642.8 1617.4 642.4 1616.3 642.4 1615.5C642.4 1614.6 642.8 1613.5 643.4 1612.9C644 1612.4 645.1 1611.9 645.9 1611.9C646.8 1611.9 647.9 1612.4 648.5 1612.9C649.1 1613.5 649.5 1614.6 649.5 1615.5Z" fill="none" stroke="#9fdcb4" stroke-width="1"/><path d="M697 1560l-3 0l-1 1l-12-1l-2 2l-8 2l-2 2l0 4l-3 6l0 5l3 3l0 6l-3 6l1 13l8 5l1-1l0-8l1-1l3 0l4 3l-1 13l4 6l0 6l-1 2l2 2l4-1l3-3l0-4l4-3l7 0l3 2l5 0l8-4l4-5l0-9l-6-6l0-3l5-4l0-3l-13-14l0-6l-2-4l-2-2l-4-1zM711 1608l5-3l2 1l2 3l-3 3l-4 0l-2-2zM703 1598l3 0l2 2l-3 5l-3 0l-2-2l0-2zM700 1578l4-5l2 0l5 5l0 2l-3 2l-6 0l-2-2z" fill="url(#pn0)" fill-rule="evenodd"/><path d="M694 1568l-6 0l-3 3l-2 5l-2 2l-6 2l1 6l6 2l0 1l-5 4l0 4l3 4l7 5l1 3l-1 1l0 5l2 2l3-1l5-6l0-2l-4-7l1-3l6-4l3-4l0-2l-3-2l-3 0l-1 1l-3-1l0-5l5-8l-1-3z" fill="url(#pn1)" fill-rule="evenodd"/><path d="M683 1597l1 2l3 0l-1-3zM688 1578l-2 1l-1 2l1 2l2 0l1-2z" fill="url(#pn2)" fill-rule="evenodd"/><path d="M1032.5 1646.3C1032 1643.4 1031.5 1639.3 1034 1635.8C1036.5 1632.3 1042.2 1628.1 1047.4 1625.4C1052.7 1622.6 1060.9 1619.6 1065.4 1619.4C1069.9 1619.1 1072.3 1621.4 1074.4 1623.9C1076.4 1626.4 1079.2 1630.6 1077.9 1634.3C1076.7 1638.1 1071.5 1643.2 1066.9 1646.3C1062.3 1649.4 1055.4 1651.8 1050.4 1652.9C1045.5 1654 1040 1654 1037 1652.9C1034 1651.8 1033 1649.1 1032.5 1646.3Z" fill="none" stroke="#1fa650" stroke-width="1.7"/><path d="M1034 1646.3C1032.2 1643.5 1034.2 1637.6 1037 1634.3C1039.7 1631.1 1045.5 1628.6 1050.4 1626.8C1055.4 1625.1 1063.4 1623.1 1066.9 1623.9C1070.4 1624.6 1072.1 1628.1 1071.4 1631.3C1070.6 1634.6 1066.4 1640.1 1062.4 1643.3C1058.4 1646.5 1052.2 1650.3 1047.4 1650.8C1042.7 1651.3 1035.7 1649 1034 1646.3Z" fill="none" stroke="#1fa650" stroke-width="1.7"/><path d="M1057.6 1641.2C1057.6 1643 1057 1645 1055.9 1646.6C1054.9 1648.1 1053.1 1649.6 1051.3 1650.5C1049.5 1651.4 1047.1 1652 1045.1 1652C1043 1652 1040.6 1651.4 1038.8 1650.5C1037 1649.6 1035.2 1648.1 1034.2 1646.6C1033.1 1645 1032.5 1643 1032.5 1641.2C1032.5 1639.4 1033.1 1637.4 1034.2 1635.8C1035.2 1634.3 1037 1632.8 1038.8 1631.9C1040.6 1631 1043 1630.4 1045.1 1630.4C1047.1 1630.4 1049.5 1631 1051.3 1631.9C1053.1 1632.8 1054.9 1634.3 1055.9 1635.8C1057 1637.4 1057.6 1639.4 1057.6 1641.2Z" fill="#1fa650" stroke="#1fa650" stroke-width="1.7"/><path d="M1050.1 1641.8C1050.1 1642.8 1049.6 1644.1 1048.9 1644.8C1048.2 1645.5 1046.9 1646 1045.9 1646C1045 1646 1043.7 1645.5 1043 1644.8C1042.3 1644.1 1041.8 1642.8 1041.8 1641.8C1041.8 1640.8 1042.3 1639.5 1043 1638.8C1043.7 1638.1 1045 1637.6 1045.9 1637.6C1046.9 1637.6 1048.2 1638.1 1048.9 1638.8C1049.6 1639.5 1050.1 1640.8 1050.1 1641.8Z" fill="none" stroke="#9fdcb4" stroke-width="1"/><path d="M1069 1555l-2 2l0 7l-3 5l1 11l-3 5l0 4l4 8l0 5l-3 5l0 6l5 7l0 3l-2 2l-2 8l5 12l3 2l4 0l8-9l4 2l7 0l1-1l3 1l5 6l9 0l3-1l5-8l6 0l2-1l0-3l-3-3l-11-1l-6-4l-12 0l-2 1l-4 5l-2 0l-6-6l-5-3l1-3l6-8l5 3l2 0l5-6l5-1l2-2l1-11l-3 0l-1 1l-1 5l-2 3l-3 2l-6-1l-2-2l-1-5l-8-6l0-3l2-3l0-6l-4-3l1-13l-2-4l-4-4zM1071 1544l-1 0l-2 3l1 2l1 0l2-3z" fill="url(#pn0)" fill-rule="evenodd"/><path d="M1099 1632l0 2l9 5l2-1l1-2l0-3l-3-3l-4-1zM1076 1599l-5 1l-5 10l2 5l2 2l6 0l2-2l1-6zM1074 1583l-5 4l1 3l2-1zM1072 1565l-1 1l1 3l1-2z" fill="url(#pn1)" fill-rule="evenodd"/><path d="M1071 1605l-2 6l2 3l4 0l1-6l-2-3z" fill="url(#pn2)" fill-rule="evenodd"/><path d="M140.5 745L158.5 660.7L246.7 559.6L343.9 502.2L428.5 540.2L427 659.8L375.9 742L199.7 794.3L143.5 794.3Z" fill="none" stroke="#000" stroke-width="2.4" stroke-linejoin="round"/><path d="M140 794.3h-9M140 794.3v9M140 782.6h-4.5M151.7 794.3v4.5M140 770.8h-4.5M163.5 794.3v4.5M140 759.1h-4.5M175.2 794.3v4.5M140 747.4h-4.5M187 794.3v4.5M140 735.7h-9M198.7 794.3v9M140 723.9h-4.5M210.4 794.3v4.5M140 712.2h-4.5M222.2 794.3v4.5M140 700.5h-4.5M233.9 794.3v4.5M140 688.7h-4.5M245.7 794.3v4.5M140 677h-9M257.4 794.3v9M140 665.3h-4.5M269.1 794.3v4.5M140 653.6h-4.5M280.9 794.3v4.5M140 641.8h-4.5M292.6 794.3v4.5M140 630.1h-4.5M304.4 794.3v4.5M140 618.4h-9M316.1 794.3v9M140 606.6h-4.5M327.8 794.3v4.5M140 594.9h-4.5M339.6 794.3v4.5M140 583.2h-4.5M351.3 794.3v4.5M140 571.4h-4.5M363.1 794.3v4.5M140 559.7h-9M374.8 794.3v9M140 548h-4.5M386.5 794.3v4.5M140 536.3h-4.5M398.3 794.3v4.5M140 524.5h-4.5M410 794.3v4.5M140 512.8h-4.5M421.8 794.3v4.5M140 501.1h-9M433.5 794.3v9M140 489.3h-4.5M445.3 794.3v4.5" stroke="#000" stroke-width="2.1" fill="none"/><rect x="140" y="487" width="307.6" height="307.3" fill="none" stroke="#000" stroke-width="2.2"/><g font-size="20.2"><text x="116.8" y="796.5" text-anchor="end">0</text><text x="140" y="823.3" text-anchor="middle">0</text><text x="132" y="744.4" text-anchor="end">50K</text><text x="200.2" y="823.3" text-anchor="middle">50K</text><text x="132" y="685.7" text-anchor="end">100K</text><text x="258.9" y="823.3" text-anchor="middle">100K</text><text x="132" y="627.1" text-anchor="end">150K</text><text x="317.6" y="823.3" text-anchor="middle">150K</text><text x="132" y="568.4" text-anchor="end">200K</text><text x="376.3" y="823.3" text-anchor="middle">200K</text><text x="132" y="509.8" text-anchor="end">250K</text><text x="435" y="823.3" text-anchor="middle">250K</text></g><text x="137.6" y="478.3" font-size="28">All events</text><text x="234" y="526.7" font-size="20.2" text-anchor="middle">Cells</text><text x="233.5" y="543.8" font-size="20.2" text-anchor="middle">90.7</text><path d="M555.7 795h-9M555.7 795v9M555.7 783.3h-4.5M567.5 795v4.5M555.7 771.5h-4.5M579.2 795v4.5M555.7 759.8h-4.5M591 795v4.5M555.7 748.1h-4.5M602.7 795v4.5M555.7 736.4h-9M614.5 795v9M555.7 724.6h-4.5M626.2 795v4.5M555.7 712.9h-4.5M638 795v4.5M555.7 701.2h-4.5M649.7 795v4.5M555.7 689.5h-4.5M661.5 795v4.5M555.7 677.7h-9M673.3 795v9M555.7 666h-4.5M685 795v4.5M555.7 654.3h-4.5M696.8 795v4.5M555.7 642.6h-4.5M708.5 795v4.5M555.7 630.8h-4.5M720.3 795v4.5M555.7 619.1h-9M732 795v9M555.7 607.4h-4.5M743.8 795v4.5M555.7 595.7h-4.5M755.5 795v4.5M555.7 583.9h-4.5M767.3 795v4.5M555.7 572.2h-4.5M779.1 795v4.5M555.7 560.5h-9M790.8 795v9M555.7 548.8h-4.5M802.6 795v4.5M555.7 537h-4.5M814.3 795v4.5M555.7 525.3h-4.5M826.1 795v4.5M555.7 513.6h-4.5M837.8 795v4.5M555.7 501.9h-9M849.6 795v9M555.7 490.1h-4.5M861.3 795v4.5" stroke="#000" stroke-width="2.1" fill="none"/><rect x="555.7" y="487.8" width="308" height="307.2" fill="none" stroke="#000" stroke-width="2.2"/><g font-size="20.2"><text x="532.5" y="797.2" text-anchor="end">0</text><text x="555.7" y="824" text-anchor="middle">0</text><text x="547.7" y="745.1" text-anchor="end">50K</text><text x="616" y="824" text-anchor="middle">50K</text><text x="547.7" y="686.4" text-anchor="end">100K</text><text x="674.8" y="824" text-anchor="middle">100K</text><text x="547.7" y="627.8" text-anchor="end">150K</text><text x="733.5" y="824" text-anchor="middle">150K</text><text x="547.7" y="569.2" text-anchor="end">200K</text><text x="792.3" y="824" text-anchor="middle">200K</text><text x="547.7" y="510.6" text-anchor="end">250K</text><text x="851.1" y="824" text-anchor="middle">250K</text></g><text x="554.2" y="478.3" font-size="28">Gated on cells</text><path d="M964.6 796.4h-9M964.6 796.4v9M964.6 784.7h-4.5M976.3 796.4v4.5M964.6 772.9h-4.5M988.1 796.4v4.5M964.6 761.2h-4.5M999.8 796.4v4.5M964.6 749.4h-4.5M1011.6 796.4v4.5M964.6 737.7h-9M1023.3 796.4v9M964.6 725.9h-4.5M1035.1 796.4v4.5M964.6 714.2h-4.5M1046.8 796.4v4.5M964.6 702.4h-4.5M1058.6 796.4v4.5M964.6 690.7h-4.5M1070.3 796.4v4.5M964.6 679h-9M1082 796.4v9M964.6 667.2h-4.5M1093.8 796.4v4.5M964.6 655.5h-4.5M1105.5 796.4v4.5M964.6 643.7h-4.5M1117.3 796.4v4.5M964.6 632h-4.5M1129 796.4v4.5M964.6 620.2h-9M1140.8 796.4v9M964.6 608.5h-4.5M1152.5 796.4v4.5M964.6 596.7h-4.5M1164.3 796.4v4.5M964.6 585h-4.5M1176 796.4v4.5M964.6 573.3h-4.5M1187.7 796.4v4.5M964.6 561.5h-9M1199.5 796.4v9M964.6 549.8h-4.5M1211.2 796.4v4.5M964.6 538h-4.5M1223 796.4v4.5M964.6 526.3h-4.5M1234.7 796.4v4.5M964.6 514.5h-4.5M1246.5 796.4v4.5M964.6 502.8h-9M1258.2 796.4v9M964.6 491h-4.5M1270 796.4v4.5" stroke="#000" stroke-width="2.1" fill="none"/><rect x="964.6" y="488.7" width="307.7" height="307.7" fill="none" stroke="#000" stroke-width="2.2"/><g font-size="20.2"><text x="941.4" y="798.6" text-anchor="end">0</text><text x="967.6" y="825.4" text-anchor="middle">0</text><text x="956.6" y="746.4" text-anchor="end">50K</text><text x="1027.8" y="825.4" text-anchor="middle">50K</text><text x="956.6" y="687.7" text-anchor="end">100K</text><text x="1086.5" y="825.4" text-anchor="middle">100K</text><text x="956.6" y="628.9" text-anchor="end">150K</text><text x="1145.3" y="825.4" text-anchor="middle">150K</text><text x="956.6" y="570.2" text-anchor="end">200K</text><text x="1204" y="825.4" text-anchor="middle">200K</text><text x="956.6" y="511.5" text-anchor="end">250K</text><text x="1262.7" y="825.4" text-anchor="middle">250K</text></g><text x="963.7" y="478.3" font-size="28">Gated on cells</text><rect x="623.8" y="688.2" width="77.5" height="104.1" fill="none" stroke="#000" stroke-width="2.2"/><text x="623" y="660.7" font-size="20.2" text-anchor="middle">Single cells 1</text><text x="621" y="677.7" font-size="20.2" text-anchor="middle">93.6</text><rect x="1029.5" y="710" width="57.7" height="87.3" fill="none" stroke="#000" stroke-width="2.2"/><text x="1029" y="679.2" font-size="20.2" text-anchor="middle">Single cells 2</text><text x="1027.4" y="697.2" font-size="20.2" text-anchor="middle">90.6</text><path d="M97.2 792.4L97.2 836.2L141 836.2" stroke="#231f20" stroke-width="2" fill="none"/><path d="M97.2 780.9l-9.2 17.5l9.2 -4.5l9.2 4.5z" fill="#231f20"/><path d="M151.8 836.2l-17.5 -9.2l4.5 9.2l-4.5 9.2z" fill="#231f20"/><text font-size="20.1" transform="translate(81.3 835.3) rotate(-90)">SSC-A</text><text x="95.7" y="862.5" font-size="20.1">FSC-A</text><path d="M509 786.4L509 831.7L554.6 831.7" stroke="#231f20" stroke-width="2" fill="none"/><path d="M509 774.9l-9.2 17.5l9.2 -4.5l9.2 4.5z" fill="#231f20"/><path d="M565.4 831.7l-17.5 -9.2l4.5 9.2l-4.5 9.2z" fill="#231f20"/><text font-size="20.1" transform="translate(494.4 828.7) rotate(-90)">FSC-H</text><text x="507.8" y="854.8" font-size="20.1">FSC-W</text><path d="M918 785.8L918 830.8L963.3 830.8" stroke="#231f20" stroke-width="2" fill="none"/><path d="M918 774.3l-9.2 17.5l9.2 -4.5l9.2 4.5z" fill="#231f20"/><path d="M974.1 830.8l-17.5 -9.2l4.5 9.2l-4.5 9.2z" fill="#231f20"/><text font-size="20.1" transform="translate(902.4 828.7) rotate(-90)">SSC-H</text><text x="915.9" y="854.2" font-size="20.1">SSC-W</text><path d="M147 1170.3L165 1086L253.2 984.9L350.4 927.5L435 965.5L433.5 1085.1L382.4 1167.3L206.2 1219.6L150 1219.6Z" fill="none" stroke="#000" stroke-width="2.4" stroke-linejoin="round"/><path d="M146.5 1218h-9M146.5 1218v9M146.5 1206.3h-4.5M158.2 1218v4.5M146.5 1194.7h-4.5M169.9 1218v4.5M146.5 1183h-4.5M181.7 1218v4.5M146.5 1171.3h-4.5M193.4 1218v4.5M146.5 1159.7h-9M205.1 1218v9M146.5 1148h-4.5M216.8 1218v4.5M146.5 1136.3h-4.5M228.5 1218v4.5M146.5 1124.7h-4.5M240.3 1218v4.5M146.5 1113h-4.5M252 1218v4.5M146.5 1101.3h-9M263.7 1218v9M146.5 1089.7h-4.5M275.4 1218v4.5M146.5 1078h-4.5M287.2 1218v4.5M146.5 1066.3h-4.5M298.9 1218v4.5M146.5 1054.6h-4.5M310.6 1218v4.5M146.5 1043h-9M322.3 1218v9M146.5 1031.3h-4.5M334 1218v4.5M146.5 1019.6h-4.5M345.8 1218v4.5M146.5 1008h-4.5M357.5 1218v4.5M146.5 996.3h-4.5M369.2 1218v4.5M146.5 984.6h-9M380.9 1218v9M146.5 973h-4.5M392.6 1218v4.5M146.5 961.3h-4.5M404.4 1218v4.5M146.5 949.6h-4.5M416.1 1218v4.5M146.5 938h-4.5M427.8 1218v4.5M146.5 926.3h-9M439.5 1218v9M146.5 914.6h-4.5M451.3 1218v4.5" stroke="#000" stroke-width="2.1" fill="none"/><rect x="146.5" y="912.3" width="307.1" height="305.7" fill="none" stroke="#000" stroke-width="2.2"/><g font-size="20.2"><text x="123.3" y="1220.2" text-anchor="end">0</text><text x="146.5" y="1247" text-anchor="middle">0</text><text x="138.5" y="1168.4" text-anchor="end">50K</text><text x="206.6" y="1247" text-anchor="middle">50K</text><text x="138.5" y="1110" text-anchor="end">100K</text><text x="265.2" y="1247" text-anchor="middle">100K</text><text x="138.5" y="1051.7" text-anchor="end">150K</text><text x="323.8" y="1247" text-anchor="middle">150K</text><text x="138.5" y="993.3" text-anchor="end">200K</text><text x="382.4" y="1247" text-anchor="middle">200K</text><text x="138.5" y="935" text-anchor="end">250K</text><text x="441" y="1247" text-anchor="middle">250K</text></g><text x="148.6" y="904.9" font-size="28">All events</text><text x="244.5" y="952.1" font-size="20.2" text-anchor="middle">Cells</text><text x="246" y="969.1" font-size="20.2" text-anchor="middle">90.7</text><path d="M559.2 1218.8h-9M559.2 1218.8v9M559.2 1207.2h-4.5M570.9 1218.8v4.5M559.2 1195.5h-4.5M582.6 1218.8v4.5M559.2 1183.9h-4.5M594.3 1218.8v4.5M559.2 1172.2h-4.5M606 1218.8v4.5M559.2 1160.6h-9M617.7 1218.8v9M559.2 1149h-4.5M629.4 1218.8v4.5M559.2 1137.3h-4.5M641.1 1218.8v4.5M559.2 1125.7h-4.5M652.8 1218.8v4.5M559.2 1114h-4.5M664.5 1218.8v4.5M559.2 1102.4h-9M676.2 1218.8v9M559.2 1090.7h-4.5M687.9 1218.8v4.5M559.2 1079.1h-4.5M699.6 1218.8v4.5M559.2 1067.5h-4.5M711.3 1218.8v4.5M559.2 1055.8h-4.5M723 1218.8v4.5M559.2 1044.2h-9M734.7 1218.8v9M559.2 1032.5h-4.5M746.4 1218.8v4.5M559.2 1020.9h-4.5M758.1 1218.8v4.5M559.2 1009.3h-4.5M769.8 1218.8v4.5M559.2 997.6h-4.5M781.5 1218.8v4.5M559.2 986h-9M793.2 1218.8v9M559.2 974.3h-4.5M804.9 1218.8v4.5M559.2 962.7h-4.5M816.6 1218.8v4.5M559.2 951.1h-4.5M828.3 1218.8v4.5M559.2 939.4h-4.5M840 1218.8v4.5M559.2 927.8h-9M851.7 1218.8v9M559.2 916.1h-4.5M863.4 1218.8v4.5" stroke="#000" stroke-width="2.1" fill="none"/><rect x="559.2" y="913.8" width="306.5" height="305" fill="none" stroke="#000" stroke-width="2.2"/><g font-size="20.2"><text x="536" y="1222" text-anchor="end">0</text><text x="563.7" y="1247.8" text-anchor="middle">0</text><text x="551.2" y="1170.3" text-anchor="end">50K</text><text x="623.7" y="1247.8" text-anchor="middle">50K</text><text x="551.2" y="1112.1" text-anchor="end">100K</text><text x="682.2" y="1247.8" text-anchor="middle">100K</text><text x="551.2" y="1053.9" text-anchor="end">150K</text><text x="740.7" y="1247.8" text-anchor="middle">150K</text><text x="551.2" y="995.7" text-anchor="end">200K</text><text x="799.2" y="1247.8" text-anchor="middle">200K</text><text x="551.2" y="937.5" text-anchor="end">250K</text><text x="857.7" y="1247.8" text-anchor="middle">250K</text></g><text x="556.3" y="904.3" font-size="28">Gated on cells</text><path d="M966.7 1222.7h-9M966.7 1222.7v9M966.7 1211h-4.5M978.4 1222.7v4.5M966.7 1199.3h-4.5M990.1 1222.7v4.5M966.7 1187.7h-4.5M1001.9 1222.7v4.5M966.7 1176h-4.5M1013.6 1222.7v4.5M966.7 1164.3h-9M1025.3 1222.7v9M966.7 1152.6h-4.5M1037 1222.7v4.5M966.7 1141h-4.5M1048.7 1222.7v4.5M966.7 1129.3h-4.5M1060.5 1222.7v4.5M966.7 1117.6h-4.5M1072.2 1222.7v4.5M966.7 1105.9h-9M1083.9 1222.7v9M966.7 1094.3h-4.5M1095.6 1222.7v4.5M966.7 1082.6h-4.5M1107.4 1222.7v4.5M966.7 1070.9h-4.5M1119.1 1222.7v4.5M966.7 1059.2h-4.5M1130.8 1222.7v4.5M966.7 1047.6h-9M1142.5 1222.7v9M966.7 1035.9h-4.5M1154.2 1222.7v4.5M966.7 1024.2h-4.5M1166 1222.7v4.5M966.7 1012.5h-4.5M1177.7 1222.7v4.5M966.7 1000.9h-4.5M1189.4 1222.7v4.5M966.7 989.2h-9M1201.1 1222.7v9M966.7 977.5h-4.5M1212.8 1222.7v4.5M966.7 965.8h-4.5M1224.6 1222.7v4.5M966.7 954.2h-4.5M1236.3 1222.7v4.5M966.7 942.5h-4.5M1248 1222.7v4.5M966.7 930.8h-9M1259.7 1222.7v9M966.7 919.1h-4.5M1271.5 1222.7v4.5" stroke="#000" stroke-width="2.1" fill="none"/><rect x="966.7" y="916.8" width="307.1" height="305.9" fill="none" stroke="#000" stroke-width="2.2"/><g font-size="20.2"><text x="943.5" y="1224.9" text-anchor="end">0</text><text x="966.7" y="1251.7" text-anchor="middle">0</text><text x="958.7" y="1173" text-anchor="end">50K</text><text x="1026.8" y="1251.7" text-anchor="middle">50K</text><text x="958.7" y="1114.6" text-anchor="end">100K</text><text x="1085.4" y="1251.7" text-anchor="middle">100K</text><text x="958.7" y="1056.3" text-anchor="end">150K</text><text x="1144" y="1251.7" text-anchor="middle">150K</text><text x="958.7" y="997.9" text-anchor="end">200K</text><text x="1202.6" y="1251.7" text-anchor="middle">200K</text><text x="958.7" y="939.5" text-anchor="end">250K</text><text x="1261.2" y="1251.7" text-anchor="middle">250K</text></g><text x="967.3" y="904.3" font-size="28">Gated on cells</text><rect x="627.3" y="1114.2" width="77.5" height="104.1" fill="none" stroke="#000" stroke-width="2.2"/><text x="624.7" y="1087.9" font-size="20.2" text-anchor="middle">Single cells 1</text><text x="624.7" y="1106.7" font-size="20.2" text-anchor="middle">93.6</text><rect x="1031.6" y="1138.1" width="57.7" height="87.3" fill="none" stroke="#000" stroke-width="2.2"/><text x="1031.8" y="1091.8" font-size="20.2" text-anchor="middle">Single cells 2</text><text x="1030.1" y="1110.6" font-size="20.2" text-anchor="middle">90.6</text><path d="M95.1 1216.9L95.1 1260.1L138.6 1260.1" stroke="#231f20" stroke-width="2" fill="none"/><path d="M95.1 1205.4l-9.2 17.5l9.2 -4.5l9.2 4.5z" fill="#231f20"/><path d="M149.4 1260.1l-17.5 -9.2l4.5 9.2l-4.5 9.2z" fill="#231f20"/><text font-size="20.1" transform="translate(80.1 1257.7) rotate(-90)">SSC-A</text><text x="93.6" y="1283.1" font-size="20.1">FSC-A</text><path d="M512.9 1212.4L512.9 1256.8L558.8 1256.8" stroke="#231f20" stroke-width="2" fill="none"/><path d="M512.9 1200.9l-9.2 17.5l9.2 -4.5l9.2 4.5z" fill="#231f20"/><path d="M569.6 1256.8l-17.5 -9.2l4.5 9.2l-4.5 9.2z" fill="#231f20"/><text font-size="20.1" transform="translate(498.5 1253.2) rotate(-90)">FSC-H</text><text x="512" y="1279.2" font-size="20.1">FSC-W</text><path d="M917.4 1212.4L917.4 1256.2L961.8 1256.2" stroke="#231f20" stroke-width="2" fill="none"/><path d="M917.4 1200.9l-9.2 17.5l9.2 -4.5l9.2 4.5z" fill="#231f20"/><path d="M972.6 1256.2l-17.5 -9.2l4.5 9.2l-4.5 9.2z" fill="#231f20"/><text font-size="20.1" transform="translate(901.5 1252.3) rotate(-90)">SSC-H</text><text x="915" y="1278.7" font-size="20.1">SSC-W</text><path d="M142.5 1602.9L160.5 1518.6L248.7 1417.5L345.9 1360.1L430.5 1398.1L429 1517.7L377.9 1599.9L201.7 1652.2L145.5 1652.2Z" fill="none" stroke="#000" stroke-width="2.4" stroke-linejoin="round"/><path d="M142 1651.7h-9M142 1651.7v9M142 1640h-4.5M153.7 1651.7v4.5M142 1628.3h-4.5M165.5 1651.7v4.5M142 1616.6h-4.5M177.2 1651.7v4.5M142 1604.9h-4.5M188.9 1651.7v4.5M142 1593.2h-9M200.7 1651.7v9M142 1581.4h-4.5M212.4 1651.7v4.5M142 1569.7h-4.5M224.1 1651.7v4.5M142 1558h-4.5M235.9 1651.7v4.5M142 1546.3h-4.5M247.6 1651.7v4.5M142 1534.6h-9M259.3 1651.7v9M142 1522.9h-4.5M271.1 1651.7v4.5M142 1511.2h-4.5M282.8 1651.7v4.5M142 1499.5h-4.5M294.5 1651.7v4.5M142 1487.8h-4.5M306.3 1651.7v4.5M142 1476.1h-9M318 1651.7v9M142 1464.3h-4.5M329.7 1651.7v4.5M142 1452.6h-4.5M341.5 1651.7v4.5M142 1440.9h-4.5M353.2 1651.7v4.5M142 1429.2h-4.5M364.9 1651.7v4.5M142 1417.5h-9M376.7 1651.7v9M142 1405.8h-4.5M388.4 1651.7v4.5M142 1394.1h-4.5M400.1 1651.7v4.5M142 1382.4h-4.5M411.9 1651.7v4.5M142 1370.7h-4.5M423.6 1651.7v4.5M142 1359h-9M435.3 1651.7v9M142 1347.2h-4.5M447.1 1651.7v4.5" stroke="#000" stroke-width="2.1" fill="none"/><rect x="142" y="1344.9" width="307.4" height="306.8" fill="none" stroke="#000" stroke-width="2.2"/><g font-size="20.2"><text x="118.8" y="1653.9" text-anchor="end">0</text><text x="142" y="1680.7" text-anchor="middle">0</text><text x="134" y="1601.9" text-anchor="end">50K</text><text x="202.2" y="1680.7" text-anchor="middle">50K</text><text x="134" y="1543.3" text-anchor="end">100K</text><text x="260.8" y="1680.7" text-anchor="middle">100K</text><text x="134" y="1484.8" text-anchor="end">150K</text><text x="319.5" y="1680.7" text-anchor="middle">150K</text><text x="134" y="1426.2" text-anchor="end">200K</text><text x="378.2" y="1680.7" text-anchor="middle">200K</text><text x="134" y="1367.7" text-anchor="end">250K</text><text x="436.8" y="1680.7" text-anchor="middle">250K</text></g><text x="142" y="1331.4" font-size="28">All events</text><text x="238.8" y="1385.3" font-size="20.2" text-anchor="middle">Cells</text><text x="237.9" y="1402.6" font-size="20.2" text-anchor="middle">90.7</text><path d="M557.1 1652.3h-9M557.1 1652.3v9M557.1 1640.5h-4.5M568.9 1652.3v4.5M557.1 1628.7h-4.5M580.8 1652.3v4.5M557.1 1616.9h-4.5M592.6 1652.3v4.5M557.1 1605.1h-4.5M604.4 1652.3v4.5M557.1 1593.3h-9M616.3 1652.3v9M557.1 1581.6h-4.5M628.1 1652.3v4.5M557.1 1569.8h-4.5M640 1652.3v4.5M557.1 1558h-4.5M651.8 1652.3v4.5M557.1 1546.2h-4.5M663.6 1652.3v4.5M557.1 1534.4h-9M675.5 1652.3v9M557.1 1522.6h-4.5M687.3 1652.3v4.5M557.1 1510.8h-4.5M699.1 1652.3v4.5M557.1 1499h-4.5M711 1652.3v4.5M557.1 1487.2h-4.5M722.8 1652.3v4.5M557.1 1475.4h-9M734.6 1652.3v9M557.1 1463.7h-4.5M746.5 1652.3v4.5M557.1 1451.9h-4.5M758.3 1652.3v4.5M557.1 1440.1h-4.5M770.1 1652.3v4.5M557.1 1428.3h-4.5M782 1652.3v4.5M557.1 1416.5h-9M793.8 1652.3v9M557.1 1404.7h-4.5M805.7 1652.3v4.5M557.1 1392.9h-4.5M817.5 1652.3v4.5M557.1 1381.1h-4.5M829.3 1652.3v4.5M557.1 1369.3h-4.5M841.2 1652.3v4.5M557.1 1357.5h-9M853 1652.3v9M557.1 1345.8h-4.5M864.8 1652.3v4.5" stroke="#000" stroke-width="2.1" fill="none"/><rect x="557.1" y="1343.4" width="310.1" height="308.9" fill="none" stroke="#000" stroke-width="2.2"/><g font-size="20.2"><text x="533.9" y="1652.5" text-anchor="end">0</text><text x="553.1" y="1681.3" text-anchor="middle">0</text><text x="549.1" y="1600" text-anchor="end">50K</text><text x="613.8" y="1681.3" text-anchor="middle">50K</text><text x="549.1" y="1541.1" text-anchor="end">100K</text><text x="673" y="1681.3" text-anchor="middle">100K</text><text x="549.1" y="1482.1" text-anchor="end">150K</text><text x="732.1" y="1681.3" text-anchor="middle">150K</text><text x="549.1" y="1423.2" text-anchor="end">200K</text><text x="791.3" y="1681.3" text-anchor="middle">200K</text><text x="549.1" y="1364.2" text-anchor="end">250K</text><text x="850.5" y="1681.3" text-anchor="middle">250K</text></g><text x="554.2" y="1331.4" font-size="28">Gated on cells</text><path d="M963.7 1652.9h-9M963.7 1652.9v9M963.7 1641.1h-4.5M975.5 1652.9v4.5M963.7 1629.4h-4.5M987.2 1652.9v4.5M963.7 1617.6h-4.5M999 1652.9v4.5M963.7 1605.9h-4.5M1010.7 1652.9v4.5M963.7 1594.1h-9M1022.5 1652.9v9M963.7 1582.4h-4.5M1034.2 1652.9v4.5M963.7 1570.6h-4.5M1046 1652.9v4.5M963.7 1558.9h-4.5M1057.7 1652.9v4.5M963.7 1547.1h-4.5M1069.5 1652.9v4.5M963.7 1535.3h-9M1081.3 1652.9v9M963.7 1523.6h-4.5M1093 1652.9v4.5M963.7 1511.8h-4.5M1104.8 1652.9v4.5M963.7 1500.1h-4.5M1116.5 1652.9v4.5M963.7 1488.3h-4.5M1128.3 1652.9v4.5M963.7 1476.6h-9M1140 1652.9v9M963.7 1464.8h-4.5M1151.8 1652.9v4.5M963.7 1453.1h-4.5M1163.5 1652.9v4.5M963.7 1441.3h-4.5M1175.3 1652.9v4.5M963.7 1429.5h-4.5M1187.1 1652.9v4.5M963.7 1417.8h-9M1198.8 1652.9v9M963.7 1406h-4.5M1210.6 1652.9v4.5M963.7 1394.3h-4.5M1222.3 1652.9v4.5M963.7 1382.5h-4.5M1234.1 1652.9v4.5M963.7 1370.8h-4.5M1245.8 1652.9v4.5M963.7 1359h-9M1257.6 1652.9v9M963.7 1347.3h-4.5M1269.3 1652.9v4.5" stroke="#000" stroke-width="2.1" fill="none"/><rect x="963.7" y="1344.9" width="308" height="308" fill="none" stroke="#000" stroke-width="2.2"/><g font-size="20.2"><text x="940.5" y="1655.1" text-anchor="end">0</text><text x="963.7" y="1681.9" text-anchor="middle">0</text><text x="955.7" y="1602.8" text-anchor="end">50K</text><text x="1024" y="1681.9" text-anchor="middle">50K</text><text x="955.7" y="1544" text-anchor="end">100K</text><text x="1082.8" y="1681.9" text-anchor="middle">100K</text><text x="955.7" y="1485.3" text-anchor="end">150K</text><text x="1141.5" y="1681.9" text-anchor="middle">150K</text><text x="955.7" y="1426.5" text-anchor="end">200K</text><text x="1200.3" y="1681.9" text-anchor="middle">200K</text><text x="955.7" y="1367.7" text-anchor="end">250K</text><text x="1259.1" y="1681.9" text-anchor="middle">250K</text></g><text x="963.7" y="1331.4" font-size="28">Gated on cells</text><rect x="625.2" y="1543.8" width="77.5" height="104.1" fill="none" stroke="#000" stroke-width="2.2"/><text x="623.3" y="1523.5" font-size="20.2" text-anchor="middle">Single cells 1</text><text x="622.7" y="1541.2" font-size="20.2" text-anchor="middle">93.6</text><rect x="1028.6" y="1566.2" width="57.7" height="87.3" fill="none" stroke="#000" stroke-width="2.2"/><text x="1028.6" y="1540.2" font-size="20.2" text-anchor="middle">Single cells 2</text><text x="1027.2" y="1558.2" font-size="20.2" text-anchor="middle">90.6</text><path d="M97.2 1651.8L97.2 1695.7L142.5 1695.7" stroke="#231f20" stroke-width="2" fill="none"/><path d="M97.2 1640.3l-9.2 17.5l9.2 -4.5l9.2 4.5z" fill="#231f20"/><path d="M153.3 1695.7l-17.5 -9.2l4.5 9.2l-4.5 9.2z" fill="#231f20"/><text font-size="20.1" transform="translate(81.3 1692.7) rotate(-90)">SSC-A</text><text x="95.7" y="1718.7" font-size="20.1">FSC-A</text><path d="M506.3 1646.7L506.3 1691.8L550.7 1691.8" stroke="#231f20" stroke-width="2" fill="none"/><path d="M506.3 1635.2l-9.2 17.5l9.2 -4.5l9.2 4.5z" fill="#231f20"/><path d="M561.5 1691.8l-17.5 -9.2l4.5 9.2l-4.5 9.2z" fill="#231f20"/><text font-size="20.1" transform="translate(491.4 1688.8) rotate(-90)">FSC-H</text><text x="504.5" y="1714.2" font-size="20.1">FSC-W</text><path d="M915.3 1646.7L915.3 1690.3L959.7 1690.3" stroke="#231f20" stroke-width="2" fill="none"/><path d="M915.3 1635.2l-9.2 17.5l9.2 -4.5l9.2 4.5z" fill="#231f20"/><path d="M970.5 1690.3l-17.5 -9.2l4.5 9.2l-4.5 9.2z" fill="#231f20"/><text font-size="20.1" transform="translate(899.4 1687.3) rotate(-90)">SSC-H</text><text x="912.9" y="1713.6" font-size="20.1">SSC-W</text><text font-size="27.4" fill="#1c9fdc" transform="translate(1293.8 565) rotate(90)">Single T cells</text><text font-size="27.8" fill="#66339a" transform="translate(1293.8 995.5) rotate(90)">T:Tum clusters</text><text font-size="27.8" fill="#22a455" transform="translate(1293.8 1417.5) rotate(90)">T:APC clusters</text></g>
<g id="panel-c"><text x="1359" y="501.5" font-size="63" font-weight="bold" fill="#231f20">c</text><rect x="1476.3" y="465" width="204.4" height="720.5" fill="#f8f8f8"/><rect x="1680.7" y="465" width="75.3" height="720.5" fill="#eaf2fb"/><rect x="1497.2" y="776.1" width="43.2" height="137.6" fill="#1b9cbe"/><rect x="1561.9" y="640.8" width="43.2" height="272.9" fill="#975fa6"/><rect x="1626.3" y="640.8" width="43.2" height="272.9" fill="#0c8f64"/><rect x="1690.7" y="731.9" width="43.2" height="181.8" fill="#fbe58f"/><path d="M1476.3 577.8V970.4M1476.3 969.5h-15.5M1476.3 913.7h-15.5M1476.3 857.8h-15.5M1476.3 802h-15.5M1476.3 746.2h-15.5M1476.3 690.4h-15.5M1476.3 634.5h-15.5M1476.3 578.7h-15.5M1476.3 913.7H1756M1476.3 969.5H1756M1518.8 969.5v15.5M1583.5 969.5v15.5M1647.9 969.5v15.5M1712.3 969.5v15.5" stroke="#000" stroke-width="1.8" fill="none"/><g font-size="27.9" text-anchor="end"><text x="1452.7" y="979.5">-20</text><text x="1452.7" y="923.7">0</text><text x="1452.7" y="867.8">20</text><text x="1452.7" y="812">40</text><text x="1452.7" y="756.2">60</text><text x="1452.7" y="700.4">80</text><text x="1452.7" y="644.5">100</text><text x="1452.7" y="588.7">120</text></g><text font-size="31.7" text-anchor="middle" transform="translate(1404.4 775.4) rotate(-90)">% CD39<tspan dy="-10" font-size="20">+</tspan></text><path d="M1518.8 704.7V847.8M1506.8 704.7h24M1506.8 847.8h24M1583.5 636V651.2M1571.5 636h24M1571.5 651.2h24M1647.9 636.5V648.5M1635.9 636.5h24M1635.9 648.5h24M1712.3 666.8V796.1M1700.3 666.8h24M1700.3 796.1h24" stroke="#000" stroke-width="2.6" fill="none"/><g fill="#000"><circle cx="1518.8" cy="669.4" r="5.8"/><circle cx="1518.8" cy="702.1" r="5.8"/><circle cx="1518.8" cy="761.2" r="5.8"/><circle cx="1518.8" cy="785" r="5.8"/><circle cx="1518.8" cy="812.9" r="5.8"/><circle cx="1518.8" cy="830.4" r="5.8"/><circle cx="1518.8" cy="872.8" r="5.8"/><circle cx="1567.5" cy="635.2" r="5.8"/><circle cx="1576" cy="634.8" r="5.8"/><circle cx="1584" cy="634.8" r="5.8"/><circle cx="1592" cy="634.8" r="5.8"/><circle cx="1600.8" cy="635.5" r="5.8"/><circle cx="1579.8" cy="658.6" r="5.8"/><circle cx="1588.3" cy="654.5" r="5.8"/><circle cx="1632.6" cy="635.2" r="5.8"/><circle cx="1656" cy="633.3" r="5.8"/><circle cx="1664.5" cy="639.6" r="5.8"/><circle cx="1648.6" cy="640.8" r="5.8"/><circle cx="1656" cy="646.3" r="5.8"/><circle cx="1640.4" cy="653.8" r="5.8"/><circle cx="1643" cy="642.6" r="5.8"/><circle cx="1712.5" cy="658.2" r="5.8"/><circle cx="1728.5" cy="679" r="5.8"/><circle cx="1696.9" cy="689.1" r="5.8"/><circle cx="1728.5" cy="739.3" r="5.8"/><circle cx="1696.9" cy="745.6" r="5.8"/><circle cx="1712.5" cy="759" r="5.8"/><circle cx="1712.5" cy="850.4" r="5.8"/></g><path d="M1518.8 535.9V512H1648.1V612.7" stroke="#000" stroke-width="1.8" fill="none"/><path d="M1518.8 647V585H1583.6V609.2" stroke="#000" stroke-width="1.8" fill="none"/><text x="1584" y="509.5" font-size="49.5" text-anchor="middle" font-weight="bold">**</text><text x="1551.7" y="583.4" font-size="49.5" text-anchor="middle" font-weight="bold">**</text><path d="M1680.7 465.5V1167.5" stroke="#000" stroke-width="6" stroke-linecap="round" stroke-dasharray="0 11.7" fill="none"/><text font-size="31" text-anchor="end" transform="translate(1528.3 996.6) rotate(-90)">Single T cells</text><text font-size="31" text-anchor="end" transform="translate(1593 996.6) rotate(-90)">T:Tum</text><text font-size="31" text-anchor="end" transform="translate(1657.4 996.6) rotate(-90)">T:APC</text><text font-size="31" text-anchor="end" transform="translate(1721.8 991.6) rotate(-90)">Total CD8</text><rect x="1889.4" y="461.6" width="204" height="721.9" fill="#f8f8f8"/><rect x="2093.4" y="461.6" width="73.6" height="721.9" fill="#eaf2fb"/><rect x="1911" y="804.3" width="43" height="108.3" fill="#1b9cbe"/><rect x="1975.1" y="698" width="43" height="214.6" fill="#975fa6"/><rect x="2039" y="750.4" width="43" height="162.2" fill="#0c8f64"/><rect x="2102.6" y="790.9" width="43" height="121.7" fill="#fbe58f"/><path d="M1890.1 580V968.8M1890.1 967.9h-15.5M1890.1 912.6h-15.5M1890.1 857.3h-15.5M1890.1 802h-15.5M1890.1 746.8h-15.5M1890.1 691.5h-15.5M1890.1 636.2h-15.5M1890.1 580.9h-15.5M1890.1 912.6H2167M1890.1 967.9H2167M1932.5 967.9v15.5M1996.6 967.9v15.5M2060.5 967.9v15.5M2124.1 967.9v15.5" stroke="#000" stroke-width="1.8" fill="none"/><g font-size="27.9" text-anchor="end"><text x="1868.5" y="977.9">-20</text><text x="1868.5" y="922.6">0</text><text x="1868.5" y="867.3">20</text><text x="1868.5" y="812">40</text><text x="1868.5" y="756.8">60</text><text x="1868.5" y="701.5">80</text><text x="1868.5" y="646.2">100</text><text x="1868.5" y="590.9">120</text></g><text font-size="31.7" text-anchor="middle" transform="translate(1818.5 775.7) rotate(-90)">% PD1<tspan dy="-10" font-size="20">+</tspan></text><path d="M1932.5 709.5V898.4M1920.5 709.5h24M1920.5 898.4h24M1996.6 650V746.3M1984.6 650h24M1984.6 746.3h24M2060.5 648.9V851.9M2048.5 648.9h24M2048.5 851.9h24M2124.1 687.2V893.5M2112.1 687.2h24M2112.1 893.5h24" stroke="#000" stroke-width="2.6" fill="none"/><g fill="#000"><circle cx="1932.5" cy="661.2" r="5.8"/><circle cx="1932.5" cy="725.5" r="5.8"/><circle cx="1932.5" cy="764.2" r="5.8"/><circle cx="1932.5" cy="799.9" r="5.8"/><circle cx="1932.5" cy="867.5" r="5.8"/><circle cx="1916.9" cy="906.5" r="5.8"/><circle cx="1948.1" cy="905.4" r="5.8"/><circle cx="1996.6" cy="642.2" r="5.8"/><circle cx="1996.6" cy="662.3" r="5.8"/><circle cx="1981.2" cy="674.2" r="5.8"/><circle cx="2012.4" cy="683.9" r="5.8"/><circle cx="1981.2" cy="718.8" r="5.8"/><circle cx="2012.4" cy="720.7" r="5.8"/><circle cx="1996.6" cy="786.5" r="5.8"/><circle cx="2044.8" cy="645.6" r="5.8"/><circle cx="2076" cy="655.6" r="5.8"/><circle cx="2060.5" cy="686.1" r="5.8"/><circle cx="2060.5" cy="735.5" r="5.8"/><circle cx="2060.5" cy="757.8" r="5.8"/><circle cx="2060.5" cy="864.5" r="5.8"/><circle cx="2060.5" cy="907.3" r="5.8"/><circle cx="2124.1" cy="653" r="5.8"/><circle cx="2124.1" cy="685.4" r="5.8"/><circle cx="2124.1" cy="747.4" r="5.8"/><circle cx="2124.1" cy="778.3" r="5.8"/><circle cx="2124.1" cy="853.4" r="5.8"/><circle cx="2108.7" cy="909.1" r="5.8"/><circle cx="2139.5" cy="907.7" r="5.8"/></g><path d="M1932.5 547V524H2060.5V623.3" stroke="#000" stroke-width="1.8" fill="none"/><path d="M1932.5 637.8V596.1H1996.6V620.3" stroke="#000" stroke-width="1.8" fill="none"/><text x="1996" y="522.1" font-size="49.5" text-anchor="middle" font-weight="bold">**</text><text x="1965.2" y="595.1" font-size="49.5" text-anchor="middle" font-weight="bold">**</text><path d="M2093.4 462.1V1182.5" stroke="#000" stroke-width="6" stroke-linecap="round" stroke-dasharray="0 11.7" fill="none"/><text font-size="31" text-anchor="end" transform="translate(1942 994) rotate(-90)">Single T cells</text><text font-size="31" text-anchor="end" transform="translate(2006.1 994) rotate(-90)">T:Tum</text><text font-size="31" text-anchor="end" transform="translate(2070 994) rotate(-90)">T:APC</text><text font-size="31" text-anchor="end" transform="translate(2133.6 989) rotate(-90)">Total CD8</text></g>
<g id="panel-d"><text x="1364" y="1237" font-size="63" font-weight="bold" fill="#231f20">d</text><clipPath id="dclip"><rect x="1528" y="1231.4" width="397.2" height="402"/></clipPath><g clip-path="url(#dclip)"><path d="M1528 1369.3L1529.2 1369.3L1530.3 1369.3L1531.5 1369.3L1532.6 1369.3L1533.8 1369.2L1534.9 1369.2L1536.1 1369.2L1537.2 1369.2L1538.4 1369.2L1539.5 1369.2L1540.7 1369.2L1541.8 1369.2L1543 1369.2L1544.1 1369.1L1545.3 1369.1L1546.4 1369.2L1547.6 1369.1L1548.7 1369.1L1549.9 1369.1L1551 1369.1L1552.2 1369.1L1553.3 1369L1554.5 1369L1555.6 1369L1556.8 1369L1557.9 1368.9L1559.1 1369.1L1560.2 1369L1561.4 1369L1562.5 1368.9L1563.7 1369L1564.8 1368.9L1566 1368.9L1567.1 1368.9L1568.3 1368.9L1569.4 1368.9L1570.6 1368.9L1571.7 1368.9L1572.9 1368.8L1574 1368.9L1575.1 1368.7L1576.3 1368.7L1577.4 1368.9L1578.6 1368.7L1579.7 1368.8L1580.9 1368.7L1582 1368.7L1583.2 1368.9L1584.3 1368.7L1585.5 1368.7L1586.6 1368.5L1587.8 1368.8L1588.9 1368.5L1590.1 1368.7L1591.2 1368.5L1592.4 1368.5L1593.5 1368.1L1594.7 1368.2L1595.8 1367.7L1597 1368L1598.1 1367.9L1599.3 1367.8L1600.4 1368L1601.6 1367.8L1602.7 1367.4L1603.9 1367.8L1605 1367.6L1606.2 1367.5L1607.3 1367.3L1608.5 1367.1L1609.6 1366.4L1610.8 1365.7L1611.9 1365.2L1613.1 1365.4L1614.2 1340.2L1615.4 1333.5L1616.5 1306.4L1617.7 1281.5L1618.8 1223.3L1620 1267.3L1621.1 1292.6L1622.3 1310.6L1623.4 1311.9L1624.6 1341L1625.7 1346.5L1626.9 1343.1L1628 1354.7L1629.2 1354.1L1630.3 1355.5L1631.4 1358.7L1632.6 1360.2L1633.7 1358.7L1634.9 1362L1636 1363.4L1637.2 1364.6L1638.3 1361.7L1639.5 1361L1640.6 1359.1L1641.8 1359.4L1642.9 1358.6L1644.1 1358.2L1645.2 1357.6L1646.4 1355.9L1647.5 1356.9L1648.7 1355.7L1649.8 1351.3L1651 1354.4L1652.1 1359.5L1653.3 1352.4L1654.4 1355.9L1655.6 1359L1656.7 1355.6L1657.9 1357.8L1659 1358.4L1660.2 1357.8L1661.3 1358L1662.5 1354.8L1663.6 1351.5L1664.8 1354.4L1665.9 1351.6L1667.1 1346.6L1668.2 1355.3L1669.4 1350.3L1670.5 1351.6L1671.7 1353.6L1672.8 1353.1L1674 1349.3L1675.1 1347.2L1676.3 1350.1L1677.4 1347.6L1678.6 1344.6L1679.7 1345.7L1680.9 1342.9L1682 1343.9L1683.2 1343.2L1684.3 1336.9L1685.4 1341.4L1686.6 1342.9L1687.7 1339.7L1688.9 1346.5L1690 1343.3L1691.2 1337.4L1692.3 1337.5L1693.5 1332.3L1694.6 1339.4L1695.8 1345.8L1696.9 1325.7L1698.1 1328.8L1699.2 1340.1L1700.4 1323.6L1701.5 1330.6L1702.7 1341.7L1703.8 1330.9L1705 1330.3L1706.1 1313.4L1707.3 1330L1708.4 1324.6L1709.6 1323.5L1710.7 1323.1L1711.9 1328.6L1713 1320.4L1714.2 1314.9L1715.3 1319.7L1716.5 1332.5L1717.6 1335.1L1718.8 1327.1L1719.9 1333.9L1721.1 1332L1722.2 1338.3L1723.4 1309.4L1724.5 1315.5L1725.7 1329.2L1726.8 1311.9L1728 1306.3L1729.1 1337.9L1730.3 1322.7L1731.4 1322.6L1732.6 1315.4L1733.7 1323.2L1734.9 1325.4L1736 1325.5L1737.2 1313L1738.3 1312.8L1739.4 1329.6L1740.6 1330.8L1741.7 1299.5L1742.9 1327.6L1744 1322.1L1745.2 1314.5L1746.3 1308L1747.5 1300.2L1748.6 1304.2L1749.8 1315.5L1750.9 1302.2L1752.1 1306.4L1753.2 1291.6L1754.4 1312L1755.5 1326L1756.7 1324.4L1757.8 1303.1L1759 1322.4L1760.1 1335.5L1761.3 1321.2L1762.4 1315L1763.6 1303L1764.7 1323L1765.9 1306L1767 1303.8L1768.2 1317.7L1769.3 1316.5L1770.5 1303.5L1771.6 1309.2L1772.8 1320.6L1773.9 1328.6L1775.1 1328.2L1776.2 1334.5L1777.4 1333.1L1778.5 1336.9L1779.7 1330.2L1780.8 1329.7L1782 1308.4L1783.1 1328.2L1784.3 1316.2L1785.4 1314.4L1786.6 1324.8L1787.7 1316.6L1788.9 1342.9L1790 1328.7L1791.2 1325.9L1792.3 1348L1793.5 1342.1L1794.6 1331.7L1795.7 1340.7L1796.9 1344.2L1798 1339.5L1799.2 1339.6L1800.3 1331.5L1801.5 1332L1802.6 1335.4L1803.8 1336.9L1804.9 1332.1L1806.1 1322.1L1807.2 1327.5L1808.4 1324.5L1809.5 1329L1810.7 1338.4L1811.8 1336L1813 1329.1L1814.1 1334.2L1815.3 1341.6L1816.4 1346.8L1817.6 1339.5L1818.7 1343.3L1819.9 1345.3L1821 1347.1L1822.2 1346.7L1823.3 1348.8L1824.5 1348.9L1825.6 1351.3L1826.8 1352.8L1827.9 1356.2L1829.1 1359.4L1830.2 1359.9L1831.4 1360.1L1832.5 1362.2L1833.7 1362.2L1834.8 1362.8L1836 1365.5L1837.1 1366.9L1838.3 1365.5L1839.4 1366.4L1840.6 1366.4L1841.7 1367.5L1842.9 1366.7L1844 1367.4L1845.2 1367.9L1846.3 1368.2L1847.5 1368.1L1848.6 1368.2L1849.7 1368.2L1850.9 1368.4L1852 1367.9L1853.2 1368.2L1854.3 1368.1L1855.5 1368.1L1856.6 1368.6L1857.8 1368.1L1858.9 1368.2L1860.1 1368.2L1861.2 1368.4L1862.4 1368.8L1863.5 1369L1864.7 1369.3L1924.9 1369.3" fill="#f6ec27" fill-opacity="1" stroke="#cfdb3a" stroke-width="1.9" stroke-linejoin="round"/><path d="M1528 1434.6L1611.9 1434.6L1613.3 1434.1L1614.7 1433.6L1616.1 1432.7L1617.4 1431.4L1618.8 1430.2L1620.2 1428.4L1621.6 1426.2L1622.9 1419.7L1624.3 1414.8L1625.7 1409.9L1627.1 1404.5L1628.5 1397.1L1629.8 1388.9L1631.2 1383.3L1632.6 1373.6L1634 1363.4L1635.4 1361.8L1636.7 1358.3L1638.1 1352L1639.5 1347.1L1640.9 1342L1642.2 1339.6L1643.6 1339L1645 1329.7L1646.4 1338.5L1647.8 1330.7L1649.1 1314.5L1650.5 1315L1651.9 1313.8L1653.3 1310.8L1654.7 1304.9L1656 1309.8L1657.4 1311.4L1658.8 1316.7L1660.2 1311.4L1661.6 1313.9L1662.9 1313.3L1664.3 1312.7L1665.7 1309.1L1667.1 1309.6L1668.4 1303.6L1669.8 1312.8L1671.2 1307.3L1672.6 1297.9L1674 1305.7L1675.3 1302.4L1676.7 1304.6L1678.1 1305.7L1679.5 1310.1L1680.9 1320.9L1682.2 1316.7L1683.6 1317.8L1685 1323.1L1686.4 1319.2L1687.7 1322.9L1689.1 1325.2L1690.5 1318.1L1691.9 1319.7L1693.3 1323.8L1694.6 1326.8L1696 1327.3L1697.4 1328.7L1698.8 1330.8L1700.2 1331.6L1701.5 1335L1702.9 1332.8L1704.3 1333L1705.7 1334.3L1707 1338.5L1708.4 1339L1709.8 1336.1L1711.2 1339.3L1712.6 1340.5L1713.9 1350.1L1715.3 1352.4L1716.7 1344.5L1718.1 1346.2L1719.5 1344.8L1720.8 1348.3L1722.2 1351.2L1723.6 1353.2L1725 1358.6L1726.4 1353.6L1727.7 1359L1729.1 1357.4L1730.5 1360.5L1731.9 1362.7L1733.2 1363.5L1734.6 1369.1L1736 1371.1L1737.4 1373.8L1738.8 1374.5L1740.1 1371.9L1741.5 1377.9L1742.9 1376.5L1744.3 1379L1745.7 1381L1747 1382.6L1748.4 1387.5L1749.8 1386.8L1751.2 1386.7L1752.5 1392L1753.9 1392.7L1755.3 1395.3L1756.7 1395.7L1758.1 1399.2L1759.4 1397.6L1760.8 1401.7L1762.2 1404.7L1763.6 1402.8L1765 1405.5L1766.3 1407.7L1767.7 1409.4L1769.1 1411.9L1770.5 1413.5L1771.8 1414.5L1773.2 1416L1774.6 1417.1L1776 1418.6L1777.4 1420.1L1778.7 1421.1L1780.1 1421.6L1781.5 1422.6L1782.9 1424.4L1784.3 1425.5L1785.6 1425.6L1787 1426.3L1788.4 1426.8L1789.8 1427.9L1791.2 1428.2L1792.5 1428.8L1793.9 1429.2L1795.3 1430.1L1796.7 1430L1798 1430.4L1799.4 1430.6L1800.8 1431.1L1802.2 1431.3L1803.6 1431.4L1804.9 1432L1806.3 1432.1L1807.7 1432.2L1809.1 1432.4L1810.5 1432.4L1811.8 1432.5L1813.2 1432.5L1814.6 1432.6L1816 1432.7L1817.3 1432.7L1818.7 1432.8L1820.1 1432.8L1821.5 1433L1822.9 1433.1L1824.2 1433.1L1825.6 1433.1L1827 1433.3L1828.4 1433.3L1829.8 1433.4L1831.1 1433.4L1832.5 1433.5L1833.9 1433.4L1835.3 1433.5L1836.7 1433.5L1838 1433.5L1839.4 1433.4L1840.8 1433.5L1842.2 1433.5L1843.5 1433.5L1844.9 1433.5L1846.3 1433.5L1847.7 1433.5L1849.1 1433.6L1850.4 1433.6L1851.8 1433.5L1853.2 1433.6L1854.6 1433.6L1856 1433.6L1857.3 1433.7L1858.7 1433.7L1860.1 1433.6L1861.5 1433.6L1862.8 1433.6L1864.2 1433.6L1865.6 1433.7L1867 1433.7L1868.4 1433.7L1869.7 1433.7L1871.1 1433.7L1872.5 1433.7L1873.9 1433.7L1875.3 1433.8L1876.6 1433.7L1878 1433.8L1879.4 1433.8L1880.8 1433.8L1882.1 1433.8L1883.5 1433.9L1884.9 1433.8L1886.3 1433.8L1887.7 1433.8L1889 1433.8L1890.4 1433.8L1891.8 1433.9L1893.2 1433.9L1894.6 1433.9L1895.9 1433.9L1897.3 1433.9L1898.7 1433.9L1900.1 1433.9L1901.5 1434L1902.8 1433.9L1904.2 1434L1905.6 1434L1907 1434L1908.3 1434L1909.7 1434L1911.1 1434L1912.5 1434L1913.9 1434L1915.2 1434L1916.6 1434L1918 1434.1L1919.4 1434.1L1920.8 1434.1L1922.1 1434.1L1923.5 1434.6L1924.9 1434.6" fill="#f05a28" fill-opacity=".5" stroke="#e8232a" stroke-width="1.9" stroke-linejoin="round"/><path d="M1528 1499.6L1608.5 1499.6L1609.6 1496.4L1610.8 1493.3L1611.9 1483.3L1613.1 1466.2L1614.2 1452.6L1615.4 1446.1L1616.5 1423.3L1617.7 1403.1L1618.8 1391.4L1620 1383.6L1621.1 1369L1622.3 1360.8L1623.4 1358.5L1624.6 1369.1L1625.7 1406.4L1626.9 1412.3L1628 1403.3L1629.2 1414.7L1630.3 1421.3L1631.4 1439.2L1632.6 1442.2L1633.7 1430.2L1634.9 1436.4L1636 1443.7L1637.2 1448L1638.3 1457.5L1639.5 1452.1L1640.6 1452.3L1641.8 1453L1642.9 1461.5L1644.1 1465L1645.2 1470.3L1646.4 1466.4L1647.5 1466.8L1648.7 1474.1L1649.8 1473.4L1651 1475.3L1652.1 1478.1L1653.3 1483.1L1654.4 1480.4L1655.6 1480.2L1656.7 1483.4L1657.9 1482.2L1659 1486.2L1660.2 1478.1L1661.3 1479.2L1662.5 1479.8L1663.6 1480.1L1664.8 1480.5L1665.9 1479.3L1667.1 1479.5L1668.2 1479.5L1669.4 1479.2L1670.5 1479L1671.7 1476.5L1672.8 1482L1674 1479L1675.1 1480.7L1676.3 1481.7L1677.4 1484L1678.6 1478.8L1679.7 1481.7L1680.9 1481.4L1682 1478.4L1683.2 1480.4L1684.3 1477.4L1685.4 1476.8L1686.6 1474.1L1687.7 1472.7L1688.9 1476.1L1690 1471L1691.2 1472.6L1692.3 1471.2L1693.5 1471.2L1694.6 1467.7L1695.8 1471.2L1696.9 1464.9L1698.1 1459.9L1699.2 1462.7L1700.4 1452.4L1701.5 1460.5L1702.7 1454.8L1703.8 1455.7L1705 1455.8L1706.1 1457.5L1707.3 1454.6L1708.4 1452.1L1709.6 1454.9L1710.7 1447.1L1711.9 1443.7L1713 1456.8L1714.2 1445.8L1715.3 1448.2L1716.5 1443.7L1717.6 1427.6L1718.8 1429.6L1719.9 1430.2L1721.1 1426.9L1722.2 1438.5L1723.4 1416.3L1724.5 1425.1L1725.7 1416.4L1726.8 1415L1728 1406.3L1729.1 1395.6L1730.3 1401.7L1731.4 1397.2L1732.6 1407.7L1733.7 1399.7L1734.9 1394.9L1736 1412.6L1737.2 1378.9L1738.3 1402.3L1739.4 1405.8L1740.6 1375.7L1741.7 1369.6L1742.9 1396.3L1744 1394.3L1745.2 1355.5L1746.3 1384.7L1747.5 1405.2L1748.6 1393.6L1749.8 1370.3L1750.9 1386.4L1752.1 1388.4L1753.2 1386.9L1754.4 1394.8L1755.5 1405.4L1756.7 1417.9L1757.8 1402.2L1759 1416.9L1760.1 1409.9L1761.3 1397.1L1762.4 1408.6L1763.6 1414.1L1764.7 1407.7L1765.9 1395.5L1767 1387L1768.2 1402.4L1769.3 1386.9L1770.5 1370.9L1771.6 1380L1772.8 1394.8L1773.9 1397.1L1775.1 1413.5L1776.2 1404.6L1777.4 1386.5L1778.5 1404.8L1779.7 1414.8L1780.8 1415.2L1782 1414.3L1783.1 1417.1L1784.3 1421.7L1785.4 1431.9L1786.6 1430.8L1787.7 1434.2L1788.9 1446L1790 1446.8L1791.2 1439.3L1792.3 1453.1L1793.5 1449.9L1794.6 1449.8L1795.7 1448.3L1796.9 1452.9L1798 1458L1799.2 1455.9L1800.3 1464L1801.5 1468.3L1802.6 1471.4L1803.8 1465.7L1804.9 1475L1806.1 1472.1L1807.2 1474.4L1808.4 1477L1809.5 1481.5L1810.7 1483.9L1811.8 1484.9L1813 1487.6L1814.1 1490.1L1815.3 1489.8L1816.4 1493.3L1817.6 1492.4L1818.7 1493.9L1819.9 1495.1L1821 1495.4L1822.2 1495.9L1823.3 1497.3L1824.5 1497.9L1825.6 1498.6L1826.8 1498.6L1827.9 1498.7L1829.1 1498.9L1830.2 1499.1L1831.4 1499.2L1832.5 1499.3L1833.7 1499.4L1834.8 1499.6L1924.9 1499.6" fill="#46bacc" fill-opacity=".45" stroke="#45b9cb" stroke-width="1.9" stroke-linejoin="round"/><path d="M1528 1565.1L1644.1 1565.1L1645.5 1555.3L1646.8 1559.4L1648.2 1565.1L1649.6 1565.1L1651 1565.1L1652.4 1565.1L1653.7 1565.1L1655.1 1565.1L1656.5 1565.1L1657.9 1565.1L1659.3 1565.1L1660.6 1558.8L1662 1556.2L1663.4 1554.7L1664.8 1559.2L1666.1 1552.2L1667.5 1551.7L1668.9 1551.2L1670.3 1550.7L1671.7 1552.1L1673 1564.8L1674.4 1562.1L1675.8 1561L1677.2 1560.4L1678.6 1559.5L1679.9 1557.6L1681.3 1555L1682.7 1547.7L1684.1 1539.7L1685.4 1541.6L1686.8 1554.1L1688.2 1556L1689.6 1553.7L1691 1553.8L1692.3 1539.9L1693.7 1546.3L1695.1 1547.2L1696.5 1545.7L1697.9 1545.2L1699.2 1536.6L1700.6 1542.1L1702 1534.2L1703.4 1538.1L1704.8 1537.5L1706.1 1532.2L1707.5 1536.8L1708.9 1540.2L1710.3 1531.4L1711.6 1540.4L1713 1540.5L1714.4 1540.3L1715.8 1530.4L1717.2 1535.7L1718.5 1538.8L1719.9 1534L1721.3 1531.1L1722.7 1535L1724.1 1534.7L1725.4 1535.6L1726.8 1535.7L1728.2 1536.5L1729.6 1536.4L1730.9 1536.9L1732.3 1532L1733.7 1534.1L1735.1 1534.2L1736.5 1516.2L1737.8 1532.7L1739.2 1531.7L1740.6 1516.3L1742 1526.1L1743.4 1522.3L1744.7 1493.9L1746.1 1500.6L1747.5 1490.1L1748.9 1495.7L1750.2 1498.2L1751.6 1518.3L1753 1514.5L1754.4 1512.5L1755.8 1498.3L1757.1 1490.1L1758.5 1491.6L1759.9 1474.7L1761.3 1437.7L1762.7 1498.8L1764 1478.1L1765.4 1478.4L1766.8 1474.5L1768.2 1495.4L1769.6 1464.5L1770.9 1470.3L1772.3 1481.1L1773.7 1487.2L1775.1 1487.6L1776.4 1485.9L1777.8 1486.1L1779.2 1439.8L1780.6 1468.1L1782 1429.6L1783.3 1465.7L1784.7 1459.4L1786.1 1472.3L1787.5 1468.9L1788.9 1465.8L1790.2 1468.9L1791.6 1465.8L1793 1456.4L1794.4 1465.9L1795.7 1483.2L1797.1 1467.3L1798.5 1449.7L1799.9 1443.9L1801.3 1447.6L1802.6 1450.3L1804 1479.5L1805.4 1500.9L1806.8 1510.6L1808.2 1506L1809.5 1514.9L1810.9 1512.4L1812.3 1510.6L1813.7 1520.9L1815.1 1520.1L1816.4 1522.8L1817.8 1502.5L1819.2 1521.6L1820.6 1529.9L1821.9 1525.6L1823.3 1527.8L1824.7 1533.5L1826.1 1535.1L1827.5 1531.6L1828.8 1531.4L1830.2 1533.1L1831.6 1535.8L1833 1535.7L1834.4 1534.9L1835.7 1534.6L1837.1 1534.4L1838.5 1533.9L1839.9 1533.5L1841.2 1508.7L1842.6 1530.8L1844 1536.9L1845.4 1537.8L1846.8 1541.6L1848.1 1542.8L1849.5 1543L1850.9 1546.9L1852.3 1549.3L1853.7 1548.3L1855 1528.2L1856.4 1548.8L1857.8 1549.6L1859.2 1547.5L1860.5 1548.6L1861.9 1548.6L1863.3 1552L1864.7 1547.9L1866.1 1555L1867.4 1552.3L1868.8 1554.1L1870.2 1555.9L1871.6 1561.2L1873 1560.3L1874.3 1561L1875.7 1558L1877.1 1564.4L1878.5 1565.1L1879.9 1558.5L1881.2 1558.1L1882.6 1565.1L1884 1565.1L1885.4 1565.1L1886.7 1565.1L1888.1 1555.6L1889.5 1559.7L1890.9 1565.1L1892.3 1565.1L1893.6 1565.1L1895 1565.1L1896.4 1557.3L1897.8 1552.3L1899.2 1565.1L1900.5 1565.1L1901.9 1565.1L1903.3 1565.1L1904.7 1557.2L1906 1553L1907.4 1565.1L1924.9 1565.1" fill="#6b4ea6" fill-opacity=".55" stroke="#6b4ea6" stroke-width="1.9" stroke-linejoin="round"/><path d="M1528 1629.9L1617.7 1629.9L1619 1623.8L1620.4 1622.1L1621.8 1619.4L1623.2 1615.7L1624.6 1610.3L1625.9 1613.9L1627.3 1612.5L1628.7 1613.8L1630.1 1615.2L1631.4 1606L1632.8 1608.7L1634.2 1610.2L1635.6 1601.3L1637 1609L1638.3 1618.2L1639.7 1618.2L1641.1 1619.2L1642.5 1621.6L1643.9 1622.2L1645.2 1621.4L1646.6 1617.3L1648 1616.2L1649.4 1618.6L1650.8 1621.3L1652.1 1620.4L1653.5 1618.8L1654.9 1618.7L1656.3 1615.9L1657.6 1620.3L1659 1619.9L1660.4 1620.6L1661.8 1617.9L1663.2 1617.6L1664.5 1613.5L1665.9 1621.7L1667.3 1621L1668.7 1622.3L1670.1 1621.9L1671.4 1620L1672.8 1621.9L1674.2 1622.9L1675.6 1620.1L1676.9 1620L1678.3 1623.1L1679.7 1618.9L1681.1 1619.4L1682.5 1620.4L1683.8 1621.5L1685.2 1621.5L1686.6 1621.3L1688 1620.2L1689.4 1620.3L1690.7 1618.3L1692.1 1618.2L1693.5 1612.9L1694.9 1614L1696.2 1618.3L1697.6 1618.6L1699 1616.4L1700.4 1619.6L1701.8 1620.3L1703.1 1619.6L1704.5 1616.2L1705.9 1615.6L1707.3 1608.5L1708.7 1612.8L1710 1606.6L1711.4 1609.8L1712.8 1609.5L1714.2 1610.9L1715.6 1612.5L1716.9 1612.5L1718.3 1610.1L1719.7 1614L1721.1 1612.9L1722.4 1611L1723.8 1608.4L1725.2 1602.5L1726.6 1602.4L1728 1592.7L1729.3 1598L1730.7 1598.8L1732.1 1590.8L1733.5 1595.3L1734.9 1590.2L1736.2 1595.7L1737.6 1592.7L1739 1588.1L1740.4 1595.2L1741.7 1594.6L1743.1 1589.2L1744.5 1584.9L1745.9 1559.2L1747.3 1570.5L1748.6 1569.5L1750 1570.3L1751.4 1581.3L1752.8 1579.6L1754.2 1566.2L1755.5 1568L1756.9 1540.5L1758.3 1551.4L1759.7 1547.1L1761 1527.3L1762.4 1535.6L1763.8 1511.9L1765.2 1545.6L1766.6 1523.9L1767.9 1516.2L1769.3 1514.5L1770.7 1500.2L1772.1 1499.2L1773.5 1514.6L1774.8 1520.2L1776.2 1492.3L1777.6 1509.2L1779 1490.4L1780.4 1481.6L1781.7 1503.1L1783.1 1521.8L1784.5 1514.9L1785.9 1498.4L1787.2 1519L1788.6 1496.3L1790 1521.7L1791.4 1525.2L1792.8 1539.6L1794.1 1539.1L1795.5 1526.5L1796.9 1548.3L1798.3 1549.5L1799.7 1554.7L1801 1538.1L1802.4 1563.3L1803.8 1562.3L1805.2 1554.1L1806.5 1557.2L1807.9 1579.5L1809.3 1572.8L1810.7 1592.7L1812.1 1583L1813.4 1590.8L1814.8 1597.5L1816.2 1598.2L1817.6 1594.7L1819 1590.5L1820.3 1588.9L1821.7 1590.2L1823.1 1584.1L1824.5 1591.6L1825.9 1605.7L1827.2 1612.2L1828.6 1616L1830 1612.2L1831.4 1617.4L1832.7 1613.9L1834.1 1618.6L1835.5 1609.9L1836.9 1620.6L1838.3 1621.2L1839.6 1622.2L1841 1622.4L1842.4 1615.1L1843.8 1623.9L1845.2 1623.9L1846.5 1626.2L1847.9 1624.4L1849.3 1624.7L1850.7 1624.5L1852 1624.9L1853.4 1627.3L1854.8 1627.4L1856.2 1626.2L1857.6 1627.7L1858.9 1626.6L1860.3 1625.1L1861.7 1629.9L1924.9 1629.9" fill="#28a046" fill-opacity=".4" stroke="#1ba861" stroke-width="2.2" stroke-linejoin="round"/></g><path d="M1666.1 1235.4V1627.4" stroke="#000" stroke-width="2.2" stroke-dasharray="11 5.5" fill="none"/><rect x="1528" y="1231.4" width="397.2" height="396" fill="none" stroke="#000" stroke-width="2.2"/><path d="M1524 1630.4L1927 1630.4" stroke="#1ba861" stroke-width="2.2"/><path d="M1553 1631.5v9M1617 1631.5v9M1682.6 1631.5v9M1791.7 1631.5v9M1887.3 1631.5v9M1715.4 1631.5v4.5M1734.7 1631.5v4.5M1748.3 1631.5v4.5M1758.9 1631.5v4.5M1767.5 1631.5v4.5M1774.8 1631.5v4.5M1781.1 1631.5v4.5M1786.7 1631.5v4.5M1820.5 1631.5v4.5M1837.3 1631.5v4.5M1849.3 1631.5v4.5M1858.5 1631.5v4.5M1866.1 1631.5v4.5M1872.5 1631.5v4.5M1878 1631.5v4.5M1882.9 1631.5v4.5M1913.4 1631.5v4.5M1632 1631.5v4.5M1602.4 1631.5v4.5M1643.7 1631.5v4.5M1590.9 1631.5v4.5M1652.6 1631.5v4.5M1582.3 1631.5v4.5M1659.4 1631.5v4.5M1575.7 1631.5v4.5M1664.9 1631.5v4.5M1570.3 1631.5v4.5M1669.5 1631.5v4.5M1565.8 1631.5v4.5M1673.4 1631.5v4.5M1562 1631.5v4.5M1676.8 1631.5v4.5M1558.6 1631.5v4.5M1679.9 1631.5v4.5M1555.7 1631.5v4.5" stroke="#000" stroke-width="1.2" fill="none"/><rect x="1611" y="1631" width="13" height="7" fill="#000"/><text x="1889.3" y="1661.6" font-size="17.5" text-anchor="middle">10<tspan dy="-7.3" font-size="16.6">5</tspan></text><text x="1793.7" y="1661.6" font-size="17.5" text-anchor="middle">10<tspan dy="-7.3" font-size="16.6">4</tspan></text><text x="1684.6" y="1661.6" font-size="17.5" text-anchor="middle">10<tspan dy="-7.3" font-size="16.6">3</tspan></text><text x="1555" y="1661.6" font-size="17.5" text-anchor="middle">-10<tspan dy="-7.3" font-size="16.6">3</tspan></text><text x="1617" y="1661.6" font-size="17.5" text-anchor="middle">0</text><path d="M1524.4 1679.3L1913.5 1679.3" stroke="#231f20" stroke-width="2"/><path d="M1923.5 1679.3l-17.5 -9.2l4.5 9.2l-4.5 9.2z" fill="#231f20"/><text x="1721" y="1713.7" font-size="28.1" text-anchor="middle">CD39</text><text x="1909.5" y="1363.4" font-size="19.5" text-anchor="end">80.1</text><text x="1909.5" y="1429" font-size="19.5" text-anchor="end">71.1</text><text x="1909.5" y="1496" font-size="19.5" text-anchor="end">75.9</text><text x="1909.5" y="1551" font-size="19.5" text-anchor="end">99.6</text><text x="1909.5" y="1620.3" font-size="19.5" text-anchor="end">95.6</text><text x="1939.5" y="1358.9" font-size="27.8" fill="#d3dc3a">Single APCs</text><text x="1939.5" y="1430" font-size="27.8" fill="#e9663a">Single tumor cells</text><text x="1939.5" y="1497.4" font-size="27.8" fill="#2aa9e0">Single T cells</text><text x="1939.5" y="1563.5" font-size="27.8" fill="#66339a">T:Tum clusters</text><text x="1939.5" y="1626.6" font-size="27.8" fill="#22a455">T:APC clusters</text></g>
<g id="panel-e"><text x="-2" y="1831.5" font-size="63" font-weight="bold" fill="#231f20">e</text><rect x="265.7" y="2245.6" width="31.6" height="68.4" fill="#11a8cb"/><rect x="305" y="2193.6" width="31.6" height="120.4" fill="#9b5ca6"/><rect x="343.8" y="2100.5" width="31.6" height="213.5" fill="#0b9165"/><rect x="343.8" y="2051.2" width="31.6" height="13.2" fill="#0b9165"/><rect x="383.1" y="2134.3" width="31.6" height="179.7" fill="#7a7fc1"/><rect x="461.2" y="2142.8" width="31.6" height="171.2" fill="#11a8cb"/><rect x="500.3" y="2100.5" width="31.6" height="213.5" fill="#9b5ca6"/><rect x="500.3" y="1954.3" width="31.6" height="110.1" fill="#9b5ca6"/><rect x="539.3" y="2100.5" width="31.6" height="213.5" fill="#0b9165"/><rect x="539.3" y="1986.6" width="31.6" height="77.8" fill="#0b9165"/><rect x="578.5" y="2100.5" width="31.6" height="213.5" fill="#7a7fc1"/><rect x="578.5" y="2017.5" width="31.6" height="46.9" fill="#7a7fc1"/><rect x="655.6" y="2133" width="31.6" height="181" fill="#11a8cb"/><rect x="694.7" y="2117.6" width="31.6" height="196.4" fill="#9b5ca6"/><rect x="733.8" y="2100.5" width="31.6" height="213.5" fill="#0b9165"/><rect x="733.8" y="2058.9" width="31.6" height="5.5" fill="#0b9165"/><rect x="773" y="2148.2" width="31.6" height="165.8" fill="#7a7fc1"/><rect x="851.2" y="2290.8" width="31.6" height="23.2" fill="#11a8cb"/><rect x="889.9" y="2271.7" width="31.6" height="42.3" fill="#9b5ca6"/><rect x="929" y="2296.1" width="31.6" height="17.9" fill="#0b9165"/><rect x="968.6" y="2294.9" width="31.6" height="19.1" fill="#7a7fc1"/><path d="M249.8 1932V2063.6M249.8 2100.5V2314M249.8 1932.9h-15.6M249.8 1964h-15.6M249.8 1994.8h-15.6M249.8 2025.7h-15.6M249.8 2056.8h-15.6M249.8 2171.6h-15.6M249.8 2242.9h-15.6M249.8 2314h-15.6M234.2 2314H1023.6M281.5 2314v16M320.8 2314v16M359.6 2314v16M398.9 2314v16M477 2314v16M516.1 2314v16M555.1 2314v16M594.3 2314v16M671.4 2314v16M710.5 2314v16M749.6 2314v16M788.8 2314v16M867 2314v16M905.7 2314v16M944.8 2314v16M984.4 2314v16M238.9 2075l21 -20.3M238.9 2110.6l21 -20.3" stroke="#000" stroke-width="1.8" fill="none"/><g font-size="27.5" text-anchor="end"><text x="223.7" y="1942.8">10</text><text x="223.7" y="1973.9">8</text><text x="223.7" y="2004.7">6</text><text x="223.7" y="2035.6">4</text><text x="223.7" y="2066.7">2</text><text x="223.7" y="2110.4">1.5</text><text x="223.7" y="2181.5">1.0</text><text x="223.7" y="2252.8">0.5</text><text x="223.7" y="2323.9">0.0</text></g><text font-size="30.9" text-anchor="middle" transform="translate(162.5 2131) rotate(-90)">% TNF<tspan dy="-10" font-size="19">+</tspan><tspan dy="10"> T cells</tspan></text><path d="M438.3 1932.9V2314.6" stroke="#000" stroke-width="5.8" stroke-linecap="round" stroke-dasharray="0 11.3" fill="none"/><path d="M634.3 1932.9V2314.6" stroke="#000" stroke-width="5.8" stroke-linecap="round" stroke-dasharray="0 11.3" fill="none"/><path d="M830.8 1932.9V2314.6" stroke="#000" stroke-width="5.8" stroke-linecap="round" stroke-dasharray="0 11.3" fill="none"/><path d="M320.8 2186V2206M320.8 2186h0M320.8 2206h0M398.9 2124.5V2141M398.9 2124.5h9M398.9 2141h9M671.4 2111.5V2151.8M671.4 2111.5h10M671.4 2151.8h10M710.5 2107V2126M710.5 2107h10M710.5 2126h10M788.8 2136.4V2159.9M788.8 2136.4h10M788.8 2159.9h10" stroke="#000" stroke-width="2.6" fill="none"/><g fill="#000"><circle cx="273.9" cy="2249.4" r="8.1"/><circle cx="281.8" cy="2243.5" r="8.1"/><circle cx="290" cy="2247.9" r="8.1"/><circle cx="312.6" cy="2186.9" r="8.1"/><circle cx="328.5" cy="2188.3" r="8.1"/><circle cx="320.5" cy="2205.9" r="8.1"/><circle cx="351.7" cy="2052.7" r="8.1"/><circle cx="359.9" cy="2045.9" r="8.1"/><circle cx="367.8" cy="2048.9" r="8.1"/><circle cx="390.7" cy="2122.6" r="8.1"/><circle cx="406.6" cy="2135.8" r="8.1"/><circle cx="390.7" cy="2140.8" r="8.1"/><circle cx="469.1" cy="2144.6" r="8.1"/><circle cx="477" cy="2134.9" r="8.1"/><circle cx="485.3" cy="2143.7" r="8.1"/><circle cx="508.7" cy="1959.6" r="8.1"/><circle cx="516.4" cy="1947" r="8.1"/><circle cx="524.3" cy="1955.2" r="8.1"/><circle cx="547.5" cy="1991.9" r="8.1"/><circle cx="555.4" cy="1980.2" r="8.1"/><circle cx="563.4" cy="1988.7" r="8.1"/><circle cx="586.5" cy="2018.9" r="8.1"/><circle cx="594.5" cy="2016.9" r="8.1"/><circle cx="602.1" cy="2017.5" r="8.1"/><circle cx="672.6" cy="2111.5" r="8.1"/><circle cx="679.9" cy="2138.9" r="8.1"/><circle cx="665.2" cy="2149.4" r="8.1"/><circle cx="704.4" cy="2105.4" r="8.1"/><circle cx="719.1" cy="2121.3" r="8.1"/><circle cx="704.4" cy="2126.2" r="8.1"/><circle cx="742.3" cy="2060.1" r="8.1"/><circle cx="750.9" cy="2057.2" r="8.1"/><circle cx="758.2" cy="2058.9" r="8.1"/><circle cx="781.4" cy="2135.9" r="8.1"/><circle cx="797.3" cy="2148.7" r="8.1"/><circle cx="782.2" cy="2159.9" r="8.1"/><circle cx="860.2" cy="2292.5" r="8.1"/><circle cx="868.3" cy="2283.9" r="8.1"/><circle cx="876.3" cy="2288.8" r="8.1"/><circle cx="898.8" cy="2272.9" r="8.1"/><circle cx="907.4" cy="2261.9" r="8.1"/><circle cx="915.5" cy="2264.4" r="8.1"/><circle cx="938" cy="2297.9" r="8.1"/><circle cx="946.5" cy="2289.5" r="8.1"/><circle cx="953.9" cy="2294.4" r="8.1"/><circle cx="977.1" cy="2295.4" r="8.1"/><circle cx="984.9" cy="2289.5" r="8.1"/><circle cx="993" cy="2293.7" r="8.1"/></g><path d="M277.7 2221.5V2132.8H318.8V2155.4" stroke="#000" stroke-width="1.8" fill="none"/><path d="M280.6 2104V2013.9H357.5V2026.2" stroke="#000" stroke-width="1.8" fill="none"/><path d="M367.2 2026.2V2012.4H398.9V2105.5" stroke="#7b80c3" stroke-width="6.2" stroke-linecap="round" stroke-linejoin="miter" fill="none"/><path d="M312.9 1977.2V1973.4H359.9V1982.2" stroke="#7b80c3" stroke-width="6.2" stroke-linecap="round" stroke-linejoin="miter" fill="none"/><path d="M312.9 1936.7V1927.9H398.9V1974.9" stroke="#7b80c3" stroke-width="6.2" stroke-linecap="round" stroke-linejoin="miter" fill="none"/><path d="M477.3 2106.4V1915.6H520.5V1929.4" stroke="#000" stroke-width="1.8" fill="none"/><path d="M475.9 1880.9V1865.7H555.7V1958.7" stroke="#000" stroke-width="1.8" fill="none"/><path d="M511.7 1828V1825.1H595.4V1994" stroke="#7b80c3" stroke-width="6.2" stroke-linecap="round" stroke-linejoin="miter" fill="none"/><path d="M552.8 1825.1V1825.1H552.8V1829.5" stroke="#7b80c3" stroke-width="6.2" stroke-linecap="round" stroke-linejoin="miter" fill="none"/><path d="M511.7 1785.5V1785.5H596.8V1785.5" stroke="#7b80c3" stroke-width="6.2" stroke-linecap="round" stroke-linejoin="miter" fill="none"/><path d="M671.4 2081.6V2046.7H708V2077.7" stroke="#000" stroke-width="1.8" fill="none"/><path d="M671.4 2006.3V1993.4H745.2V2032" stroke="#000" stroke-width="1.8" fill="none"/><path d="M752.1 2032V1992.9H790V2112" stroke="#7b80c3" stroke-width="6.2" stroke-linecap="round" stroke-linejoin="miter" fill="none"/><path d="M712.5 1956.2V1951.3H752.1V1955" stroke="#7b80c3" stroke-width="6.2" stroke-linecap="round" stroke-linejoin="miter" fill="none"/><path d="M711.7 1919.5V1908.5H790V1953" stroke="#7b80c3" stroke-width="6.2" stroke-linecap="round" stroke-linejoin="miter" fill="none"/><path d="M867 2263.1V2237.4H908.1V2244.8" stroke="#000" stroke-width="1.8" fill="none"/><path d="M867 2204.9V2198.3H939.2V2277.8" stroke="#000" stroke-width="1.8" fill="none"/><path d="M947.7 2277.8V2197.1H983.9V2277.8" stroke="#7b80c3" stroke-width="6.2" stroke-linecap="round" stroke-linejoin="miter" fill="none"/><path d="M900 2158V2150.1H939.2V2158" stroke="#7b80c3" stroke-width="6.2" stroke-linecap="round" stroke-linejoin="miter" fill="none"/><path d="M900.8 2115.2V2104.6H984.4V2145.7" stroke="#7b80c3" stroke-width="6.2" stroke-linecap="round" stroke-linejoin="miter" fill="none"/><text x="298.8" y="2127.6" font-size="31" text-anchor="middle" font-weight="bold">*</text><text x="318.8" y="2008.7" font-size="31" text-anchor="middle" font-weight="bold">****</text><text x="383.1" y="2008.7" font-size="31" text-anchor="middle" font-weight="bold">****</text><text x="336.4" y="1968.5" font-size="31" text-anchor="middle" font-weight="bold">****</text><text x="356" y="1923.6" font-size="31" text-anchor="middle" font-weight="bold">**</text><text x="499.9" y="1910.4" font-size="31" text-anchor="middle" font-weight="bold">****</text><text x="516" y="1860.5" font-size="31" text-anchor="middle" font-weight="bold">****</text><text x="531.6" y="1818.8" font-size="31" text-anchor="middle" font-weight="bold">***</text><text x="575.4" y="1818.8" font-size="31" text-anchor="middle" font-weight="bold">***</text><text x="554.2" y="1780.6" font-size="31" text-anchor="middle" font-weight="bold">****</text><text x="708.5" y="1987.1" font-size="31" text-anchor="middle" font-weight="bold">***</text><text x="771.2" y="1987.1" font-size="31" text-anchor="middle" font-weight="bold">***</text><text x="733" y="1945.5" font-size="31" text-anchor="middle" font-weight="bold">**</text><text x="887.8" y="2230.4" font-size="31" text-anchor="middle" font-weight="bold">***</text><text x="920.1" y="2143.6" font-size="31" text-anchor="middle" font-weight="bold">****</text><text x="942.8" y="2098.4" font-size="31" text-anchor="middle" font-weight="bold">***</text><text x="690.9" y="2029.5" font-size="20" text-anchor="middle">ns</text><text x="752.1" y="1892.6" font-size="20" text-anchor="middle">ns</text><text x="904.9" y="2181.9" font-size="20" text-anchor="middle">ns</text><text x="966.6" y="2181.9" font-size="20" text-anchor="middle">ns</text><rect x="1234.5" y="2260.7" width="31.6" height="50.4" fill="#11a8cb"/><rect x="1273.4" y="2196.8" width="31.6" height="114.3" fill="#9b5ca6"/><rect x="1312.5" y="2097.1" width="31.6" height="214" fill="#0b9165"/><rect x="1312.5" y="2056.3" width="31.6" height="5.1" fill="#0b9165"/><rect x="1351.4" y="2139.8" width="31.6" height="171.3" fill="#7a7fc1"/><rect x="1429.7" y="2278" width="31.6" height="33.1" fill="#11a8cb"/><rect x="1468.6" y="2097.1" width="31.6" height="214" fill="#9b5ca6"/><rect x="1468.6" y="2040.4" width="31.6" height="21" fill="#9b5ca6"/><rect x="1507.5" y="2097.1" width="31.6" height="214" fill="#0b9165"/><rect x="1507.5" y="1980" width="31.6" height="81.4" fill="#0b9165"/><rect x="1546.3" y="2097.1" width="31.6" height="214" fill="#7a7fc1"/><rect x="1546.3" y="1980" width="31.6" height="81.4" fill="#7a7fc1"/><rect x="1624.1" y="2279" width="31.6" height="32.1" fill="#11a8cb"/><rect x="1663.2" y="2236.2" width="31.6" height="74.9" fill="#9b5ca6"/><rect x="1702.1" y="2250.9" width="31.6" height="60.2" fill="#0b9165"/><rect x="1741" y="2227.7" width="31.6" height="83.4" fill="#7a7fc1"/><rect x="1818.8" y="2294.9" width="31.6" height="16.2" fill="#11a8cb"/><rect x="1857.9" y="2296.1" width="31.6" height="15" fill="#9b5ca6"/><rect x="1897.1" y="2301" width="31.6" height="10.1" fill="#0b9165"/><rect x="1936.2" y="2301.8" width="31.6" height="9.3" fill="#7a7fc1"/><path d="M1218.9 1929.2V2060.6M1218.9 2097.1V2311.1M1218.9 1930.1h-15.6M1218.9 1961.2h-15.6M1218.9 1992h-15.6M1218.9 2023.1h-15.6M1218.9 2054h-15.6M1218.9 2168.5h-15.6M1218.9 2239.7h-15.6M1218.9 2311.1h-15.6M1203.3 2311.1H1991.1M1250.3 2311.1v16M1289.2 2311.1v16M1328.3 2311.1v16M1367.2 2311.1v16M1445.5 2311.1v16M1484.4 2311.1v16M1523.3 2311.1v16M1562.1 2311.1v16M1639.9 2311.1v16M1679 2311.1v16M1717.9 2311.1v16M1756.8 2311.1v16M1834.6 2311.1v16M1873.7 2311.1v16M1912.9 2311.1v16M1952 2311.1v16M1208 2072l21 -20.3M1208 2107.2l21 -20.3" stroke="#000" stroke-width="1.8" fill="none"/><g font-size="27.5" text-anchor="end"><text x="1193" y="1940">10</text><text x="1193" y="1971.1">8</text><text x="1193" y="2001.9">6</text><text x="1193" y="2033">4</text><text x="1193" y="2063.9">2</text><text x="1193" y="2107">1.5</text><text x="1193" y="2178.4">1.0</text><text x="1193" y="2249.6">0.5</text><text x="1193" y="2321">0.0</text></g><text font-size="30.9" text-anchor="middle" transform="translate(1132 2100) rotate(-90)">% IFNγ<tspan dy="-10" font-size="19">+</tspan><tspan dy="10"> T cells</tspan></text><path d="M1407.2 1930.1V2311.7" stroke="#000" stroke-width="5.8" stroke-linecap="round" stroke-dasharray="0 11.3" fill="none"/><path d="M1602.8 1930.1V2311.7" stroke="#000" stroke-width="5.8" stroke-linecap="round" stroke-dasharray="0 11.3" fill="none"/><path d="M1798.4 1930.1V2311.7" stroke="#000" stroke-width="5.8" stroke-linecap="round" stroke-dasharray="0 11.3" fill="none"/><g fill="#000"><circle cx="1242.5" cy="2258.4" r="8.1"/><circle cx="1250.3" cy="2252" r="8.1"/><circle cx="1258.4" cy="2256.4" r="8.1"/><circle cx="1281.4" cy="2195.9" r="8.1"/><circle cx="1289.5" cy="2188.7" r="8.1"/><circle cx="1297.5" cy="2193.9" r="8.1"/><circle cx="1320.3" cy="2057.7" r="8.1"/><circle cx="1328.9" cy="2054" r="8.1"/><circle cx="1336.7" cy="2055.4" r="8.1"/><circle cx="1359.1" cy="2138.3" r="8.1"/><circle cx="1367.2" cy="2132.6" r="8.1"/><circle cx="1375" cy="2137.5" r="8.1"/><circle cx="1437.5" cy="2278" r="8.1"/><circle cx="1445.5" cy="2275.7" r="8.1"/><circle cx="1454.2" cy="2275.7" r="8.1"/><circle cx="1476.6" cy="2037.5" r="8.1"/><circle cx="1484.7" cy="2033.2" r="8.1"/><circle cx="1493" cy="2035.5" r="8.1"/><circle cx="1516.1" cy="1977.9" r="8.1"/><circle cx="1523.8" cy="1973.6" r="8.1"/><circle cx="1531.9" cy="1976.2" r="8.1"/><circle cx="1554.9" cy="1980.8" r="8.1"/><circle cx="1562.4" cy="1971.9" r="8.1"/><circle cx="1570.5" cy="1976.2" r="8.1"/><circle cx="1633.5" cy="2281.5" r="8.1"/><circle cx="1641.4" cy="2279.5" r="8.1"/><circle cx="1648.7" cy="2279" r="8.1"/><circle cx="1671.9" cy="2241.1" r="8.1"/><circle cx="1680" cy="2232.6" r="8.1"/><circle cx="1687.8" cy="2235.7" r="8.1"/><circle cx="1711.1" cy="2255.8" r="8.1"/><circle cx="1719.1" cy="2246.5" r="8.1"/><circle cx="1726.5" cy="2249.7" r="8.1"/><circle cx="1750.2" cy="2231.3" r="8.1"/><circle cx="1757.5" cy="2221.5" r="8.1"/><circle cx="1765.6" cy="2228.4" r="8.1"/><circle cx="1827.2" cy="2299.8" r="8.1"/><circle cx="1835.8" cy="2290.8" r="8.1"/><circle cx="1843.9" cy="2292.5" r="8.1"/><circle cx="1867.1" cy="2295.4" r="8.1"/><circle cx="1874.9" cy="2291.3" r="8.1"/><circle cx="1882.8" cy="2294.9" r="8.1"/><circle cx="1905.5" cy="2301" r="8.1"/><circle cx="1914.1" cy="2299.8" r="8.1"/><circle cx="1921.9" cy="2299.3" r="8.1"/><circle cx="1944.6" cy="2302.7" r="8.1"/><circle cx="1953.2" cy="2294.4" r="8.1"/><circle cx="1961.3" cy="2299.3" r="8.1"/></g><path d="M1246.8 2230.4V2141.2H1287.7V2162.8" stroke="#000" stroke-width="1.8" fill="none"/><path d="M1249.7 2092.2V2022.3H1326V2034.7" stroke="#000" stroke-width="1.8" fill="none"/><path d="M1335.5 2034.7V2021.1H1367.8V2112.4" stroke="#7b80c3" stroke-width="6.2" stroke-linecap="round" stroke-linejoin="miter" fill="none"/><path d="M1282 1986.6V1982H1328.3V1990" stroke="#7b80c3" stroke-width="6.2" stroke-linecap="round" stroke-linejoin="miter" fill="none"/><path d="M1282 1945.4V1937.6H1368.3V1982.8" stroke="#7b80c3" stroke-width="6.2" stroke-linecap="round" stroke-linejoin="miter" fill="none"/><path d="M1446.4 2254.9V1999.5H1485.2V2005.9" stroke="#000" stroke-width="1.8" fill="none"/><path d="M1444.9 1962.7V1948.3H1523.8V1956.9" stroke="#000" stroke-width="1.8" fill="none"/><path d="M1481.5 1909.5V1907.1H1563V1956.9" stroke="#7b80c3" stroke-width="6.2" stroke-linecap="round" stroke-linejoin="miter" fill="none"/><path d="M1521 1907.1V1907.1H1521V1911" stroke="#7b80c3" stroke-width="6.2" stroke-linecap="round" stroke-linejoin="miter" fill="none"/><path d="M1481.5 1868.2V1868.2H1564.1V1868.2" stroke="#7b80c3" stroke-width="6.2" stroke-linecap="round" stroke-linejoin="miter" fill="none"/><path d="M1639.9 2258.7V2194.6H1674.4V2211.3" stroke="#000" stroke-width="1.8" fill="none"/><path d="M1639.9 2155.5V2151.1H1714V2221" stroke="#000" stroke-width="1.8" fill="none"/><path d="M1720.4 2220.3V2151.1H1760.5V2197.6" stroke="#7b80c3" stroke-width="6.2" stroke-linecap="round" stroke-linejoin="miter" fill="none"/><path d="M1680.5 2112.7V2107.8H1720.4V2111" stroke="#7b80c3" stroke-width="6.2" stroke-linecap="round" stroke-linejoin="miter" fill="none"/><path d="M1680 2079.2V2068.7H1758.3V2111.5" stroke="#7b80c3" stroke-width="6.2" stroke-linecap="round" stroke-linejoin="miter" fill="none"/><path d="M1835.3 2272.9V2253.8H1874.9V2275.4" stroke="#000" stroke-width="1.8" fill="none"/><path d="M1835.3 2222V2196.4H1907.2V2272.4" stroke="#000" stroke-width="1.8" fill="none"/><path d="M1914.1 2272.9V2195.9H1952V2272.9" stroke="#7b80c3" stroke-width="6.2" stroke-linecap="round" stroke-linejoin="miter" fill="none"/><path d="M1868.3 2160.9V2152.6H1906.7V2160.9" stroke="#7b80c3" stroke-width="6.2" stroke-linecap="round" stroke-linejoin="miter" fill="none"/><path d="M1868.8 2123.7V2112.7H1952V2154.3" stroke="#7b80c3" stroke-width="6.2" stroke-linecap="round" stroke-linejoin="miter" fill="none"/><text x="1267.6" y="2135.7" font-size="31" text-anchor="middle" font-weight="bold">****</text><text x="1287.7" y="2016.8" font-size="31" text-anchor="middle" font-weight="bold">****</text><text x="1351.9" y="2016.8" font-size="31" text-anchor="middle" font-weight="bold">****</text><text x="1305.3" y="1977.3" font-size="31" text-anchor="middle" font-weight="bold">****</text><text x="1325.2" y="1932.7" font-size="31" text-anchor="middle" font-weight="bold">****</text><text x="1466.2" y="1994.6" font-size="31" text-anchor="middle" font-weight="bold">****</text><text x="1485" y="1942.8" font-size="31" text-anchor="middle" font-weight="bold">****</text><text x="1500.2" y="1900.5" font-size="31" text-anchor="middle" font-weight="bold">****</text><text x="1522.7" y="1863" font-size="31" text-anchor="middle" font-weight="bold">****</text><text x="1657.3" y="2189.4" font-size="31" text-anchor="middle" font-weight="bold">****</text><text x="1676.8" y="2144.8" font-size="31" text-anchor="middle" font-weight="bold">****</text><text x="1740.9" y="2144.8" font-size="31" text-anchor="middle" font-weight="bold">***</text><text x="1700.6" y="2102" font-size="31" text-anchor="middle" font-weight="bold">*</text><text x="1544.8" y="1890.7" font-size="20" text-anchor="middle">ns</text><text x="1716.7" y="2052.8" font-size="20" text-anchor="middle">ns</text><text x="1856.6" y="2237.5" font-size="20" text-anchor="middle">ns</text><text x="1868.8" y="2179.5" font-size="20" text-anchor="middle">ns</text><text x="1934.9" y="2179.5" font-size="20" text-anchor="middle">ns</text><text x="1889.1" y="2140.3" font-size="20" text-anchor="middle">ns</text><text x="1912.1" y="2096.8" font-size="20" text-anchor="middle">ns</text><text x="123" y="2371.2" font-size="26.7">Patient ID:</text><text x="337.9" y="2370" font-size="31.5" text-anchor="middle">P8</text><text x="532.4" y="2370.5" font-size="31.5" text-anchor="middle">P17</text><text x="732.3" y="2373" font-size="31.5" text-anchor="middle">P18</text><text x="927.4" y="2373.5" font-size="31.5" text-anchor="middle">P19</text><text x="1310.7" y="2372.4" font-size="31.5" text-anchor="middle">P8</text><text x="1505.6" y="2372.8" font-size="31.5" text-anchor="middle">P17</text><text x="1701.6" y="2375" font-size="31.5" text-anchor="middle">P18</text><text x="1895.3" y="2376" font-size="31.5" text-anchor="middle">P19</text><rect x="284.5" y="2418" width="49.8" height="30" fill="#11a8cb"/><rect x="654.2" y="2418" width="49.8" height="30" fill="#9b5ca6"/><rect x="1118.8" y="2418" width="49.8" height="30" fill="#0b9165"/><rect x="1561.2" y="2418" width="49.8" height="30" fill="#7a7fc1"/><text x="343.3" y="2444.5" font-size="32">T cells from singlets</text><text x="713" y="2444.5" font-size="32">T cells from tumor clusters</text><text x="1184.8" y="2444.5" font-size="32">T cells from APC clusters</text><text x="1631.4" y="2444.5" font-size="32">CD39<tspan dy="-11" font-size="20">+</tspan><tspan dy="11"> T cells</tspan></text></g></svg></body></html>
